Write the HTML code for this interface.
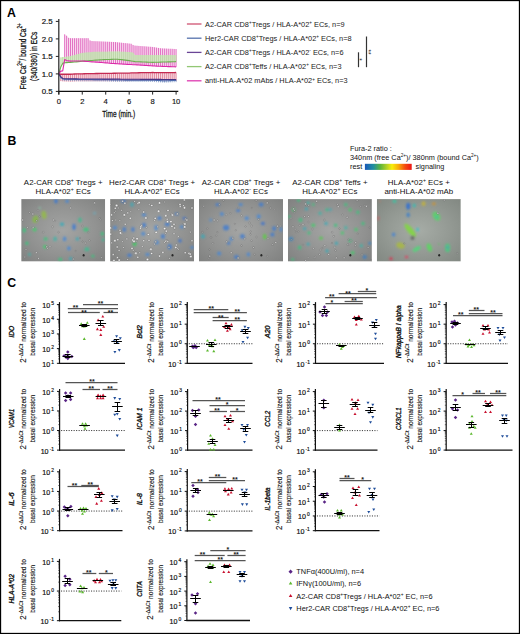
<!DOCTYPE html>
<html><head><meta charset="utf-8"><style>
html,body{margin:0;padding:0;background:#fff;}
body{width:520px;height:634px;overflow:hidden;position:relative;}
svg{position:absolute;left:0;top:0;display:block;font-family:"Liberation Sans", sans-serif;}
</style></head><body>
<svg width="520" height="634" viewBox="0 0 520 634">
<rect x="0" y="0" width="520" height="634" fill="#fff"/>
<text transform="translate(6.90,17.00)" font-size="12.3" text-anchor="start" fill="#000" font-weight="bold" >A</text>
<text transform="translate(7.50,144.90)" font-size="12.3" text-anchor="start" fill="#000" font-weight="bold" >B</text>
<text transform="translate(7.20,287.30)" font-size="12.3" text-anchor="start" fill="#000" font-weight="bold" >C</text>
<polygon points="64.66,59.55 66.62,60.58 68.58,60.84 70.53,61.09 72.48,61.07 74.44,61.04 76.39,61.02 78.35,61.00 80.30,60.97 82.26,60.95 84.22,61.14 86.17,61.34 88.12,61.53 90.08,61.70 92.03,61.83 93.99,61.96 95.94,62.09 97.90,62.22 99.85,62.35 101.81,62.52 103.77,62.70 105.72,62.88 107.68,63.05 109.63,63.23 111.59,63.40 113.54,63.52 115.50,63.63 117.45,63.75 119.41,63.87 121.36,63.98 123.31,64.10 125.27,64.22 127.22,64.33 129.18,64.45 131.13,64.57 133.09,64.68 135.05,64.80 137.00,64.92 138.95,65.03 140.91,65.15 142.87,65.27 144.82,65.38 146.78,65.50 148.73,65.62 150.69,65.73 152.64,65.85 154.59,65.97 156.55,66.08 158.50,66.20 160.46,66.28 162.42,66.36 164.37,66.43 166.32,66.51 168.28,66.59 170.24,66.67 172.19,66.74 174.15,66.82 176.10,66.90 176.10,49.05 174.15,48.96 172.19,48.87 170.24,48.78 168.28,48.69 166.32,48.60 164.37,48.51 162.42,48.42 160.46,48.28 158.50,47.95 156.55,47.62 154.59,47.28 152.64,46.95 150.69,46.80 148.73,46.66 146.78,46.51 144.82,46.37 142.87,46.22 140.91,46.08 138.95,45.93 137.00,45.78 135.05,45.64 133.09,44.97 131.13,43.76 129.18,43.55 127.22,43.34 125.27,43.13 123.31,42.93 121.36,42.72 119.41,42.51 117.45,42.30 115.50,42.09 113.54,41.98 111.59,41.90 109.63,41.82 107.68,41.73 105.72,41.65 103.77,41.57 101.81,41.48 99.85,41.40 97.90,41.32 95.94,41.23 93.99,41.15 92.03,41.07 90.08,40.53 88.12,38.20 86.17,38.20 84.22,38.20 82.26,38.20 80.30,38.20 78.35,38.20 76.39,38.20 74.44,38.20 72.48,38.20 70.53,38.20 68.58,37.86 66.62,35.72 64.66,34.35" fill="#fae4f3" fill-opacity="1.0"/>
<line x1="64.66" y1="59.55" x2="64.66" y2="34.35" stroke="#e068c0" stroke-width="0.95" />
<line x1="66.62" y1="60.58" x2="66.62" y2="35.72" stroke="#e068c0" stroke-width="0.95" />
<line x1="68.58" y1="60.84" x2="68.58" y2="37.86" stroke="#e068c0" stroke-width="0.95" />
<line x1="70.53" y1="61.09" x2="70.53" y2="38.20" stroke="#e068c0" stroke-width="0.95" />
<line x1="72.48" y1="61.07" x2="72.48" y2="38.20" stroke="#e068c0" stroke-width="0.95" />
<line x1="74.44" y1="61.04" x2="74.44" y2="38.20" stroke="#e068c0" stroke-width="0.95" />
<line x1="76.39" y1="61.02" x2="76.39" y2="38.20" stroke="#e068c0" stroke-width="0.95" />
<line x1="78.35" y1="61.00" x2="78.35" y2="38.20" stroke="#e068c0" stroke-width="0.95" />
<line x1="80.30" y1="60.97" x2="80.30" y2="38.20" stroke="#e068c0" stroke-width="0.95" />
<line x1="82.26" y1="60.95" x2="82.26" y2="38.20" stroke="#e068c0" stroke-width="0.95" />
<line x1="84.22" y1="61.14" x2="84.22" y2="38.20" stroke="#e068c0" stroke-width="0.95" />
<line x1="86.17" y1="61.34" x2="86.17" y2="38.20" stroke="#e068c0" stroke-width="0.95" />
<line x1="88.12" y1="61.53" x2="88.12" y2="38.20" stroke="#e068c0" stroke-width="0.95" />
<line x1="90.08" y1="61.70" x2="90.08" y2="40.53" stroke="#e068c0" stroke-width="0.95" />
<line x1="92.03" y1="61.83" x2="92.03" y2="41.07" stroke="#e068c0" stroke-width="0.95" />
<line x1="93.99" y1="61.96" x2="93.99" y2="41.15" stroke="#e068c0" stroke-width="0.95" />
<line x1="95.94" y1="62.09" x2="95.94" y2="41.23" stroke="#e068c0" stroke-width="0.95" />
<line x1="97.90" y1="62.22" x2="97.90" y2="41.32" stroke="#e068c0" stroke-width="0.95" />
<line x1="99.85" y1="62.35" x2="99.85" y2="41.40" stroke="#e068c0" stroke-width="0.95" />
<line x1="101.81" y1="62.52" x2="101.81" y2="41.48" stroke="#e068c0" stroke-width="0.95" />
<line x1="103.77" y1="62.70" x2="103.77" y2="41.57" stroke="#e068c0" stroke-width="0.95" />
<line x1="105.72" y1="62.88" x2="105.72" y2="41.65" stroke="#e068c0" stroke-width="0.95" />
<line x1="107.68" y1="63.05" x2="107.68" y2="41.73" stroke="#e068c0" stroke-width="0.95" />
<line x1="109.63" y1="63.23" x2="109.63" y2="41.82" stroke="#e068c0" stroke-width="0.95" />
<line x1="111.59" y1="63.40" x2="111.59" y2="41.90" stroke="#e068c0" stroke-width="0.95" />
<line x1="113.54" y1="63.52" x2="113.54" y2="41.98" stroke="#e068c0" stroke-width="0.95" />
<line x1="115.50" y1="63.63" x2="115.50" y2="42.09" stroke="#e068c0" stroke-width="0.95" />
<line x1="117.45" y1="63.75" x2="117.45" y2="42.30" stroke="#e068c0" stroke-width="0.95" />
<line x1="119.41" y1="63.87" x2="119.41" y2="42.51" stroke="#e068c0" stroke-width="0.95" />
<line x1="121.36" y1="63.98" x2="121.36" y2="42.72" stroke="#e068c0" stroke-width="0.95" />
<line x1="123.31" y1="64.10" x2="123.31" y2="42.93" stroke="#e068c0" stroke-width="0.95" />
<line x1="125.27" y1="64.22" x2="125.27" y2="43.13" stroke="#e068c0" stroke-width="0.95" />
<line x1="127.22" y1="64.33" x2="127.22" y2="43.34" stroke="#e068c0" stroke-width="0.95" />
<line x1="129.18" y1="64.45" x2="129.18" y2="43.55" stroke="#e068c0" stroke-width="0.95" />
<line x1="131.13" y1="64.57" x2="131.13" y2="43.76" stroke="#e068c0" stroke-width="0.95" />
<line x1="133.09" y1="64.68" x2="133.09" y2="44.97" stroke="#e068c0" stroke-width="0.95" />
<line x1="135.05" y1="64.80" x2="135.05" y2="45.64" stroke="#e068c0" stroke-width="0.95" />
<line x1="137.00" y1="64.92" x2="137.00" y2="45.78" stroke="#e068c0" stroke-width="0.95" />
<line x1="138.95" y1="65.03" x2="138.95" y2="45.93" stroke="#e068c0" stroke-width="0.95" />
<line x1="140.91" y1="65.15" x2="140.91" y2="46.08" stroke="#e068c0" stroke-width="0.95" />
<line x1="142.87" y1="65.27" x2="142.87" y2="46.22" stroke="#e068c0" stroke-width="0.95" />
<line x1="144.82" y1="65.38" x2="144.82" y2="46.37" stroke="#e068c0" stroke-width="0.95" />
<line x1="146.78" y1="65.50" x2="146.78" y2="46.51" stroke="#e068c0" stroke-width="0.95" />
<line x1="148.73" y1="65.62" x2="148.73" y2="46.66" stroke="#e068c0" stroke-width="0.95" />
<line x1="150.69" y1="65.73" x2="150.69" y2="46.80" stroke="#e068c0" stroke-width="0.95" />
<line x1="152.64" y1="65.85" x2="152.64" y2="46.95" stroke="#e068c0" stroke-width="0.95" />
<line x1="154.59" y1="65.97" x2="154.59" y2="47.28" stroke="#e068c0" stroke-width="0.95" />
<line x1="156.55" y1="66.08" x2="156.55" y2="47.62" stroke="#e068c0" stroke-width="0.95" />
<line x1="158.50" y1="66.20" x2="158.50" y2="47.95" stroke="#e068c0" stroke-width="0.95" />
<line x1="160.46" y1="66.28" x2="160.46" y2="48.28" stroke="#e068c0" stroke-width="0.95" />
<line x1="162.42" y1="66.36" x2="162.42" y2="48.42" stroke="#e068c0" stroke-width="0.95" />
<line x1="164.37" y1="66.43" x2="164.37" y2="48.51" stroke="#e068c0" stroke-width="0.95" />
<line x1="166.32" y1="66.51" x2="166.32" y2="48.60" stroke="#e068c0" stroke-width="0.95" />
<line x1="168.28" y1="66.59" x2="168.28" y2="48.69" stroke="#e068c0" stroke-width="0.95" />
<line x1="170.24" y1="66.67" x2="170.24" y2="48.78" stroke="#e068c0" stroke-width="0.95" />
<line x1="172.19" y1="66.74" x2="172.19" y2="48.87" stroke="#e068c0" stroke-width="0.95" />
<line x1="174.15" y1="66.82" x2="174.15" y2="48.96" stroke="#e068c0" stroke-width="0.95" />
<line x1="176.10" y1="66.90" x2="176.10" y2="49.05" stroke="#e068c0" stroke-width="0.95" />
<polygon points="60.75,67.04 62.71,63.39 64.66,62.70 66.62,62.58 68.58,62.47 70.53,62.35 72.48,62.17 74.44,62.00 76.39,61.83 78.35,61.65 80.30,61.48 82.26,61.30 84.22,61.13 86.17,60.95 88.12,60.78 90.08,60.60 92.03,60.43 93.99,60.25 95.94,60.13 97.90,60.02 99.85,59.90 101.81,59.78 103.77,59.67 105.72,59.55 107.68,59.49 109.63,59.43 111.59,59.38 113.54,59.32 115.50,59.26 117.45,59.20 119.41,59.43 121.36,59.67 123.31,59.90 125.27,60.13 127.22,60.37 129.18,60.60 131.13,60.95 133.09,61.30 135.05,61.65 137.00,61.73 138.95,61.81 140.91,61.88 142.87,61.96 144.82,62.04 146.78,62.12 148.73,62.19 150.69,62.27 152.64,62.35 154.59,62.29 156.55,62.23 158.50,62.18 160.46,62.12 162.42,62.06 164.37,62.00 166.32,61.94 168.28,61.88 170.24,61.83 172.19,61.77 174.15,61.71 176.10,61.65 176.10,55.00 174.15,55.00 172.19,55.00 170.24,55.00 168.28,55.00 166.32,55.00 164.37,55.00 162.42,55.00 160.46,55.00 158.50,55.00 156.55,55.00 154.59,55.00 152.64,55.00 150.69,55.00 148.73,55.00 146.78,55.00 144.82,55.00 142.87,55.00 140.91,55.00 138.95,55.00 137.00,55.00 135.05,55.00 133.09,52.67 131.13,52.13 129.18,52.04 127.22,51.95 125.27,51.86 123.31,51.77 121.36,51.68 119.41,51.59 117.45,51.50 115.50,51.53 113.54,51.56 111.59,51.59 109.63,51.62 107.68,51.65 105.72,51.68 103.77,51.70 101.81,51.73 99.85,51.76 97.90,51.79 95.94,51.82 93.99,51.85 92.03,52.03 90.08,52.20 88.12,52.38 86.17,52.55 84.22,52.73 82.26,52.90 80.30,53.43 78.35,53.95 76.39,54.48 74.44,55.00 72.48,55.52 70.53,56.05 68.58,56.40 66.62,56.75 64.66,57.10 62.71,57.10 60.75,57.43" fill="#cfe8bf" fill-opacity="0.8"/>
<line x1="60.75" y1="67.04" x2="60.75" y2="57.43" stroke="#b8dca2" stroke-width="0.8" />
<line x1="62.71" y1="63.39" x2="62.71" y2="57.10" stroke="#b8dca2" stroke-width="0.8" />
<line x1="64.66" y1="62.70" x2="64.66" y2="57.10" stroke="#b8dca2" stroke-width="0.8" />
<line x1="66.62" y1="62.58" x2="66.62" y2="56.75" stroke="#b8dca2" stroke-width="0.8" />
<line x1="68.58" y1="62.47" x2="68.58" y2="56.40" stroke="#b8dca2" stroke-width="0.8" />
<line x1="70.53" y1="62.35" x2="70.53" y2="56.05" stroke="#b8dca2" stroke-width="0.8" />
<line x1="72.48" y1="62.17" x2="72.48" y2="55.52" stroke="#b8dca2" stroke-width="0.8" />
<line x1="74.44" y1="62.00" x2="74.44" y2="55.00" stroke="#b8dca2" stroke-width="0.8" />
<line x1="76.39" y1="61.83" x2="76.39" y2="54.48" stroke="#b8dca2" stroke-width="0.8" />
<line x1="78.35" y1="61.65" x2="78.35" y2="53.95" stroke="#b8dca2" stroke-width="0.8" />
<line x1="80.30" y1="61.48" x2="80.30" y2="53.43" stroke="#b8dca2" stroke-width="0.8" />
<line x1="82.26" y1="61.30" x2="82.26" y2="52.90" stroke="#b8dca2" stroke-width="0.8" />
<line x1="84.22" y1="61.13" x2="84.22" y2="52.73" stroke="#b8dca2" stroke-width="0.8" />
<line x1="86.17" y1="60.95" x2="86.17" y2="52.55" stroke="#b8dca2" stroke-width="0.8" />
<line x1="88.12" y1="60.78" x2="88.12" y2="52.38" stroke="#b8dca2" stroke-width="0.8" />
<line x1="90.08" y1="60.60" x2="90.08" y2="52.20" stroke="#b8dca2" stroke-width="0.8" />
<line x1="92.03" y1="60.43" x2="92.03" y2="52.03" stroke="#b8dca2" stroke-width="0.8" />
<line x1="93.99" y1="60.25" x2="93.99" y2="51.85" stroke="#b8dca2" stroke-width="0.8" />
<line x1="95.94" y1="60.13" x2="95.94" y2="51.82" stroke="#b8dca2" stroke-width="0.8" />
<line x1="97.90" y1="60.02" x2="97.90" y2="51.79" stroke="#b8dca2" stroke-width="0.8" />
<line x1="99.85" y1="59.90" x2="99.85" y2="51.76" stroke="#b8dca2" stroke-width="0.8" />
<line x1="101.81" y1="59.78" x2="101.81" y2="51.73" stroke="#b8dca2" stroke-width="0.8" />
<line x1="103.77" y1="59.67" x2="103.77" y2="51.70" stroke="#b8dca2" stroke-width="0.8" />
<line x1="105.72" y1="59.55" x2="105.72" y2="51.68" stroke="#b8dca2" stroke-width="0.8" />
<line x1="107.68" y1="59.49" x2="107.68" y2="51.65" stroke="#b8dca2" stroke-width="0.8" />
<line x1="109.63" y1="59.43" x2="109.63" y2="51.62" stroke="#b8dca2" stroke-width="0.8" />
<line x1="111.59" y1="59.38" x2="111.59" y2="51.59" stroke="#b8dca2" stroke-width="0.8" />
<line x1="113.54" y1="59.32" x2="113.54" y2="51.56" stroke="#b8dca2" stroke-width="0.8" />
<line x1="115.50" y1="59.26" x2="115.50" y2="51.53" stroke="#b8dca2" stroke-width="0.8" />
<line x1="117.45" y1="59.20" x2="117.45" y2="51.50" stroke="#b8dca2" stroke-width="0.8" />
<line x1="119.41" y1="59.43" x2="119.41" y2="51.59" stroke="#b8dca2" stroke-width="0.8" />
<line x1="121.36" y1="59.67" x2="121.36" y2="51.68" stroke="#b8dca2" stroke-width="0.8" />
<line x1="123.31" y1="59.90" x2="123.31" y2="51.77" stroke="#b8dca2" stroke-width="0.8" />
<line x1="125.27" y1="60.13" x2="125.27" y2="51.86" stroke="#b8dca2" stroke-width="0.8" />
<line x1="127.22" y1="60.37" x2="127.22" y2="51.95" stroke="#b8dca2" stroke-width="0.8" />
<line x1="129.18" y1="60.60" x2="129.18" y2="52.04" stroke="#b8dca2" stroke-width="0.8" />
<line x1="131.13" y1="60.95" x2="131.13" y2="52.13" stroke="#b8dca2" stroke-width="0.8" />
<line x1="133.09" y1="61.30" x2="133.09" y2="52.67" stroke="#b8dca2" stroke-width="0.8" />
<line x1="135.05" y1="61.65" x2="135.05" y2="55.00" stroke="#b8dca2" stroke-width="0.8" />
<line x1="137.00" y1="61.73" x2="137.00" y2="55.00" stroke="#b8dca2" stroke-width="0.8" />
<line x1="138.95" y1="61.81" x2="138.95" y2="55.00" stroke="#b8dca2" stroke-width="0.8" />
<line x1="140.91" y1="61.88" x2="140.91" y2="55.00" stroke="#b8dca2" stroke-width="0.8" />
<line x1="142.87" y1="61.96" x2="142.87" y2="55.00" stroke="#b8dca2" stroke-width="0.8" />
<line x1="144.82" y1="62.04" x2="144.82" y2="55.00" stroke="#b8dca2" stroke-width="0.8" />
<line x1="146.78" y1="62.12" x2="146.78" y2="55.00" stroke="#b8dca2" stroke-width="0.8" />
<line x1="148.73" y1="62.19" x2="148.73" y2="55.00" stroke="#b8dca2" stroke-width="0.8" />
<line x1="150.69" y1="62.27" x2="150.69" y2="55.00" stroke="#b8dca2" stroke-width="0.8" />
<line x1="152.64" y1="62.35" x2="152.64" y2="55.00" stroke="#b8dca2" stroke-width="0.8" />
<line x1="154.59" y1="62.29" x2="154.59" y2="55.00" stroke="#b8dca2" stroke-width="0.8" />
<line x1="156.55" y1="62.23" x2="156.55" y2="55.00" stroke="#b8dca2" stroke-width="0.8" />
<line x1="158.50" y1="62.18" x2="158.50" y2="55.00" stroke="#b8dca2" stroke-width="0.8" />
<line x1="160.46" y1="62.12" x2="160.46" y2="55.00" stroke="#b8dca2" stroke-width="0.8" />
<line x1="162.42" y1="62.06" x2="162.42" y2="55.00" stroke="#b8dca2" stroke-width="0.8" />
<line x1="164.37" y1="62.00" x2="164.37" y2="55.00" stroke="#b8dca2" stroke-width="0.8" />
<line x1="166.32" y1="61.94" x2="166.32" y2="55.00" stroke="#b8dca2" stroke-width="0.8" />
<line x1="168.28" y1="61.88" x2="168.28" y2="55.00" stroke="#b8dca2" stroke-width="0.8" />
<line x1="170.24" y1="61.83" x2="170.24" y2="55.00" stroke="#b8dca2" stroke-width="0.8" />
<line x1="172.19" y1="61.77" x2="172.19" y2="55.00" stroke="#b8dca2" stroke-width="0.8" />
<line x1="174.15" y1="61.71" x2="174.15" y2="55.00" stroke="#b8dca2" stroke-width="0.8" />
<line x1="176.10" y1="61.65" x2="176.10" y2="55.00" stroke="#b8dca2" stroke-width="0.8" />
<polygon points="60.75,74.24 62.71,74.25 64.66,74.25 66.62,74.25 68.58,74.25 70.53,74.25 72.48,74.13 74.44,74.02 76.39,73.90 78.35,73.86 80.30,73.82 82.26,73.78 84.22,73.74 86.17,73.71 88.12,73.67 90.08,73.63 92.03,73.59 93.99,73.55 95.94,73.52 97.90,73.49 99.85,73.46 101.81,73.43 103.77,73.40 105.72,73.38 107.68,73.35 109.63,73.32 111.59,73.29 113.54,73.26 115.50,73.23 117.45,73.20 119.41,73.17 121.36,73.14 123.31,73.11 125.27,73.08 127.22,73.05 129.18,73.03 131.13,72.97 133.09,72.91 135.05,72.85 137.00,72.79 138.95,72.73 140.91,72.68 142.87,72.65 144.82,72.62 146.78,72.59 148.73,72.56 150.69,72.53 152.64,72.50 154.59,72.53 156.55,72.56 158.50,72.59 160.46,72.62 162.42,72.65 164.37,72.68 166.32,72.65 168.28,72.62 170.24,72.59 172.19,72.56 174.15,72.53 176.10,72.50 176.10,80.90 174.15,80.92 172.19,80.94 170.24,80.95 168.28,80.97 166.32,80.99 164.37,81.01 162.42,80.96 160.46,80.92 158.50,80.88 156.55,80.84 154.59,80.80 152.64,80.76 150.69,80.78 148.73,80.80 146.78,80.81 144.82,80.83 142.87,80.85 140.91,80.87 138.95,80.91 137.00,80.96 135.05,81.01 133.09,81.05 131.13,81.10 129.18,81.15 127.22,81.16 125.27,81.18 123.31,81.20 121.36,81.22 119.41,81.23 117.45,81.25 115.50,81.25 113.54,81.25 111.59,81.25 109.63,81.25 107.68,81.25 105.72,81.25 103.77,81.25 101.81,81.25 99.85,81.25 97.90,81.25 95.94,81.25 93.99,81.25 92.03,81.26 90.08,81.27 88.12,81.28 86.17,81.29 84.22,81.30 82.26,81.31 80.30,81.32 78.35,81.33 76.39,81.34 74.44,81.43 72.48,81.51 70.53,81.60 68.58,81.53 66.62,81.46 64.66,81.39 62.71,81.32 60.75,81.11" fill="#f8e0e6" fill-opacity="1.0"/>
<line x1="60.75" y1="74.24" x2="60.75" y2="81.11" stroke="#e07a92" stroke-width="0.85" />
<line x1="62.71" y1="74.25" x2="62.71" y2="81.32" stroke="#e07a92" stroke-width="0.85" />
<line x1="64.66" y1="74.25" x2="64.66" y2="81.39" stroke="#e07a92" stroke-width="0.85" />
<line x1="66.62" y1="74.25" x2="66.62" y2="81.46" stroke="#e07a92" stroke-width="0.85" />
<line x1="68.58" y1="74.25" x2="68.58" y2="81.53" stroke="#e07a92" stroke-width="0.85" />
<line x1="70.53" y1="74.25" x2="70.53" y2="81.60" stroke="#e07a92" stroke-width="0.85" />
<line x1="72.48" y1="74.13" x2="72.48" y2="81.51" stroke="#e07a92" stroke-width="0.85" />
<line x1="74.44" y1="74.02" x2="74.44" y2="81.43" stroke="#e07a92" stroke-width="0.85" />
<line x1="76.39" y1="73.90" x2="76.39" y2="81.34" stroke="#e07a92" stroke-width="0.85" />
<line x1="78.35" y1="73.86" x2="78.35" y2="81.33" stroke="#e07a92" stroke-width="0.85" />
<line x1="80.30" y1="73.82" x2="80.30" y2="81.32" stroke="#e07a92" stroke-width="0.85" />
<line x1="82.26" y1="73.78" x2="82.26" y2="81.31" stroke="#e07a92" stroke-width="0.85" />
<line x1="84.22" y1="73.74" x2="84.22" y2="81.30" stroke="#e07a92" stroke-width="0.85" />
<line x1="86.17" y1="73.71" x2="86.17" y2="81.29" stroke="#e07a92" stroke-width="0.85" />
<line x1="88.12" y1="73.67" x2="88.12" y2="81.28" stroke="#e07a92" stroke-width="0.85" />
<line x1="90.08" y1="73.63" x2="90.08" y2="81.27" stroke="#e07a92" stroke-width="0.85" />
<line x1="92.03" y1="73.59" x2="92.03" y2="81.26" stroke="#e07a92" stroke-width="0.85" />
<line x1="93.99" y1="73.55" x2="93.99" y2="81.25" stroke="#e07a92" stroke-width="0.85" />
<line x1="95.94" y1="73.52" x2="95.94" y2="81.25" stroke="#e07a92" stroke-width="0.85" />
<line x1="97.90" y1="73.49" x2="97.90" y2="81.25" stroke="#e07a92" stroke-width="0.85" />
<line x1="99.85" y1="73.46" x2="99.85" y2="81.25" stroke="#e07a92" stroke-width="0.85" />
<line x1="101.81" y1="73.43" x2="101.81" y2="81.25" stroke="#e07a92" stroke-width="0.85" />
<line x1="103.77" y1="73.40" x2="103.77" y2="81.25" stroke="#e07a92" stroke-width="0.85" />
<line x1="105.72" y1="73.38" x2="105.72" y2="81.25" stroke="#e07a92" stroke-width="0.85" />
<line x1="107.68" y1="73.35" x2="107.68" y2="81.25" stroke="#e07a92" stroke-width="0.85" />
<line x1="109.63" y1="73.32" x2="109.63" y2="81.25" stroke="#e07a92" stroke-width="0.85" />
<line x1="111.59" y1="73.29" x2="111.59" y2="81.25" stroke="#e07a92" stroke-width="0.85" />
<line x1="113.54" y1="73.26" x2="113.54" y2="81.25" stroke="#e07a92" stroke-width="0.85" />
<line x1="115.50" y1="73.23" x2="115.50" y2="81.25" stroke="#e07a92" stroke-width="0.85" />
<line x1="117.45" y1="73.20" x2="117.45" y2="81.25" stroke="#e07a92" stroke-width="0.85" />
<line x1="119.41" y1="73.17" x2="119.41" y2="81.23" stroke="#e07a92" stroke-width="0.85" />
<line x1="121.36" y1="73.14" x2="121.36" y2="81.22" stroke="#e07a92" stroke-width="0.85" />
<line x1="123.31" y1="73.11" x2="123.31" y2="81.20" stroke="#e07a92" stroke-width="0.85" />
<line x1="125.27" y1="73.08" x2="125.27" y2="81.18" stroke="#e07a92" stroke-width="0.85" />
<line x1="127.22" y1="73.05" x2="127.22" y2="81.16" stroke="#e07a92" stroke-width="0.85" />
<line x1="129.18" y1="73.03" x2="129.18" y2="81.15" stroke="#e07a92" stroke-width="0.85" />
<line x1="131.13" y1="72.97" x2="131.13" y2="81.10" stroke="#e07a92" stroke-width="0.85" />
<line x1="133.09" y1="72.91" x2="133.09" y2="81.05" stroke="#e07a92" stroke-width="0.85" />
<line x1="135.05" y1="72.85" x2="135.05" y2="81.01" stroke="#e07a92" stroke-width="0.85" />
<line x1="137.00" y1="72.79" x2="137.00" y2="80.96" stroke="#e07a92" stroke-width="0.85" />
<line x1="138.95" y1="72.73" x2="138.95" y2="80.91" stroke="#e07a92" stroke-width="0.85" />
<line x1="140.91" y1="72.68" x2="140.91" y2="80.87" stroke="#e07a92" stroke-width="0.85" />
<line x1="142.87" y1="72.65" x2="142.87" y2="80.85" stroke="#e07a92" stroke-width="0.85" />
<line x1="144.82" y1="72.62" x2="144.82" y2="80.83" stroke="#e07a92" stroke-width="0.85" />
<line x1="146.78" y1="72.59" x2="146.78" y2="80.81" stroke="#e07a92" stroke-width="0.85" />
<line x1="148.73" y1="72.56" x2="148.73" y2="80.80" stroke="#e07a92" stroke-width="0.85" />
<line x1="150.69" y1="72.53" x2="150.69" y2="80.78" stroke="#e07a92" stroke-width="0.85" />
<line x1="152.64" y1="72.50" x2="152.64" y2="80.76" stroke="#e07a92" stroke-width="0.85" />
<line x1="154.59" y1="72.53" x2="154.59" y2="80.80" stroke="#e07a92" stroke-width="0.85" />
<line x1="156.55" y1="72.56" x2="156.55" y2="80.84" stroke="#e07a92" stroke-width="0.85" />
<line x1="158.50" y1="72.59" x2="158.50" y2="80.88" stroke="#e07a92" stroke-width="0.85" />
<line x1="160.46" y1="72.62" x2="160.46" y2="80.92" stroke="#e07a92" stroke-width="0.85" />
<line x1="162.42" y1="72.65" x2="162.42" y2="80.96" stroke="#e07a92" stroke-width="0.85" />
<line x1="164.37" y1="72.68" x2="164.37" y2="81.01" stroke="#e07a92" stroke-width="0.85" />
<line x1="166.32" y1="72.65" x2="166.32" y2="80.99" stroke="#e07a92" stroke-width="0.85" />
<line x1="168.28" y1="72.62" x2="168.28" y2="80.97" stroke="#e07a92" stroke-width="0.85" />
<line x1="170.24" y1="72.59" x2="170.24" y2="80.95" stroke="#e07a92" stroke-width="0.85" />
<line x1="172.19" y1="72.56" x2="172.19" y2="80.94" stroke="#e07a92" stroke-width="0.85" />
<line x1="174.15" y1="72.53" x2="174.15" y2="80.92" stroke="#e07a92" stroke-width="0.85" />
<line x1="176.10" y1="72.50" x2="176.10" y2="80.90" stroke="#e07a92" stroke-width="0.85" />
<line x1="60.75" y1="77.33" x2="60.75" y2="79.05" stroke="#8aa2cc" stroke-width="0.9" />
<line x1="62.71" y1="78.81" x2="62.71" y2="80.56" stroke="#8aa2cc" stroke-width="0.9" />
<line x1="64.66" y1="79.15" x2="64.66" y2="80.90" stroke="#8aa2cc" stroke-width="0.9" />
<line x1="66.62" y1="79.19" x2="66.62" y2="80.94" stroke="#8aa2cc" stroke-width="0.9" />
<line x1="68.58" y1="79.23" x2="68.58" y2="80.98" stroke="#8aa2cc" stroke-width="0.9" />
<line x1="70.53" y1="79.27" x2="70.53" y2="81.02" stroke="#8aa2cc" stroke-width="0.9" />
<line x1="72.48" y1="79.31" x2="72.48" y2="81.06" stroke="#8aa2cc" stroke-width="0.9" />
<line x1="74.44" y1="79.34" x2="74.44" y2="81.09" stroke="#8aa2cc" stroke-width="0.9" />
<line x1="76.39" y1="79.38" x2="76.39" y2="81.13" stroke="#8aa2cc" stroke-width="0.9" />
<line x1="78.35" y1="79.42" x2="78.35" y2="81.17" stroke="#8aa2cc" stroke-width="0.9" />
<line x1="80.30" y1="79.46" x2="80.30" y2="81.21" stroke="#8aa2cc" stroke-width="0.9" />
<line x1="82.26" y1="79.50" x2="82.26" y2="81.25" stroke="#8aa2cc" stroke-width="0.9" />
<line x1="84.22" y1="79.51" x2="84.22" y2="81.26" stroke="#8aa2cc" stroke-width="0.9" />
<line x1="86.17" y1="79.53" x2="86.17" y2="81.28" stroke="#8aa2cc" stroke-width="0.9" />
<line x1="88.12" y1="79.54" x2="88.12" y2="81.29" stroke="#8aa2cc" stroke-width="0.9" />
<line x1="90.08" y1="79.56" x2="90.08" y2="81.31" stroke="#8aa2cc" stroke-width="0.9" />
<line x1="92.03" y1="79.57" x2="92.03" y2="81.32" stroke="#8aa2cc" stroke-width="0.9" />
<line x1="93.99" y1="79.59" x2="93.99" y2="81.34" stroke="#8aa2cc" stroke-width="0.9" />
<line x1="95.94" y1="79.60" x2="95.94" y2="81.35" stroke="#8aa2cc" stroke-width="0.9" />
<line x1="97.90" y1="79.62" x2="97.90" y2="81.37" stroke="#8aa2cc" stroke-width="0.9" />
<line x1="99.85" y1="79.63" x2="99.85" y2="81.38" stroke="#8aa2cc" stroke-width="0.9" />
<line x1="101.81" y1="79.65" x2="101.81" y2="81.40" stroke="#8aa2cc" stroke-width="0.9" />
<line x1="103.77" y1="79.66" x2="103.77" y2="81.41" stroke="#8aa2cc" stroke-width="0.9" />
<line x1="105.72" y1="79.68" x2="105.72" y2="81.43" stroke="#8aa2cc" stroke-width="0.9" />
<line x1="107.68" y1="79.73" x2="107.68" y2="81.48" stroke="#8aa2cc" stroke-width="0.9" />
<line x1="109.63" y1="79.79" x2="109.63" y2="81.54" stroke="#8aa2cc" stroke-width="0.9" />
<line x1="111.59" y1="79.85" x2="111.59" y2="81.60" stroke="#8aa2cc" stroke-width="0.9" />
<line x1="113.54" y1="79.91" x2="113.54" y2="81.66" stroke="#8aa2cc" stroke-width="0.9" />
<line x1="115.50" y1="79.97" x2="115.50" y2="81.72" stroke="#8aa2cc" stroke-width="0.9" />
<line x1="117.45" y1="80.03" x2="117.45" y2="81.78" stroke="#8aa2cc" stroke-width="0.9" />
<line x1="119.41" y1="80.04" x2="119.41" y2="81.79" stroke="#8aa2cc" stroke-width="0.9" />
<line x1="121.36" y1="80.05" x2="121.36" y2="81.80" stroke="#8aa2cc" stroke-width="0.9" />
<line x1="123.31" y1="80.07" x2="123.31" y2="81.82" stroke="#8aa2cc" stroke-width="0.9" />
<line x1="125.27" y1="80.08" x2="125.27" y2="81.83" stroke="#8aa2cc" stroke-width="0.9" />
<line x1="127.22" y1="80.10" x2="127.22" y2="81.85" stroke="#8aa2cc" stroke-width="0.9" />
<line x1="129.18" y1="80.11" x2="129.18" y2="81.86" stroke="#8aa2cc" stroke-width="0.9" />
<line x1="131.13" y1="80.13" x2="131.13" y2="81.88" stroke="#8aa2cc" stroke-width="0.9" />
<line x1="133.09" y1="80.14" x2="133.09" y2="81.89" stroke="#8aa2cc" stroke-width="0.9" />
<line x1="135.05" y1="80.16" x2="135.05" y2="81.91" stroke="#8aa2cc" stroke-width="0.9" />
<line x1="137.00" y1="80.17" x2="137.00" y2="81.92" stroke="#8aa2cc" stroke-width="0.9" />
<line x1="138.95" y1="80.19" x2="138.95" y2="81.94" stroke="#8aa2cc" stroke-width="0.9" />
<line x1="140.91" y1="80.20" x2="140.91" y2="81.95" stroke="#8aa2cc" stroke-width="0.9" />
<line x1="142.87" y1="80.20" x2="142.87" y2="81.95" stroke="#8aa2cc" stroke-width="0.9" />
<line x1="144.82" y1="80.20" x2="144.82" y2="81.95" stroke="#8aa2cc" stroke-width="0.9" />
<line x1="146.78" y1="80.20" x2="146.78" y2="81.95" stroke="#8aa2cc" stroke-width="0.9" />
<line x1="148.73" y1="80.20" x2="148.73" y2="81.95" stroke="#8aa2cc" stroke-width="0.9" />
<line x1="150.69" y1="80.20" x2="150.69" y2="81.95" stroke="#8aa2cc" stroke-width="0.9" />
<line x1="152.64" y1="80.20" x2="152.64" y2="81.95" stroke="#8aa2cc" stroke-width="0.9" />
<line x1="154.59" y1="80.32" x2="154.59" y2="82.07" stroke="#8aa2cc" stroke-width="0.9" />
<line x1="156.55" y1="80.43" x2="156.55" y2="82.18" stroke="#8aa2cc" stroke-width="0.9" />
<line x1="158.50" y1="80.55" x2="158.50" y2="82.30" stroke="#8aa2cc" stroke-width="0.9" />
<line x1="160.46" y1="80.67" x2="160.46" y2="82.42" stroke="#8aa2cc" stroke-width="0.9" />
<line x1="162.42" y1="80.78" x2="162.42" y2="82.53" stroke="#8aa2cc" stroke-width="0.9" />
<line x1="164.37" y1="80.90" x2="164.37" y2="82.65" stroke="#8aa2cc" stroke-width="0.9" />
<line x1="166.32" y1="80.81" x2="166.32" y2="82.56" stroke="#8aa2cc" stroke-width="0.9" />
<line x1="168.28" y1="80.73" x2="168.28" y2="82.48" stroke="#8aa2cc" stroke-width="0.9" />
<line x1="170.24" y1="80.64" x2="170.24" y2="82.39" stroke="#8aa2cc" stroke-width="0.9" />
<line x1="172.19" y1="80.55" x2="172.19" y2="82.30" stroke="#8aa2cc" stroke-width="0.9" />
<line x1="174.15" y1="80.46" x2="174.15" y2="82.21" stroke="#8aa2cc" stroke-width="0.9" />
<line x1="176.10" y1="80.38" x2="176.10" y2="82.13" stroke="#8aa2cc" stroke-width="0.9" />
<line x1="60.75" y1="76.65" x2="60.75" y2="77.67" stroke="#8a78b0" stroke-width="0.9" />
<line x1="62.71" y1="78.46" x2="62.71" y2="79.51" stroke="#8a78b0" stroke-width="0.9" />
<line x1="64.66" y1="78.80" x2="64.66" y2="79.85" stroke="#8a78b0" stroke-width="0.9" />
<line x1="66.62" y1="78.82" x2="66.62" y2="79.87" stroke="#8a78b0" stroke-width="0.9" />
<line x1="68.58" y1="78.84" x2="68.58" y2="79.89" stroke="#8a78b0" stroke-width="0.9" />
<line x1="70.53" y1="78.86" x2="70.53" y2="79.91" stroke="#8a78b0" stroke-width="0.9" />
<line x1="72.48" y1="78.88" x2="72.48" y2="79.93" stroke="#8a78b0" stroke-width="0.9" />
<line x1="74.44" y1="78.90" x2="74.44" y2="79.95" stroke="#8a78b0" stroke-width="0.9" />
<line x1="76.39" y1="78.92" x2="76.39" y2="79.97" stroke="#8a78b0" stroke-width="0.9" />
<line x1="78.35" y1="78.94" x2="78.35" y2="79.99" stroke="#8a78b0" stroke-width="0.9" />
<line x1="80.30" y1="78.96" x2="80.30" y2="80.01" stroke="#8a78b0" stroke-width="0.9" />
<line x1="82.26" y1="78.98" x2="82.26" y2="80.03" stroke="#8a78b0" stroke-width="0.9" />
<line x1="84.22" y1="78.98" x2="84.22" y2="80.03" stroke="#8a78b0" stroke-width="0.9" />
<line x1="86.17" y1="78.99" x2="86.17" y2="80.04" stroke="#8a78b0" stroke-width="0.9" />
<line x1="88.12" y1="79.00" x2="88.12" y2="80.05" stroke="#8a78b0" stroke-width="0.9" />
<line x1="90.08" y1="79.01" x2="90.08" y2="80.06" stroke="#8a78b0" stroke-width="0.9" />
<line x1="92.03" y1="79.02" x2="92.03" y2="80.07" stroke="#8a78b0" stroke-width="0.9" />
<line x1="93.99" y1="79.03" x2="93.99" y2="80.08" stroke="#8a78b0" stroke-width="0.9" />
<line x1="95.94" y1="79.04" x2="95.94" y2="80.09" stroke="#8a78b0" stroke-width="0.9" />
<line x1="97.90" y1="79.05" x2="97.90" y2="80.10" stroke="#8a78b0" stroke-width="0.9" />
<line x1="99.85" y1="79.06" x2="99.85" y2="80.11" stroke="#8a78b0" stroke-width="0.9" />
<line x1="101.81" y1="79.07" x2="101.81" y2="80.12" stroke="#8a78b0" stroke-width="0.9" />
<line x1="103.77" y1="79.08" x2="103.77" y2="80.13" stroke="#8a78b0" stroke-width="0.9" />
<line x1="105.72" y1="79.09" x2="105.72" y2="80.14" stroke="#8a78b0" stroke-width="0.9" />
<line x1="107.68" y1="79.10" x2="107.68" y2="80.15" stroke="#8a78b0" stroke-width="0.9" />
<line x1="109.63" y1="79.11" x2="109.63" y2="80.16" stroke="#8a78b0" stroke-width="0.9" />
<line x1="111.59" y1="79.12" x2="111.59" y2="80.17" stroke="#8a78b0" stroke-width="0.9" />
<line x1="113.54" y1="79.13" x2="113.54" y2="80.18" stroke="#8a78b0" stroke-width="0.9" />
<line x1="115.50" y1="79.14" x2="115.50" y2="80.19" stroke="#8a78b0" stroke-width="0.9" />
<line x1="117.45" y1="79.15" x2="117.45" y2="80.20" stroke="#8a78b0" stroke-width="0.9" />
<line x1="119.41" y1="79.16" x2="119.41" y2="80.21" stroke="#8a78b0" stroke-width="0.9" />
<line x1="121.36" y1="79.18" x2="121.36" y2="80.23" stroke="#8a78b0" stroke-width="0.9" />
<line x1="123.31" y1="79.19" x2="123.31" y2="80.24" stroke="#8a78b0" stroke-width="0.9" />
<line x1="125.27" y1="79.21" x2="125.27" y2="80.26" stroke="#8a78b0" stroke-width="0.9" />
<line x1="127.22" y1="79.22" x2="127.22" y2="80.27" stroke="#8a78b0" stroke-width="0.9" />
<line x1="129.18" y1="79.24" x2="129.18" y2="80.29" stroke="#8a78b0" stroke-width="0.9" />
<line x1="131.13" y1="79.25" x2="131.13" y2="80.30" stroke="#8a78b0" stroke-width="0.9" />
<line x1="133.09" y1="79.27" x2="133.09" y2="80.32" stroke="#8a78b0" stroke-width="0.9" />
<line x1="135.05" y1="79.28" x2="135.05" y2="80.33" stroke="#8a78b0" stroke-width="0.9" />
<line x1="137.00" y1="79.30" x2="137.00" y2="80.35" stroke="#8a78b0" stroke-width="0.9" />
<line x1="138.95" y1="79.31" x2="138.95" y2="80.36" stroke="#8a78b0" stroke-width="0.9" />
<line x1="140.91" y1="79.33" x2="140.91" y2="80.38" stroke="#8a78b0" stroke-width="0.9" />
<line x1="142.87" y1="79.33" x2="142.87" y2="80.38" stroke="#8a78b0" stroke-width="0.9" />
<line x1="144.82" y1="79.34" x2="144.82" y2="80.39" stroke="#8a78b0" stroke-width="0.9" />
<line x1="146.78" y1="79.35" x2="146.78" y2="80.40" stroke="#8a78b0" stroke-width="0.9" />
<line x1="148.73" y1="79.36" x2="148.73" y2="80.41" stroke="#8a78b0" stroke-width="0.9" />
<line x1="150.69" y1="79.37" x2="150.69" y2="80.42" stroke="#8a78b0" stroke-width="0.9" />
<line x1="152.64" y1="79.38" x2="152.64" y2="80.43" stroke="#8a78b0" stroke-width="0.9" />
<line x1="154.59" y1="79.39" x2="154.59" y2="80.44" stroke="#8a78b0" stroke-width="0.9" />
<line x1="156.55" y1="79.40" x2="156.55" y2="80.45" stroke="#8a78b0" stroke-width="0.9" />
<line x1="158.50" y1="79.41" x2="158.50" y2="80.46" stroke="#8a78b0" stroke-width="0.9" />
<line x1="160.46" y1="79.42" x2="160.46" y2="80.47" stroke="#8a78b0" stroke-width="0.9" />
<line x1="162.42" y1="79.43" x2="162.42" y2="80.48" stroke="#8a78b0" stroke-width="0.9" />
<line x1="164.37" y1="79.44" x2="164.37" y2="80.49" stroke="#8a78b0" stroke-width="0.9" />
<line x1="166.32" y1="79.45" x2="166.32" y2="80.50" stroke="#8a78b0" stroke-width="0.9" />
<line x1="168.28" y1="79.46" x2="168.28" y2="80.51" stroke="#8a78b0" stroke-width="0.9" />
<line x1="170.24" y1="79.47" x2="170.24" y2="80.52" stroke="#8a78b0" stroke-width="0.9" />
<line x1="172.19" y1="79.48" x2="172.19" y2="80.53" stroke="#8a78b0" stroke-width="0.9" />
<line x1="174.15" y1="79.49" x2="174.15" y2="80.54" stroke="#8a78b0" stroke-width="0.9" />
<line x1="176.10" y1="79.50" x2="176.10" y2="80.55" stroke="#8a78b0" stroke-width="0.9" />
<polyline points="58.80,73.90 60.75,74.24 62.71,74.25 64.66,74.25 66.62,74.25 68.58,74.25 70.53,74.25 72.48,74.13 74.44,74.02 76.39,73.90 78.35,73.86 80.30,73.82 82.26,73.78 84.22,73.74 86.17,73.71 88.12,73.67 90.08,73.63 92.03,73.59 93.99,73.55 95.94,73.52 97.90,73.49 99.85,73.46 101.81,73.43 103.77,73.40 105.72,73.38 107.68,73.35 109.63,73.32 111.59,73.29 113.54,73.26 115.50,73.23 117.45,73.20 119.41,73.17 121.36,73.14 123.31,73.11 125.27,73.08 127.22,73.05 129.18,73.03 131.13,72.97 133.09,72.91 135.05,72.85 137.00,72.79 138.95,72.73 140.91,72.68 142.87,72.65 144.82,72.62 146.78,72.59 148.73,72.56 150.69,72.53 152.64,72.50 154.59,72.53 156.55,72.56 158.50,72.59 160.46,72.62 162.42,72.65 164.37,72.68 166.32,72.65 168.28,72.62 170.24,72.59 172.19,72.56 174.15,72.53 176.10,72.50" fill="none" stroke="#c42a52" stroke-width="1.3" stroke-linejoin="round"/>
<polyline points="58.80,73.90 60.75,77.33 62.71,78.81 64.66,79.15 66.62,79.19 68.58,79.23 70.53,79.27 72.48,79.31 74.44,79.34 76.39,79.38 78.35,79.42 80.30,79.46 82.26,79.50 84.22,79.51 86.17,79.53 88.12,79.54 90.08,79.56 92.03,79.57 93.99,79.59 95.94,79.60 97.90,79.62 99.85,79.63 101.81,79.65 103.77,79.66 105.72,79.68 107.68,79.73 109.63,79.79 111.59,79.85 113.54,79.91 115.50,79.97 117.45,80.03 119.41,80.04 121.36,80.05 123.31,80.07 125.27,80.08 127.22,80.10 129.18,80.11 131.13,80.13 133.09,80.14 135.05,80.16 137.00,80.17 138.95,80.19 140.91,80.20 142.87,80.20 144.82,80.20 146.78,80.20 148.73,80.20 150.69,80.20 152.64,80.20 154.59,80.32 156.55,80.43 158.50,80.55 160.46,80.67 162.42,80.78 164.37,80.90 166.32,80.81 168.28,80.73 170.24,80.64 172.19,80.55 174.15,80.46 176.10,80.38" fill="none" stroke="#4e6cae" stroke-width="1.1" stroke-linejoin="round"/>
<polyline points="58.80,73.90 60.75,76.65 62.71,78.46 64.66,78.80 66.62,78.82 68.58,78.84 70.53,78.86 72.48,78.88 74.44,78.90 76.39,78.92 78.35,78.94 80.30,78.96 82.26,78.98 84.22,78.98 86.17,78.99 88.12,79.00 90.08,79.01 92.03,79.02 93.99,79.03 95.94,79.04 97.90,79.05 99.85,79.06 101.81,79.07 103.77,79.08 105.72,79.09 107.68,79.10 109.63,79.11 111.59,79.12 113.54,79.13 115.50,79.14 117.45,79.15 119.41,79.16 121.36,79.18 123.31,79.19 125.27,79.21 127.22,79.22 129.18,79.24 131.13,79.25 133.09,79.27 135.05,79.28 137.00,79.30 138.95,79.31 140.91,79.33 142.87,79.33 144.82,79.34 146.78,79.35 148.73,79.36 150.69,79.37 152.64,79.38 154.59,79.39 156.55,79.40 158.50,79.41 160.46,79.42 162.42,79.43 164.37,79.44 166.32,79.45 168.28,79.46 170.24,79.47 172.19,79.48 174.15,79.49 176.10,79.50" fill="none" stroke="#4a3282" stroke-width="1.1" stroke-linejoin="round"/>
<polyline points="58.80,73.90 60.75,67.04 62.71,63.39 64.66,62.70 66.62,62.58 68.58,62.47 70.53,62.35 72.48,62.17 74.44,62.00 76.39,61.83 78.35,61.65 80.30,61.48 82.26,61.30 84.22,61.13 86.17,60.95 88.12,60.78 90.08,60.60 92.03,60.43 93.99,60.25 95.94,60.13 97.90,60.02 99.85,59.90 101.81,59.78 103.77,59.67 105.72,59.55 107.68,59.49 109.63,59.43 111.59,59.38 113.54,59.32 115.50,59.26 117.45,59.20 119.41,59.43 121.36,59.67 123.31,59.90 125.27,60.13 127.22,60.37 129.18,60.60 131.13,60.95 133.09,61.30 135.05,61.65 137.00,61.73 138.95,61.81 140.91,61.88 142.87,61.96 144.82,62.04 146.78,62.12 148.73,62.19 150.69,62.27 152.64,62.35 154.59,62.29 156.55,62.23 158.50,62.18 160.46,62.12 162.42,62.06 164.37,62.00 166.32,61.94 168.28,61.88 170.24,61.83 172.19,61.77 174.15,61.71 176.10,61.65" fill="none" stroke="#6cb050" stroke-width="1.1" stroke-linejoin="round"/>
<polyline points="58.80,73.90 60.75,71.15 62.71,70.87 64.66,59.55 66.62,60.58 68.58,60.84 70.53,61.09 72.48,61.07 74.44,61.04 76.39,61.02 78.35,61.00 80.30,60.97 82.26,60.95 84.22,61.14 86.17,61.34 88.12,61.53 90.08,61.70 92.03,61.83 93.99,61.96 95.94,62.09 97.90,62.22 99.85,62.35 101.81,62.52 103.77,62.70 105.72,62.88 107.68,63.05 109.63,63.23 111.59,63.40 113.54,63.52 115.50,63.63 117.45,63.75 119.41,63.87 121.36,63.98 123.31,64.10 125.27,64.22 127.22,64.33 129.18,64.45 131.13,64.57 133.09,64.68 135.05,64.80 137.00,64.92 138.95,65.03 140.91,65.15 142.87,65.27 144.82,65.38 146.78,65.50 148.73,65.62 150.69,65.73 152.64,65.85 154.59,65.97 156.55,66.08 158.50,66.20 160.46,66.28 162.42,66.36 164.37,66.43 166.32,66.51 168.28,66.59 170.24,66.67 172.19,66.74 174.15,66.82 176.10,66.90" fill="none" stroke="#dc2aa8" stroke-width="1.1" stroke-linejoin="round"/>
<line x1="58.80" y1="19.10" x2="58.80" y2="94.60" stroke="#333" stroke-width="1.3" />
<line x1="58.15" y1="91.40" x2="178.30" y2="91.40" stroke="#111" stroke-width="1.3" />
<line x1="55.80" y1="21.40" x2="58.80" y2="21.40" stroke="#222" stroke-width="1.0" />
<text transform="translate(52.70,24.20)" font-size="7.9" text-anchor="end" fill="#111" stroke="#111" stroke-width="0.18">2.5</text>
<line x1="55.80" y1="38.90" x2="58.80" y2="38.90" stroke="#222" stroke-width="1.0" />
<text transform="translate(52.70,41.70)" font-size="7.9" text-anchor="end" fill="#111" stroke="#111" stroke-width="0.18">2.0</text>
<line x1="55.80" y1="56.40" x2="58.80" y2="56.40" stroke="#222" stroke-width="1.0" />
<text transform="translate(52.70,59.20)" font-size="7.9" text-anchor="end" fill="#111" stroke="#111" stroke-width="0.18">1.5</text>
<line x1="55.80" y1="73.90" x2="58.80" y2="73.90" stroke="#222" stroke-width="1.0" />
<text transform="translate(52.70,76.70)" font-size="7.9" text-anchor="end" fill="#111" stroke="#111" stroke-width="0.18">1.0</text>
<line x1="55.80" y1="91.40" x2="58.80" y2="91.40" stroke="#222" stroke-width="1.0" />
<text transform="translate(52.70,94.20)" font-size="7.9" text-anchor="end" fill="#111" stroke="#111" stroke-width="0.18">0.5</text>
<line x1="58.80" y1="91.40" x2="58.80" y2="94.60" stroke="#222" stroke-width="1.0" />
<text transform="translate(58.80,104.30)" font-size="7.6" text-anchor="middle" fill="#111" stroke="#111" stroke-width="0.15">0</text>
<line x1="82.26" y1="91.40" x2="82.26" y2="94.60" stroke="#222" stroke-width="1.0" />
<text transform="translate(82.26,104.30)" font-size="7.6" text-anchor="middle" fill="#111" stroke="#111" stroke-width="0.15">2</text>
<line x1="105.72" y1="91.40" x2="105.72" y2="94.60" stroke="#222" stroke-width="1.0" />
<text transform="translate(105.72,104.30)" font-size="7.6" text-anchor="middle" fill="#111" stroke="#111" stroke-width="0.15">4</text>
<line x1="129.18" y1="91.40" x2="129.18" y2="94.60" stroke="#222" stroke-width="1.0" />
<text transform="translate(129.18,104.30)" font-size="7.6" text-anchor="middle" fill="#111" stroke="#111" stroke-width="0.15">6</text>
<line x1="152.64" y1="91.40" x2="152.64" y2="94.60" stroke="#222" stroke-width="1.0" />
<text transform="translate(152.64,104.30)" font-size="7.6" text-anchor="middle" fill="#111" stroke="#111" stroke-width="0.15">8</text>
<line x1="176.10" y1="91.40" x2="176.10" y2="94.60" stroke="#222" stroke-width="1.0" />
<text transform="translate(176.10,104.30)" font-size="7.6" text-anchor="middle" fill="#111" stroke="#111" stroke-width="0.15">10</text>
<text transform="translate(118.70,117.00) scale(0.76,1)" font-size="8.6" text-anchor="middle" fill="#111" stroke="#111" stroke-width="0.25">Time (min.)</text>
<text transform="translate(25.80,56.30) rotate(-90) scale(0.71,1)" font-size="9.2" text-anchor="middle" fill="#111" stroke="#111" stroke-width="0.28"><tspan>Free Ca</tspan><tspan font-size="6.4" dy="-3.7">2+</tspan><tspan dy="3.7">/ bound Ca</tspan><tspan font-size="6.4" dy="-3.7">2+</tspan></text>
<text transform="translate(37.30,56.40) rotate(-90) scale(0.715,1)" font-size="9.2" text-anchor="middle" fill="#111" stroke="#111" stroke-width="0.28">(340/380) in ECs</text>
<line x1="186.90" y1="24.00" x2="201.50" y2="24.00" stroke="#d05272" stroke-width="1.3" />
<text transform="translate(205.00,26.60)" font-size="7.4" text-anchor="start" fill="#222" ><tspan>A2-CAR CD8</tspan><tspan font-size="4.6" dy="-2.9">+</tspan><tspan dy="2.9">Tregs / HLA-A*02</tspan><tspan font-size="4.6" dy="-2.9">+</tspan><tspan dy="2.9"> ECs, n=9</tspan></text>
<line x1="186.90" y1="38.20" x2="201.50" y2="38.20" stroke="#5572ad" stroke-width="1.3" />
<text transform="translate(205.00,40.80)" font-size="7.4" text-anchor="start" fill="#222" ><tspan>Her2-CAR CD8</tspan><tspan font-size="4.6" dy="-2.9">+</tspan><tspan dy="2.9">Tregs / HLA-A*02</tspan><tspan font-size="4.6" dy="-2.9">+</tspan><tspan dy="2.9"> ECs, n=8</tspan></text>
<line x1="186.90" y1="52.40" x2="201.50" y2="52.40" stroke="#6a4596" stroke-width="1.3" />
<text transform="translate(205.00,55.00)" font-size="7.4" text-anchor="start" fill="#222" ><tspan>A2-CAR CD8</tspan><tspan font-size="4.6" dy="-2.9">+</tspan><tspan dy="2.9">Tregs / HLA-A*02</tspan><tspan font-size="4.6" dy="-2.9">-</tspan><tspan dy="2.9"> ECs, n=6</tspan></text>
<line x1="186.90" y1="66.60" x2="201.50" y2="66.60" stroke="#92c774" stroke-width="1.3" />
<text transform="translate(205.00,69.20)" font-size="7.4" text-anchor="start" fill="#222" ><tspan>A2-CAR CD8</tspan><tspan font-size="4.6" dy="-2.9">+</tspan><tspan dy="2.9">Teffs / HLA-A*02</tspan><tspan font-size="4.6" dy="-2.9">+</tspan><tspan dy="2.9"> ECs, n=3</tspan></text>
<line x1="186.90" y1="80.80" x2="201.50" y2="80.80" stroke="#de3cb0" stroke-width="1.3" />
<text transform="translate(205.00,83.40)" font-size="7.4" text-anchor="start" fill="#222" ><tspan>anti-HLA-A*02 mAbs / HLA-A*02</tspan><tspan font-size="4.6" dy="-2.9">+</tspan><tspan dy="2.9"> ECs, n=3</tspan></text>
<line x1="358.50" y1="52.30" x2="358.50" y2="67.20" stroke="#333" stroke-width="1.2" />
<line x1="366.50" y1="36.50" x2="366.50" y2="67.20" stroke="#333" stroke-width="1.2" />
<text transform="translate(359.00,59.50) rotate(90)" font-size="6.4" text-anchor="middle" fill="#222" dominant-baseline="middle">*</text>
<text transform="translate(367.50,51.90) rotate(90)" font-size="6.4" text-anchor="middle" fill="#222" dominant-baseline="middle">**</text>
<text transform="translate(63.20,185.20)" font-size="7.9" text-anchor="middle" fill="#111" ><tspan>A2-CAR CD8</tspan><tspan font-size="5.14" dy="-3.32">+</tspan><tspan dy="3.3"> Tregs +</tspan></text>
<text transform="translate(63.20,193.90)" font-size="7.9" text-anchor="middle" fill="#111" ><tspan>HLA-A*02</tspan><tspan font-size="5.14" dy="-3.32">+</tspan><tspan dy="3.3"> ECs</tspan></text>
<text transform="translate(152.10,185.20)" font-size="7.9" text-anchor="middle" fill="#111" ><tspan>Her2-CAR CD8</tspan><tspan font-size="5.14" dy="-3.32">+</tspan><tspan dy="3.3"> Tregs +</tspan></text>
<text transform="translate(152.10,193.90)" font-size="7.9" text-anchor="middle" fill="#111" ><tspan>HLA-A*02</tspan><tspan font-size="5.14" dy="-3.32">+</tspan><tspan dy="3.3"> ECs</tspan></text>
<text transform="translate(241.00,185.20)" font-size="7.9" text-anchor="middle" fill="#111" ><tspan>A2-CAR CD8</tspan><tspan font-size="5.14" dy="-3.32">+</tspan><tspan dy="3.3"> Tregs +</tspan></text>
<text transform="translate(241.00,193.90)" font-size="7.9" text-anchor="middle" fill="#111" ><tspan>HLA-A*02</tspan><tspan font-size="5.14" dy="-3.32">-</tspan><tspan dy="3.3"> ECs</tspan></text>
<text transform="translate(329.90,185.20)" font-size="7.9" text-anchor="middle" fill="#111" ><tspan>A2-CAR CD8</tspan><tspan font-size="5.14" dy="-3.32">+</tspan><tspan dy="3.3"> Teffs +</tspan></text>
<text transform="translate(329.90,193.90)" font-size="7.9" text-anchor="middle" fill="#111" ><tspan>HLA-A*02</tspan><tspan font-size="5.14" dy="-3.32">+</tspan><tspan dy="3.3"> ECs</tspan></text>
<text transform="translate(418.80,185.20)" font-size="7.9" text-anchor="middle" fill="#111" ><tspan>HLA-A*02</tspan><tspan font-size="5.14" dy="-3.32">+</tspan><tspan dy="3.3"> ECs +</tspan></text>
<text transform="translate(418.80,193.90)" font-size="7.9" text-anchor="middle" fill="#111" >anti-HLA-A*02 mAb</text>
<text transform="translate(350.00,150.80)" font-size="7.3" text-anchor="start" fill="#111" >Fura-2 ratio :</text>
<text transform="translate(350.00,159.50)" font-size="7.3" text-anchor="start" fill="#111" ><tspan>340nm (free Ca</tspan><tspan font-size="4.7" dy="-2.9">2+</tspan><tspan dy="2.9">)/ 380nm (bound Ca</tspan><tspan font-size="4.7" dy="-2.9">2+</tspan><tspan dy="2.9">)</tspan></text>
<text transform="translate(350.00,168.90)" font-size="7.3" text-anchor="start" fill="#111" >rest</text>
<text transform="translate(415.60,168.90)" font-size="7.3" text-anchor="start" fill="#111" >signaling</text>
<defs>
<linearGradient id="fura" x1="0" x2="1" y1="0" y2="0">
<stop offset="0" stop-color="#1a58b8"/><stop offset="0.18" stop-color="#1f8ea0"/><stop offset="0.33" stop-color="#5cb43a"/>
<stop offset="0.5" stop-color="#c8d820"/><stop offset="0.58" stop-color="#f8ee08"/><stop offset="0.72" stop-color="#f8a808"/>
<stop offset="0.86" stop-color="#f44a10"/><stop offset="1" stop-color="#ec1616"/></linearGradient>
<radialGradient id="imbg" cx="0.5" cy="0.5" r="0.7">
<stop offset="0" stop-color="#a4a5a4"/><stop offset="0.55" stop-color="#929392"/><stop offset="1" stop-color="#808180"/></radialGradient>
<radialGradient id="imbg5" cx="0.5" cy="0.5" r="0.7">
<stop offset="0" stop-color="#a6aca6"/><stop offset="0.55" stop-color="#939993"/><stop offset="1" stop-color="#828882"/></radialGradient>
<filter id="bl" x="-50%" y="-50%" width="200%" height="200%"><feGaussianBlur stdDeviation="1.3"/></filter>
<filter id="bl3" x="-50%" y="-50%" width="200%" height="200%"><feGaussianBlur stdDeviation="0.9"/></filter>
<filter id="bl2" x="-50%" y="-50%" width="200%" height="200%"><feGaussianBlur stdDeviation="0.5"/></filter>
<clipPath id="ic0"><rect x="21.2" y="199.1" width="84" height="62.5"/></clipPath>
<clipPath id="ic1"><rect x="110.1" y="199.1" width="84" height="62.5"/></clipPath>
<clipPath id="ic2"><rect x="199" y="199.1" width="84" height="62.5"/></clipPath>
<clipPath id="ic3"><rect x="287.9" y="199.1" width="84" height="62.5"/></clipPath>
<clipPath id="ic4"><rect x="376.8" y="199.1" width="84" height="62.5"/></clipPath>
</defs>
<rect x="364.90" y="163.80" width="46.80" height="6.10" fill="url(#fura)" />
<g clip-path="url(#ic0)">
<rect x="21.20" y="199.10" width="84.00" height="62.50" fill="url(#imbg)" />
<ellipse cx="35.4" cy="219.2" rx="2.74" ry="3.78" fill="#86b848" fill-opacity="0.85" transform="rotate(20 35.4 219.2)" filter="url(#bl)"/>
<ellipse cx="44.0" cy="214.9" rx="2.40" ry="4.12" fill="#94bc48" fill-opacity="0.85" transform="rotate(-10 44.0 214.9)" filter="url(#bl)"/>
<ellipse cx="24.3" cy="230.3" rx="1.71" ry="2.40" fill="#3cc47c" fill-opacity="0.85" transform="rotate(0 24.3 230.3)" filter="url(#bl)"/>
<ellipse cx="34.6" cy="229.5" rx="2.06" ry="2.06" fill="#44cc6c" fill-opacity="0.85" transform="rotate(0 34.6 229.5)" filter="url(#bl)"/>
<ellipse cx="56.0" cy="201.2" rx="1.71" ry="2.40" fill="#3c7ad2" fill-opacity="0.85" transform="rotate(0 56.0 201.2)" filter="url(#bl)"/>
<ellipse cx="67.1" cy="201.2" rx="1.71" ry="1.72" fill="#4688d8" fill-opacity="0.85" transform="rotate(0 67.1 201.2)" filter="url(#bl)"/>
<ellipse cx="62.0" cy="224.3" rx="2.06" ry="2.06" fill="#3aaab8" fill-opacity="0.85" transform="rotate(0 62.0 224.3)" filter="url(#bl)"/>
<ellipse cx="74.0" cy="226.9" rx="1.71" ry="3.09" fill="#3c7ad2" fill-opacity="0.85" transform="rotate(0 74.0 226.9)" filter="url(#bl)"/>
<ellipse cx="80.0" cy="220.0" rx="1.71" ry="2.40" fill="#3cbc90" fill-opacity="0.85" transform="rotate(0 80.0 220.0)" filter="url(#bl)"/>
<ellipse cx="86.0" cy="229.5" rx="2.74" ry="2.06" fill="#3cc47c" fill-opacity="0.85" transform="rotate(0 86.0 229.5)" filter="url(#bl)"/>
<ellipse cx="55.1" cy="238.9" rx="1.71" ry="2.40" fill="#40b4a8" fill-opacity="0.85" transform="rotate(0 55.1 238.9)" filter="url(#bl)"/>
<ellipse cx="45.7" cy="238.9" rx="2.06" ry="1.72" fill="#3cc47c" fill-opacity="0.85" transform="rotate(0 45.7 238.9)" filter="url(#bl)"/>
<ellipse cx="64.6" cy="238.9" rx="1.71" ry="2.40" fill="#4688d8" fill-opacity="0.85" transform="rotate(0 64.6 238.9)" filter="url(#bl)"/>
<ellipse cx="26.9" cy="243.2" rx="1.71" ry="1.72" fill="#3cc47c" fill-opacity="0.85" transform="rotate(0 26.9 243.2)" filter="url(#bl)"/>
<ellipse cx="44.9" cy="246.7" rx="1.71" ry="2.06" fill="#44cc6c" fill-opacity="0.85" transform="rotate(0 44.9 246.7)" filter="url(#bl)"/>
<ellipse cx="68.9" cy="248.4" rx="1.71" ry="2.06" fill="#4688d8" fill-opacity="0.85" transform="rotate(0 68.9 248.4)" filter="url(#bl)"/>
<ellipse cx="86.9" cy="249.2" rx="2.40" ry="2.06" fill="#3cbc90" fill-opacity="0.85" transform="rotate(0 86.9 249.2)" filter="url(#bl)"/>
<ellipse cx="77.4" cy="238.9" rx="1.71" ry="1.72" fill="#3aaab8" fill-opacity="0.85" transform="rotate(0 77.4 238.9)" filter="url(#bl)"/>
<ellipse cx="102.3" cy="233.8" rx="1.71" ry="2.06" fill="#3cc47c" fill-opacity="0.85" transform="rotate(0 102.3 233.8)" filter="url(#bl)"/>
<ellipse cx="103.1" cy="239.8" rx="1.37" ry="1.72" fill="#3cbc90" fill-opacity="0.85" transform="rotate(0 103.1 239.8)" filter="url(#bl)"/>
<ellipse cx="60.3" cy="259.5" rx="2.06" ry="1.72" fill="#3cc47c" fill-opacity="0.85" transform="rotate(0 60.3 259.5)" filter="url(#bl)"/>
<ellipse cx="70.6" cy="258.7" rx="1.71" ry="1.72" fill="#3aaab8" fill-opacity="0.85" transform="rotate(0 70.6 258.7)" filter="url(#bl)"/>
<ellipse cx="39.7" cy="208.0" rx="1.37" ry="1.37" fill="#88b8a0" fill-opacity="0.85" transform="rotate(0 39.7 208.0)" filter="url(#bl)"/>
<ellipse cx="94.6" cy="213.2" rx="1.37" ry="1.37" fill="#70a8b8" fill-opacity="0.85" transform="rotate(0 94.6 213.2)" filter="url(#bl)"/>
<ellipse cx="29.4" cy="254.4" rx="1.37" ry="1.37" fill="#40b4a8" fill-opacity="0.85" transform="rotate(0 29.4 254.4)" filter="url(#bl)"/>
<ellipse cx="92.9" cy="256.1" rx="1.71" ry="1.37" fill="#3cc47c" fill-opacity="0.85" transform="rotate(0 92.9 256.1)" filter="url(#bl)"/>
<circle cx="29.4" cy="212.3" r="0.77" fill="#dedede" stroke="#555" stroke-width="0.4"/>
<circle cx="32.9" cy="214.0" r="0.91" fill="#dedede" stroke="#555" stroke-width="0.4"/>
<circle cx="53.4" cy="220.0" r="0.88" fill="#dedede" stroke="#555" stroke-width="0.4"/>
<circle cx="55.1" cy="220.9" r="0.61" fill="#dedede" stroke="#555" stroke-width="0.4"/>
<circle cx="52.6" cy="226.9" r="0.81" fill="#dedede" stroke="#555" stroke-width="0.4"/>
<circle cx="80.0" cy="238.1" r="0.60" fill="#dedede" stroke="#555" stroke-width="0.4"/>
<circle cx="82.6" cy="241.5" r="0.55" fill="#dedede" stroke="#555" stroke-width="0.4"/>
<circle cx="89.4" cy="240.7" r="0.71" fill="#dedede" stroke="#555" stroke-width="0.4"/>
<circle cx="50.0" cy="246.7" r="0.86" fill="#dedede" stroke="#555" stroke-width="0.4"/>
<circle cx="47.4" cy="248.4" r="0.78" fill="#dedede" stroke="#555" stroke-width="0.4"/>
<circle cx="39.7" cy="216.6" r="0.63" fill="#dedede" stroke="#555" stroke-width="0.4"/>
<circle cx="70.6" cy="208.0" r="0.89" fill="#dedede" stroke="#555" stroke-width="0.4"/>
<circle cx="94.6" cy="202.9" r="0.92" fill="#dedede" stroke="#555" stroke-width="0.4"/>
<circle cx="99.7" cy="218.3" r="0.64" fill="#dedede" stroke="#555" stroke-width="0.4"/>
<circle cx="58.6" cy="232.1" r="0.73" fill="#dedede" stroke="#555" stroke-width="0.4"/>
<circle cx="26.0" cy="249.2" r="0.81" fill="#dedede" stroke="#555" stroke-width="0.4"/>
<circle cx="36.3" cy="252.7" r="0.91" fill="#dedede" stroke="#555" stroke-width="0.4"/>
<circle cx="75.7" cy="251.0" r="0.60" fill="#dedede" stroke="#555" stroke-width="0.4"/>
<circle cx="101.4" cy="257.8" r="0.77" fill="#dedede" stroke="#555" stroke-width="0.4"/>
<circle cx="22.6" cy="220.0" r="0.94" fill="#dedede" stroke="#555" stroke-width="0.4"/>
<circle cx="43.1" cy="232.1" r="0.79" fill="#dedede" stroke="#555" stroke-width="0.4"/>
<circle cx="33.1" cy="227.4" r="0.84" fill="#dedede" stroke="#555" stroke-width="0.4"/>
<circle cx="85.6" cy="243.0" r="0.86" fill="#dedede" stroke="#555" stroke-width="0.4"/>
<circle cx="82.3" cy="226.0" r="0.75" fill="#dedede" stroke="#555" stroke-width="0.4"/>
<circle cx="88.1" cy="232.2" r="0.67" fill="#dedede" stroke="#555" stroke-width="0.4"/>
<circle cx="27.6" cy="227.4" r="0.79" fill="#dedede" stroke="#555" stroke-width="0.4"/>
<circle cx="24.9" cy="257.1" r="0.76" fill="#dedede" stroke="#555" stroke-width="0.4"/>
<circle cx="100.4" cy="219.9" r="0.69" fill="#dedede" stroke="#555" stroke-width="0.4"/>
<circle cx="46.8" cy="246.8" r="0.89" fill="#dedede" stroke="#555" stroke-width="0.4"/>
<circle cx="38.0" cy="210.2" r="0.70" fill="#dedede" stroke="#555" stroke-width="0.4"/>
<circle cx="36.7" cy="220.7" r="0.74" fill="#dedede" stroke="#555" stroke-width="0.4"/>
<circle cx="73.5" cy="259.0" r="0.85" fill="#dedede" stroke="#555" stroke-width="0.4"/>
<circle cx="38.6" cy="258.5" r="0.88" fill="#dedede" stroke="#555" stroke-width="0.4"/>
<ellipse cx="83.6" cy="255.2" rx="1.0" ry="1.3" fill="#262626" filter="url(#bl2)"/>
</g>
<g clip-path="url(#ic1)">
<rect x="110.10" y="199.10" width="84.00" height="62.50" fill="url(#imbg)" />
<ellipse cx="123.5" cy="201.2" rx="2.40" ry="1.72" fill="#3c7ad2" fill-opacity="0.78" transform="rotate(0 123.5 201.2)" filter="url(#bl)"/>
<ellipse cx="132.0" cy="204.6" rx="1.71" ry="2.40" fill="#3aaab8" fill-opacity="0.78" transform="rotate(0 132.0 204.6)" filter="url(#bl)"/>
<ellipse cx="144.0" cy="214.9" rx="2.40" ry="1.72" fill="#4688d8" fill-opacity="0.78" transform="rotate(0 144.0 214.9)" filter="url(#bl)"/>
<ellipse cx="159.5" cy="218.3" rx="2.06" ry="2.06" fill="#3c7ad2" fill-opacity="0.78" transform="rotate(0 159.5 218.3)" filter="url(#bl)"/>
<ellipse cx="144.0" cy="225.2" rx="2.06" ry="2.40" fill="#3c7ad2" fill-opacity="0.78" transform="rotate(0 144.0 225.2)" filter="url(#bl)"/>
<ellipse cx="156.0" cy="227.8" rx="1.71" ry="2.75" fill="#4688d8" fill-opacity="0.78" transform="rotate(0 156.0 227.8)" filter="url(#bl)"/>
<ellipse cx="167.2" cy="224.3" rx="2.40" ry="2.06" fill="#3c7ad2" fill-opacity="0.78" transform="rotate(0 167.2 224.3)" filter="url(#bl)"/>
<ellipse cx="181.8" cy="226.9" rx="2.06" ry="1.72" fill="#4688d8" fill-opacity="0.78" transform="rotate(0 181.8 226.9)" filter="url(#bl)"/>
<ellipse cx="184.3" cy="218.3" rx="2.06" ry="1.37" fill="#3a6fd0" fill-opacity="0.78" transform="rotate(0 184.3 218.3)" filter="url(#bl)"/>
<ellipse cx="176.6" cy="214.0" rx="2.06" ry="1.37" fill="#3c7ad2" fill-opacity="0.78" transform="rotate(0 176.6 214.0)" filter="url(#bl)"/>
<ellipse cx="114.9" cy="227.8" rx="2.06" ry="2.06" fill="#4688d8" fill-opacity="0.78" transform="rotate(0 114.9 227.8)" filter="url(#bl)"/>
<ellipse cx="124.3" cy="229.5" rx="1.71" ry="2.40" fill="#3c7ad2" fill-opacity="0.78" transform="rotate(0 124.3 229.5)" filter="url(#bl)"/>
<ellipse cx="132.9" cy="229.5" rx="1.71" ry="2.40" fill="#3c7ad2" fill-opacity="0.78" transform="rotate(0 132.9 229.5)" filter="url(#bl)"/>
<ellipse cx="143.2" cy="233.8" rx="2.06" ry="2.06" fill="#4688d8" fill-opacity="0.78" transform="rotate(0 143.2 233.8)" filter="url(#bl)"/>
<ellipse cx="162.9" cy="236.4" rx="2.06" ry="2.40" fill="#3c7ad2" fill-opacity="0.78" transform="rotate(0 162.9 236.4)" filter="url(#bl)"/>
<ellipse cx="156.9" cy="242.4" rx="2.06" ry="2.06" fill="#4688d8" fill-opacity="0.78" transform="rotate(0 156.9 242.4)" filter="url(#bl)"/>
<ellipse cx="169.8" cy="246.7" rx="2.06" ry="2.75" fill="#3c7ad2" fill-opacity="0.78" transform="rotate(0 169.8 246.7)" filter="url(#bl)"/>
<ellipse cx="180.0" cy="240.7" rx="1.71" ry="2.06" fill="#3a6fd0" fill-opacity="0.78" transform="rotate(0 180.0 240.7)" filter="url(#bl)"/>
<ellipse cx="192.0" cy="247.5" rx="1.71" ry="1.72" fill="#4688d8" fill-opacity="0.78" transform="rotate(0 192.0 247.5)" filter="url(#bl)"/>
<ellipse cx="129.5" cy="255.2" rx="2.40" ry="1.72" fill="#3c7ad2" fill-opacity="0.78" transform="rotate(0 129.5 255.2)" filter="url(#bl)"/>
<ellipse cx="147.5" cy="254.4" rx="2.06" ry="1.72" fill="#4688d8" fill-opacity="0.78" transform="rotate(0 147.5 254.4)" filter="url(#bl)"/>
<ellipse cx="134.6" cy="244.1" rx="2.06" ry="2.06" fill="#34d058" fill-opacity="0.78" transform="rotate(0 134.6 244.1)" filter="url(#bl)"/>
<circle cx="116.6" cy="205.5" r="1.24" fill="#f0f0f0" stroke="#5a5a5a" stroke-width="0.4"/>
<circle cx="124.3" cy="214.9" r="1.21" fill="#f0f0f0" stroke="#5a5a5a" stroke-width="0.4"/>
<circle cx="115.8" cy="220.0" r="0.73" fill="#f0f0f0" stroke="#5a5a5a" stroke-width="0.4"/>
<circle cx="125.2" cy="224.3" r="0.93" fill="#f0f0f0" stroke="#5a5a5a" stroke-width="0.4"/>
<circle cx="120.0" cy="230.3" r="0.95" fill="#f0f0f0" stroke="#5a5a5a" stroke-width="0.4"/>
<circle cx="121.8" cy="233.8" r="0.85" fill="#f0f0f0" stroke="#5a5a5a" stroke-width="0.4"/>
<circle cx="133.8" cy="238.1" r="1.04" fill="#f0f0f0" stroke="#5a5a5a" stroke-width="0.4"/>
<circle cx="149.2" cy="204.6" r="0.78" fill="#f0f0f0" stroke="#5a5a5a" stroke-width="0.4"/>
<circle cx="151.8" cy="205.5" r="1.11" fill="#f0f0f0" stroke="#5a5a5a" stroke-width="0.4"/>
<circle cx="159.5" cy="202.9" r="1.17" fill="#f0f0f0" stroke="#5a5a5a" stroke-width="0.4"/>
<circle cx="164.6" cy="202.0" r="0.73" fill="#f0f0f0" stroke="#5a5a5a" stroke-width="0.4"/>
<circle cx="180.0" cy="204.6" r="1.08" fill="#f0f0f0" stroke="#5a5a5a" stroke-width="0.4"/>
<circle cx="183.5" cy="205.5" r="0.85" fill="#f0f0f0" stroke="#5a5a5a" stroke-width="0.4"/>
<circle cx="192.0" cy="208.0" r="1.05" fill="#f0f0f0" stroke="#5a5a5a" stroke-width="0.4"/>
<circle cx="168.0" cy="210.6" r="1.08" fill="#f0f0f0" stroke="#5a5a5a" stroke-width="0.4"/>
<circle cx="172.3" cy="214.9" r="1.24" fill="#f0f0f0" stroke="#5a5a5a" stroke-width="0.4"/>
<circle cx="155.2" cy="218.3" r="1.14" fill="#f0f0f0" stroke="#5a5a5a" stroke-width="0.4"/>
<circle cx="167.2" cy="219.2" r="0.89" fill="#f0f0f0" stroke="#5a5a5a" stroke-width="0.4"/>
<circle cx="174.0" cy="224.3" r="1.10" fill="#f0f0f0" stroke="#5a5a5a" stroke-width="0.4"/>
<circle cx="157.8" cy="226.9" r="0.78" fill="#f0f0f0" stroke="#5a5a5a" stroke-width="0.4"/>
<circle cx="166.3" cy="231.2" r="1.09" fill="#f0f0f0" stroke="#5a5a5a" stroke-width="0.4"/>
<circle cx="174.0" cy="233.8" r="0.93" fill="#f0f0f0" stroke="#5a5a5a" stroke-width="0.4"/>
<circle cx="178.3" cy="236.4" r="0.85" fill="#f0f0f0" stroke="#5a5a5a" stroke-width="0.4"/>
<circle cx="154.3" cy="244.1" r="0.83" fill="#f0f0f0" stroke="#5a5a5a" stroke-width="0.4"/>
<circle cx="164.6" cy="242.4" r="0.82" fill="#f0f0f0" stroke="#5a5a5a" stroke-width="0.4"/>
<circle cx="175.8" cy="247.5" r="1.14" fill="#f0f0f0" stroke="#5a5a5a" stroke-width="0.4"/>
<circle cx="178.3" cy="249.2" r="0.75" fill="#f0f0f0" stroke="#5a5a5a" stroke-width="0.4"/>
<circle cx="142.3" cy="246.7" r="0.83" fill="#f0f0f0" stroke="#5a5a5a" stroke-width="0.4"/>
<circle cx="139.8" cy="252.7" r="0.81" fill="#f0f0f0" stroke="#5a5a5a" stroke-width="0.4"/>
<circle cx="123.5" cy="247.5" r="0.79" fill="#f0f0f0" stroke="#5a5a5a" stroke-width="0.4"/>
<circle cx="132.0" cy="248.4" r="1.10" fill="#f0f0f0" stroke="#5a5a5a" stroke-width="0.4"/>
<circle cx="185.2" cy="252.7" r="1.02" fill="#f0f0f0" stroke="#5a5a5a" stroke-width="0.4"/>
<circle cx="159.5" cy="256.1" r="1.07" fill="#f0f0f0" stroke="#5a5a5a" stroke-width="0.4"/>
<circle cx="114.9" cy="240.7" r="1.20" fill="#f0f0f0" stroke="#5a5a5a" stroke-width="0.4"/>
<circle cx="192.0" cy="240.7" r="0.95" fill="#f0f0f0" stroke="#5a5a5a" stroke-width="0.4"/>
<circle cx="118.3" cy="208.0" r="0.72" fill="#f0f0f0" stroke="#5a5a5a" stroke-width="0.4"/>
<circle cx="138.9" cy="209.7" r="0.80" fill="#f0f0f0" stroke="#5a5a5a" stroke-width="0.4"/>
<circle cx="186.9" cy="220.0" r="0.98" fill="#f0f0f0" stroke="#5a5a5a" stroke-width="0.4"/>
<circle cx="130.3" cy="218.3" r="1.09" fill="#f0f0f0" stroke="#5a5a5a" stroke-width="0.4"/>
<circle cx="150.9" cy="249.2" r="1.21" fill="#f0f0f0" stroke="#5a5a5a" stroke-width="0.4"/>
<circle cx="113.2" cy="254.4" r="0.98" fill="#f0f0f0" stroke="#5a5a5a" stroke-width="0.4"/>
<circle cx="190.3" cy="232.1" r="0.82" fill="#f0f0f0" stroke="#5a5a5a" stroke-width="0.4"/>
<circle cx="111.5" cy="214.9" r="1.03" fill="#f0f0f0" stroke="#5a5a5a" stroke-width="0.4"/>
<circle cx="147.5" cy="259.5" r="1.21" fill="#f0f0f0" stroke="#5a5a5a" stroke-width="0.4"/>
<circle cx="126.9" cy="238.9" r="0.88" fill="#f0f0f0" stroke="#5a5a5a" stroke-width="0.4"/>
<circle cx="158.6" cy="211.2" r="1.21" fill="#f0f0f0" stroke="#5a5a5a" stroke-width="0.4"/>
<circle cx="190.8" cy="256.5" r="1.20" fill="#f0f0f0" stroke="#5a5a5a" stroke-width="0.4"/>
<circle cx="149.0" cy="240.3" r="1.02" fill="#f0f0f0" stroke="#5a5a5a" stroke-width="0.4"/>
<circle cx="127.8" cy="212.9" r="0.96" fill="#f0f0f0" stroke="#5a5a5a" stroke-width="0.4"/>
<circle cx="134.0" cy="242.1" r="0.77" fill="#f0f0f0" stroke="#5a5a5a" stroke-width="0.4"/>
<circle cx="127.6" cy="259.5" r="0.76" fill="#f0f0f0" stroke="#5a5a5a" stroke-width="0.4"/>
<circle cx="115.7" cy="211.1" r="0.72" fill="#f0f0f0" stroke="#5a5a5a" stroke-width="0.4"/>
<circle cx="117.2" cy="247.0" r="1.04" fill="#f0f0f0" stroke="#5a5a5a" stroke-width="0.4"/>
<circle cx="140.5" cy="228.4" r="1.09" fill="#f0f0f0" stroke="#5a5a5a" stroke-width="0.4"/>
<circle cx="137.1" cy="238.7" r="1.25" fill="#f0f0f0" stroke="#5a5a5a" stroke-width="0.4"/>
<circle cx="143.7" cy="212.0" r="1.03" fill="#f0f0f0" stroke="#5a5a5a" stroke-width="0.4"/>
<circle cx="145.9" cy="218.0" r="1.25" fill="#f0f0f0" stroke="#5a5a5a" stroke-width="0.4"/>
<circle cx="119.1" cy="250.3" r="0.92" fill="#f0f0f0" stroke="#5a5a5a" stroke-width="0.4"/>
<circle cx="166.9" cy="240.4" r="0.77" fill="#f0f0f0" stroke="#5a5a5a" stroke-width="0.4"/>
<circle cx="183.9" cy="223.6" r="0.73" fill="#f0f0f0" stroke="#5a5a5a" stroke-width="0.4"/>
<circle cx="141.6" cy="225.4" r="0.86" fill="#f0f0f0" stroke="#5a5a5a" stroke-width="0.4"/>
<circle cx="143.7" cy="240.7" r="0.99" fill="#f0f0f0" stroke="#5a5a5a" stroke-width="0.4"/>
<circle cx="110.3" cy="227.9" r="1.24" fill="#f0f0f0" stroke="#5a5a5a" stroke-width="0.4"/>
<circle cx="154.7" cy="220.6" r="0.86" fill="#f0f0f0" stroke="#5a5a5a" stroke-width="0.4"/>
<circle cx="111.6" cy="242.9" r="0.83" fill="#f0f0f0" stroke="#5a5a5a" stroke-width="0.4"/>
<circle cx="110.6" cy="234.2" r="1.10" fill="#f0f0f0" stroke="#5a5a5a" stroke-width="0.4"/>
<circle cx="122.6" cy="201.2" r="0.91" fill="#f0f0f0" stroke="#5a5a5a" stroke-width="0.4"/>
<circle cx="124.9" cy="203.2" r="1.01" fill="#f0f0f0" stroke="#5a5a5a" stroke-width="0.4"/>
<circle cx="122.4" cy="241.7" r="0.78" fill="#f0f0f0" stroke="#5a5a5a" stroke-width="0.4"/>
<circle cx="170.9" cy="221.6" r="1.17" fill="#f0f0f0" stroke="#5a5a5a" stroke-width="0.4"/>
<circle cx="164.6" cy="228.6" r="1.21" fill="#f0f0f0" stroke="#5a5a5a" stroke-width="0.4"/>
<circle cx="151.6" cy="253.5" r="1.12" fill="#f0f0f0" stroke="#5a5a5a" stroke-width="0.4"/>
<circle cx="135.9" cy="253.2" r="1.21" fill="#f0f0f0" stroke="#5a5a5a" stroke-width="0.4"/>
<circle cx="167.8" cy="241.6" r="0.88" fill="#f0f0f0" stroke="#5a5a5a" stroke-width="0.4"/>
<circle cx="110.3" cy="204.3" r="0.72" fill="#f0f0f0" stroke="#5a5a5a" stroke-width="0.4"/>
<circle cx="112.4" cy="220.6" r="0.87" fill="#f0f0f0" stroke="#5a5a5a" stroke-width="0.4"/>
<circle cx="189.2" cy="253.5" r="1.19" fill="#f0f0f0" stroke="#5a5a5a" stroke-width="0.4"/>
<circle cx="180.2" cy="206.5" r="0.96" fill="#f0f0f0" stroke="#5a5a5a" stroke-width="0.4"/>
<circle cx="169.0" cy="247.2" r="0.81" fill="#f0f0f0" stroke="#5a5a5a" stroke-width="0.4"/>
<circle cx="177.7" cy="248.3" r="0.78" fill="#f0f0f0" stroke="#5a5a5a" stroke-width="0.4"/>
<circle cx="121.5" cy="210.2" r="0.79" fill="#f0f0f0" stroke="#5a5a5a" stroke-width="0.4"/>
<circle cx="176.3" cy="245.0" r="0.94" fill="#f0f0f0" stroke="#5a5a5a" stroke-width="0.4"/>
<circle cx="184.7" cy="226.9" r="1.21" fill="#f0f0f0" stroke="#5a5a5a" stroke-width="0.4"/>
<circle cx="184.5" cy="207.8" r="1.19" fill="#f0f0f0" stroke="#5a5a5a" stroke-width="0.4"/>
<circle cx="190.2" cy="254.1" r="1.12" fill="#f0f0f0" stroke="#5a5a5a" stroke-width="0.4"/>
<circle cx="138.1" cy="203.3" r="1.12" fill="#f0f0f0" stroke="#5a5a5a" stroke-width="0.4"/>
<circle cx="155.8" cy="241.9" r="0.80" fill="#f0f0f0" stroke="#5a5a5a" stroke-width="0.4"/>
<circle cx="139.2" cy="202.7" r="1.13" fill="#f0f0f0" stroke="#5a5a5a" stroke-width="0.4"/>
<circle cx="133.2" cy="250.3" r="0.82" fill="#f0f0f0" stroke="#5a5a5a" stroke-width="0.4"/>
<circle cx="117.4" cy="257.4" r="0.99" fill="#f0f0f0" stroke="#5a5a5a" stroke-width="0.4"/>
<circle cx="130.8" cy="211.8" r="0.72" fill="#f0f0f0" stroke="#5a5a5a" stroke-width="0.4"/>
<circle cx="119.2" cy="260.1" r="1.19" fill="#f0f0f0" stroke="#5a5a5a" stroke-width="0.4"/>
<circle cx="185.4" cy="218.9" r="0.77" fill="#f0f0f0" stroke="#5a5a5a" stroke-width="0.4"/>
<circle cx="117.8" cy="239.7" r="1.03" fill="#f0f0f0" stroke="#5a5a5a" stroke-width="0.4"/>
<circle cx="184.3" cy="199.9" r="1.06" fill="#f0f0f0" stroke="#5a5a5a" stroke-width="0.4"/>
<circle cx="162.9" cy="252.4" r="1.05" fill="#f0f0f0" stroke="#5a5a5a" stroke-width="0.4"/>
<circle cx="148.3" cy="234.5" r="1.08" fill="#f0f0f0" stroke="#5a5a5a" stroke-width="0.4"/>
<circle cx="177.3" cy="213.9" r="0.90" fill="#f0f0f0" stroke="#5a5a5a" stroke-width="0.4"/>
<circle cx="132.7" cy="240.1" r="1.14" fill="#f0f0f0" stroke="#5a5a5a" stroke-width="0.4"/>
<circle cx="156.2" cy="232.4" r="1.22" fill="#f0f0f0" stroke="#5a5a5a" stroke-width="0.4"/>
<circle cx="137.8" cy="257.3" r="1.04" fill="#f0f0f0" stroke="#5a5a5a" stroke-width="0.4"/>
<circle cx="134.0" cy="241.3" r="1.24" fill="#f0f0f0" stroke="#5a5a5a" stroke-width="0.4"/>
<circle cx="184.9" cy="224.0" r="1.17" fill="#f0f0f0" stroke="#5a5a5a" stroke-width="0.4"/>
<circle cx="114.3" cy="212.8" r="0.73" fill="#f0f0f0" stroke="#5a5a5a" stroke-width="0.4"/>
<circle cx="115.3" cy="208.3" r="1.07" fill="#f0f0f0" stroke="#5a5a5a" stroke-width="0.4"/>
<circle cx="119.9" cy="220.4" r="0.75" fill="#f0f0f0" stroke="#5a5a5a" stroke-width="0.4"/>
<circle cx="140.8" cy="226.9" r="1.06" fill="#f0f0f0" stroke="#5a5a5a" stroke-width="0.4"/>
<circle cx="165.6" cy="241.2" r="0.90" fill="#f0f0f0" stroke="#5a5a5a" stroke-width="0.4"/>
<circle cx="167.5" cy="221.7" r="1.17" fill="#f0f0f0" stroke="#5a5a5a" stroke-width="0.4"/>
<circle cx="165.4" cy="233.3" r="0.72" fill="#f0f0f0" stroke="#5a5a5a" stroke-width="0.4"/>
<circle cx="120.5" cy="233.0" r="1.22" fill="#f0f0f0" stroke="#5a5a5a" stroke-width="0.4"/>
<circle cx="136.5" cy="241.1" r="0.72" fill="#f0f0f0" stroke="#5a5a5a" stroke-width="0.4"/>
<circle cx="171.5" cy="214.1" r="0.73" fill="#f0f0f0" stroke="#5a5a5a" stroke-width="0.4"/>
<circle cx="146.3" cy="227.4" r="0.70" fill="#f0f0f0" stroke="#5a5a5a" stroke-width="0.4"/>
<circle cx="134.7" cy="201.6" r="0.77" fill="#f0f0f0" stroke="#5a5a5a" stroke-width="0.4"/>
<circle cx="113.9" cy="260.8" r="1.24" fill="#f0f0f0" stroke="#5a5a5a" stroke-width="0.4"/>
<circle cx="171.9" cy="226.4" r="1.16" fill="#f0f0f0" stroke="#5a5a5a" stroke-width="0.4"/>
<circle cx="165.8" cy="215.8" r="1.20" fill="#f0f0f0" stroke="#5a5a5a" stroke-width="0.4"/>
<circle cx="169.4" cy="258.2" r="0.80" fill="#f0f0f0" stroke="#5a5a5a" stroke-width="0.4"/>
<circle cx="174.7" cy="228.0" r="1.08" fill="#f0f0f0" stroke="#5a5a5a" stroke-width="0.4"/>
<ellipse cx="172.5" cy="255.2" rx="1.0" ry="1.3" fill="#262626" filter="url(#bl2)"/>
</g>
<g clip-path="url(#ic2)">
<rect x="199.00" y="199.10" width="84.00" height="62.50" fill="url(#imbg)" />
<ellipse cx="217.5" cy="204.6" rx="2.06" ry="1.72" fill="#3c7ad2" fill-opacity="0.78" transform="rotate(0 217.5 204.6)" filter="url(#bl)"/>
<ellipse cx="221.8" cy="214.0" rx="2.06" ry="2.06" fill="#4688d8" fill-opacity="0.78" transform="rotate(0 221.8 214.0)" filter="url(#bl)"/>
<ellipse cx="226.1" cy="227.8" rx="3.09" ry="2.75" fill="#3c7ad2" fill-opacity="0.78" transform="rotate(0 226.1 227.8)" filter="url(#bl)"/>
<ellipse cx="240.7" cy="204.6" rx="2.06" ry="1.72" fill="#4688d8" fill-opacity="0.78" transform="rotate(0 240.7 204.6)" filter="url(#bl)"/>
<ellipse cx="238.1" cy="210.6" rx="2.06" ry="1.72" fill="#3c7ad2" fill-opacity="0.78" transform="rotate(0 238.1 210.6)" filter="url(#bl)"/>
<ellipse cx="246.7" cy="218.3" rx="2.06" ry="2.06" fill="#4688d8" fill-opacity="0.78" transform="rotate(0 246.7 218.3)" filter="url(#bl)"/>
<ellipse cx="261.2" cy="204.6" rx="2.40" ry="2.06" fill="#3c7ad2" fill-opacity="0.78" transform="rotate(0 261.2 204.6)" filter="url(#bl)"/>
<ellipse cx="258.7" cy="216.6" rx="2.06" ry="2.40" fill="#4688d8" fill-opacity="0.78" transform="rotate(0 258.7 216.6)" filter="url(#bl)"/>
<ellipse cx="262.9" cy="223.5" rx="2.06" ry="1.72" fill="#3a6fd0" fill-opacity="0.78" transform="rotate(0 262.9 223.5)" filter="url(#bl)"/>
<ellipse cx="274.1" cy="228.6" rx="2.06" ry="2.40" fill="#3c7ad2" fill-opacity="0.78" transform="rotate(0 274.1 228.6)" filter="url(#bl)"/>
<ellipse cx="280.9" cy="229.5" rx="1.37" ry="2.40" fill="#4688d8" fill-opacity="0.78" transform="rotate(0 280.9 229.5)" filter="url(#bl)"/>
<ellipse cx="272.4" cy="234.6" rx="2.06" ry="2.06" fill="#3c7ad2" fill-opacity="0.78" transform="rotate(0 272.4 234.6)" filter="url(#bl)"/>
<ellipse cx="242.4" cy="236.4" rx="2.40" ry="2.40" fill="#3c7ad2" fill-opacity="0.78" transform="rotate(0 242.4 236.4)" filter="url(#bl)"/>
<ellipse cx="231.2" cy="238.9" rx="1.71" ry="2.06" fill="#4688d8" fill-opacity="0.78" transform="rotate(0 231.2 238.9)" filter="url(#bl)"/>
<ellipse cx="228.7" cy="243.2" rx="1.71" ry="1.72" fill="#3c7ad2" fill-opacity="0.78" transform="rotate(0 228.7 243.2)" filter="url(#bl)"/>
<ellipse cx="219.2" cy="253.5" rx="2.06" ry="2.06" fill="#4688d8" fill-opacity="0.78" transform="rotate(0 219.2 253.5)" filter="url(#bl)"/>
<ellipse cx="236.4" cy="257.0" rx="2.40" ry="2.06" fill="#3c7ad2" fill-opacity="0.78" transform="rotate(0 236.4 257.0)" filter="url(#bl)"/>
<ellipse cx="248.4" cy="254.4" rx="1.71" ry="2.06" fill="#4688d8" fill-opacity="0.78" transform="rotate(0 248.4 254.4)" filter="url(#bl)"/>
<ellipse cx="202.9" cy="236.4" rx="2.06" ry="2.06" fill="#3aaab8" fill-opacity="0.78" transform="rotate(0 202.9 236.4)" filter="url(#bl)"/>
<ellipse cx="264.7" cy="236.4" rx="1.71" ry="2.75" fill="#56d43c" fill-opacity="0.78" transform="rotate(0 264.7 236.4)" filter="url(#bl)"/>
<ellipse cx="210.7" cy="220.0" rx="1.71" ry="1.72" fill="#5a8ec8" fill-opacity="0.78" transform="rotate(0 210.7 220.0)" filter="url(#bl)"/>
<circle cx="223.5" cy="200.3" r="0.73" fill="#dedede" stroke="#555" stroke-width="0.4"/>
<circle cx="256.1" cy="200.3" r="0.80" fill="#dedede" stroke="#555" stroke-width="0.4"/>
<circle cx="267.2" cy="202.9" r="0.90" fill="#dedede" stroke="#555" stroke-width="0.4"/>
<circle cx="270.7" cy="208.0" r="0.82" fill="#dedede" stroke="#555" stroke-width="0.4"/>
<circle cx="238.1" cy="208.0" r="0.71" fill="#dedede" stroke="#555" stroke-width="0.4"/>
<circle cx="241.5" cy="215.8" r="0.85" fill="#dedede" stroke="#555" stroke-width="0.4"/>
<circle cx="226.1" cy="214.9" r="0.79" fill="#dedede" stroke="#555" stroke-width="0.4"/>
<circle cx="214.1" cy="220.0" r="0.92" fill="#dedede" stroke="#555" stroke-width="0.4"/>
<circle cx="217.5" cy="220.9" r="0.80" fill="#dedede" stroke="#555" stroke-width="0.4"/>
<circle cx="258.7" cy="219.2" r="0.76" fill="#dedede" stroke="#555" stroke-width="0.4"/>
<circle cx="277.5" cy="226.1" r="0.94" fill="#dedede" stroke="#555" stroke-width="0.4"/>
<circle cx="280.1" cy="226.1" r="0.76" fill="#dedede" stroke="#555" stroke-width="0.4"/>
<circle cx="267.2" cy="256.1" r="0.71" fill="#dedede" stroke="#555" stroke-width="0.4"/>
<circle cx="231.2" cy="252.7" r="0.93" fill="#dedede" stroke="#555" stroke-width="0.4"/>
<circle cx="209.8" cy="256.1" r="0.93" fill="#dedede" stroke="#555" stroke-width="0.4"/>
<circle cx="208.9" cy="258.7" r="0.62" fill="#dedede" stroke="#555" stroke-width="0.4"/>
<circle cx="251.8" cy="208.0" r="0.58" fill="#dedede" stroke="#555" stroke-width="0.4"/>
<circle cx="232.9" cy="238.1" r="0.89" fill="#dedede" stroke="#555" stroke-width="0.4"/>
<circle cx="244.9" cy="238.9" r="0.90" fill="#dedede" stroke="#555" stroke-width="0.4"/>
<circle cx="203.8" cy="206.3" r="0.70" fill="#dedede" stroke="#555" stroke-width="0.4"/>
<circle cx="207.2" cy="228.6" r="0.65" fill="#dedede" stroke="#555" stroke-width="0.4"/>
<circle cx="253.5" cy="247.5" r="0.82" fill="#dedede" stroke="#555" stroke-width="0.4"/>
<circle cx="275.8" cy="242.4" r="0.93" fill="#dedede" stroke="#555" stroke-width="0.4"/>
<circle cx="211.1" cy="237.4" r="0.64" fill="#dedede" stroke="#555" stroke-width="0.4"/>
<circle cx="212.9" cy="243.4" r="0.73" fill="#dedede" stroke="#555" stroke-width="0.4"/>
<circle cx="249.7" cy="223.0" r="0.82" fill="#dedede" stroke="#555" stroke-width="0.4"/>
<circle cx="250.5" cy="234.3" r="0.64" fill="#dedede" stroke="#555" stroke-width="0.4"/>
<circle cx="202.3" cy="232.1" r="0.72" fill="#dedede" stroke="#555" stroke-width="0.4"/>
<circle cx="250.7" cy="231.4" r="0.61" fill="#dedede" stroke="#555" stroke-width="0.4"/>
<circle cx="272.5" cy="244.8" r="0.74" fill="#dedede" stroke="#555" stroke-width="0.4"/>
<circle cx="230.3" cy="213.2" r="0.64" fill="#dedede" stroke="#555" stroke-width="0.4"/>
<circle cx="209.4" cy="249.5" r="0.58" fill="#dedede" stroke="#555" stroke-width="0.4"/>
<circle cx="256.6" cy="237.0" r="0.71" fill="#dedede" stroke="#555" stroke-width="0.4"/>
<circle cx="235.8" cy="230.2" r="0.61" fill="#dedede" stroke="#555" stroke-width="0.4"/>
<circle cx="217.3" cy="232.1" r="0.60" fill="#dedede" stroke="#555" stroke-width="0.4"/>
<circle cx="210.9" cy="237.7" r="0.61" fill="#dedede" stroke="#555" stroke-width="0.4"/>
<circle cx="251.6" cy="240.8" r="0.72" fill="#dedede" stroke="#555" stroke-width="0.4"/>
<circle cx="219.4" cy="204.8" r="0.68" fill="#dedede" stroke="#555" stroke-width="0.4"/>
<circle cx="226.6" cy="241.8" r="0.84" fill="#dedede" stroke="#555" stroke-width="0.4"/>
<circle cx="241.5" cy="245.6" r="0.72" fill="#dedede" stroke="#555" stroke-width="0.4"/>
<circle cx="234.9" cy="223.9" r="0.65" fill="#dedede" stroke="#555" stroke-width="0.4"/>
<circle cx="274.9" cy="209.5" r="0.63" fill="#dedede" stroke="#555" stroke-width="0.4"/>
<circle cx="216.1" cy="235.7" r="0.67" fill="#dedede" stroke="#555" stroke-width="0.4"/>
<circle cx="251.7" cy="226.0" r="0.85" fill="#dedede" stroke="#555" stroke-width="0.4"/>
<circle cx="245.5" cy="226.5" r="0.63" fill="#dedede" stroke="#555" stroke-width="0.4"/>
<circle cx="254.8" cy="254.3" r="0.74" fill="#dedede" stroke="#555" stroke-width="0.4"/>
<circle cx="268.0" cy="238.8" r="0.87" fill="#dedede" stroke="#555" stroke-width="0.4"/>
<circle cx="238.1" cy="258.0" r="0.88" fill="#dedede" stroke="#555" stroke-width="0.4"/>
<ellipse cx="261.4" cy="255.2" rx="1.0" ry="1.3" fill="#262626" filter="url(#bl2)"/>
</g>
<g clip-path="url(#ic3)">
<rect x="287.90" y="199.10" width="84.00" height="62.50" fill="url(#imbg)" />
<ellipse cx="298.7" cy="200.3" rx="1.71" ry="1.37" fill="#3cc47c" fill-opacity="0.8" transform="rotate(0 298.7 200.3)" filter="url(#bl)"/>
<ellipse cx="308.1" cy="202.9" rx="1.71" ry="1.72" fill="#40b4a8" fill-opacity="0.8" transform="rotate(0 308.1 202.9)" filter="url(#bl)"/>
<ellipse cx="293.6" cy="209.7" rx="1.71" ry="1.72" fill="#44cc6c" fill-opacity="0.8" transform="rotate(0 293.6 209.7)" filter="url(#bl)"/>
<ellipse cx="306.4" cy="208.9" rx="1.71" ry="1.72" fill="#3aaab8" fill-opacity="0.8" transform="rotate(0 306.4 208.9)" filter="url(#bl)"/>
<ellipse cx="313.3" cy="204.6" rx="1.37" ry="1.37" fill="#3cc47c" fill-opacity="0.8" transform="rotate(0 313.3 204.6)" filter="url(#bl)"/>
<ellipse cx="320.1" cy="213.2" rx="1.71" ry="1.72" fill="#40b4a8" fill-opacity="0.8" transform="rotate(0 320.1 213.2)" filter="url(#bl)"/>
<ellipse cx="327.0" cy="209.7" rx="1.71" ry="1.72" fill="#3cbc90" fill-opacity="0.8" transform="rotate(0 327.0 209.7)" filter="url(#bl)"/>
<ellipse cx="330.4" cy="209.7" rx="1.37" ry="1.37" fill="#3aaab8" fill-opacity="0.8" transform="rotate(0 330.4 209.7)" filter="url(#bl)"/>
<ellipse cx="345.8" cy="204.6" rx="1.71" ry="1.72" fill="#3cc47c" fill-opacity="0.8" transform="rotate(0 345.8 204.6)" filter="url(#bl)"/>
<ellipse cx="350.1" cy="209.7" rx="1.71" ry="1.72" fill="#44cc6c" fill-opacity="0.8" transform="rotate(0 350.1 209.7)" filter="url(#bl)"/>
<ellipse cx="357.8" cy="212.3" rx="1.71" ry="1.72" fill="#3cc47c" fill-opacity="0.8" transform="rotate(0 357.8 212.3)" filter="url(#bl)"/>
<ellipse cx="300.4" cy="220.0" rx="2.06" ry="2.06" fill="#3cc47c" fill-opacity="0.8" transform="rotate(0 300.4 220.0)" filter="url(#bl)"/>
<ellipse cx="313.3" cy="225.2" rx="2.06" ry="1.72" fill="#44cc6c" fill-opacity="0.8" transform="rotate(0 313.3 225.2)" filter="url(#bl)"/>
<ellipse cx="326.1" cy="223.5" rx="1.71" ry="1.72" fill="#3aaab8" fill-opacity="0.8" transform="rotate(0 326.1 223.5)" filter="url(#bl)"/>
<ellipse cx="335.6" cy="225.2" rx="1.71" ry="1.72" fill="#3cc47c" fill-opacity="0.8" transform="rotate(0 335.6 225.2)" filter="url(#bl)"/>
<ellipse cx="345.8" cy="227.8" rx="1.71" ry="1.72" fill="#40b4a8" fill-opacity="0.8" transform="rotate(0 345.8 227.8)" filter="url(#bl)"/>
<ellipse cx="356.1" cy="229.5" rx="1.71" ry="1.72" fill="#44cc6c" fill-opacity="0.8" transform="rotate(0 356.1 229.5)" filter="url(#bl)"/>
<ellipse cx="363.0" cy="223.5" rx="1.71" ry="1.72" fill="#3cc47c" fill-opacity="0.8" transform="rotate(0 363.0 223.5)" filter="url(#bl)"/>
<ellipse cx="291.0" cy="238.9" rx="2.40" ry="2.06" fill="#3a88c8" fill-opacity="0.8" transform="rotate(0 291.0 238.9)" filter="url(#bl)"/>
<ellipse cx="304.7" cy="228.6" rx="1.71" ry="1.72" fill="#3aaab8" fill-opacity="0.8" transform="rotate(0 304.7 228.6)" filter="url(#bl)"/>
<ellipse cx="309.0" cy="232.9" rx="1.71" ry="1.72" fill="#3cc47c" fill-opacity="0.8" transform="rotate(0 309.0 232.9)" filter="url(#bl)"/>
<ellipse cx="321.0" cy="238.1" rx="2.06" ry="1.72" fill="#52cc4c" fill-opacity="0.8" transform="rotate(0 321.0 238.1)" filter="url(#bl)"/>
<ellipse cx="336.4" cy="243.2" rx="1.71" ry="1.72" fill="#3aaab8" fill-opacity="0.8" transform="rotate(0 336.4 243.2)" filter="url(#bl)"/>
<ellipse cx="342.4" cy="232.9" rx="1.71" ry="1.72" fill="#44cc6c" fill-opacity="0.8" transform="rotate(0 342.4 232.9)" filter="url(#bl)"/>
<ellipse cx="350.1" cy="240.7" rx="1.71" ry="1.72" fill="#3cc47c" fill-opacity="0.8" transform="rotate(0 350.1 240.7)" filter="url(#bl)"/>
<ellipse cx="361.3" cy="245.8" rx="1.71" ry="1.72" fill="#40b4a8" fill-opacity="0.8" transform="rotate(0 361.3 245.8)" filter="url(#bl)"/>
<ellipse cx="369.8" cy="243.2" rx="1.37" ry="1.72" fill="#3a88c8" fill-opacity="0.8" transform="rotate(0 369.8 243.2)" filter="url(#bl)"/>
<ellipse cx="299.6" cy="247.5" rx="1.71" ry="2.06" fill="#3cc47c" fill-opacity="0.8" transform="rotate(0 299.6 247.5)" filter="url(#bl)"/>
<ellipse cx="308.1" cy="244.1" rx="1.71" ry="1.72" fill="#3aaab8" fill-opacity="0.8" transform="rotate(0 308.1 244.1)" filter="url(#bl)"/>
<ellipse cx="292.7" cy="259.5" rx="1.71" ry="1.37" fill="#3cc47c" fill-opacity="0.8" transform="rotate(0 292.7 259.5)" filter="url(#bl)"/>
<ellipse cx="364.7" cy="257.0" rx="2.06" ry="2.06" fill="#3a80c8" fill-opacity="0.8" transform="rotate(0 364.7 257.0)" filter="url(#bl)"/>
<ellipse cx="352.7" cy="252.7" rx="2.06" ry="1.72" fill="#44cc6c" fill-opacity="0.8" transform="rotate(0 352.7 252.7)" filter="url(#bl)"/>
<ellipse cx="327.0" cy="251.0" rx="1.71" ry="1.72" fill="#3aaab8" fill-opacity="0.8" transform="rotate(0 327.0 251.0)" filter="url(#bl)"/>
<ellipse cx="289.3" cy="216.6" rx="1.37" ry="1.72" fill="#3cc47c" fill-opacity="0.8" transform="rotate(0 289.3 216.6)" filter="url(#bl)"/>
<circle cx="293.6" cy="208.9" r="0.90" fill="#dedede" stroke="#555" stroke-width="0.4"/>
<circle cx="294.4" cy="210.6" r="0.77" fill="#dedede" stroke="#555" stroke-width="0.4"/>
<circle cx="324.4" cy="220.0" r="0.78" fill="#dedede" stroke="#555" stroke-width="0.4"/>
<circle cx="332.1" cy="232.1" r="0.80" fill="#dedede" stroke="#555" stroke-width="0.4"/>
<circle cx="348.4" cy="239.8" r="0.64" fill="#dedede" stroke="#555" stroke-width="0.4"/>
<circle cx="351.0" cy="240.7" r="0.70" fill="#dedede" stroke="#555" stroke-width="0.4"/>
<circle cx="355.3" cy="245.8" r="0.78" fill="#dedede" stroke="#555" stroke-width="0.4"/>
<circle cx="313.3" cy="248.4" r="0.81" fill="#dedede" stroke="#555" stroke-width="0.4"/>
<circle cx="314.1" cy="257.8" r="0.70" fill="#dedede" stroke="#555" stroke-width="0.4"/>
<circle cx="315.8" cy="257.0" r="0.74" fill="#dedede" stroke="#555" stroke-width="0.4"/>
<circle cx="303.0" cy="244.9" r="0.68" fill="#dedede" stroke="#555" stroke-width="0.4"/>
<circle cx="342.4" cy="214.9" r="0.77" fill="#dedede" stroke="#555" stroke-width="0.4"/>
<circle cx="304.7" cy="216.6" r="0.82" fill="#dedede" stroke="#555" stroke-width="0.4"/>
<circle cx="291.0" cy="218.3" r="0.68" fill="#dedede" stroke="#555" stroke-width="0.4"/>
<circle cx="368.1" cy="247.5" r="0.82" fill="#dedede" stroke="#555" stroke-width="0.4"/>
<circle cx="316.7" cy="201.2" r="0.89" fill="#dedede" stroke="#555" stroke-width="0.4"/>
<circle cx="337.3" cy="204.6" r="0.76" fill="#dedede" stroke="#555" stroke-width="0.4"/>
<circle cx="366.4" cy="206.3" r="0.94" fill="#dedede" stroke="#555" stroke-width="0.4"/>
<circle cx="296.1" cy="232.1" r="0.67" fill="#dedede" stroke="#555" stroke-width="0.4"/>
<circle cx="328.7" cy="254.4" r="0.92" fill="#dedede" stroke="#555" stroke-width="0.4"/>
<circle cx="357.8" cy="233.8" r="0.62" fill="#dedede" stroke="#555" stroke-width="0.4"/>
<circle cx="308.1" cy="257.8" r="0.70" fill="#dedede" stroke="#555" stroke-width="0.4"/>
<circle cx="344.1" cy="257.8" r="0.88" fill="#dedede" stroke="#555" stroke-width="0.4"/>
<circle cx="369.8" cy="227.5" r="0.56" fill="#dedede" stroke="#555" stroke-width="0.4"/>
<circle cx="347.9" cy="244.8" r="0.80" fill="#dedede" stroke="#555" stroke-width="0.4"/>
<circle cx="305.6" cy="204.0" r="0.90" fill="#dedede" stroke="#555" stroke-width="0.4"/>
<circle cx="338.2" cy="206.7" r="0.93" fill="#dedede" stroke="#555" stroke-width="0.4"/>
<circle cx="319.7" cy="254.4" r="0.82" fill="#dedede" stroke="#555" stroke-width="0.4"/>
<circle cx="360.8" cy="206.5" r="0.69" fill="#dedede" stroke="#555" stroke-width="0.4"/>
<circle cx="294.5" cy="212.9" r="0.68" fill="#dedede" stroke="#555" stroke-width="0.4"/>
<circle cx="357.1" cy="200.6" r="0.80" fill="#dedede" stroke="#555" stroke-width="0.4"/>
<circle cx="306.5" cy="205.8" r="0.58" fill="#dedede" stroke="#555" stroke-width="0.4"/>
<circle cx="298.3" cy="231.6" r="0.56" fill="#dedede" stroke="#555" stroke-width="0.4"/>
<circle cx="303.0" cy="224.5" r="0.90" fill="#dedede" stroke="#555" stroke-width="0.4"/>
<circle cx="349.1" cy="244.0" r="0.80" fill="#dedede" stroke="#555" stroke-width="0.4"/>
<circle cx="322.4" cy="248.0" r="0.62" fill="#dedede" stroke="#555" stroke-width="0.4"/>
<circle cx="335.6" cy="250.5" r="0.72" fill="#dedede" stroke="#555" stroke-width="0.4"/>
<circle cx="308.5" cy="222.0" r="0.67" fill="#dedede" stroke="#555" stroke-width="0.4"/>
<circle cx="336.3" cy="257.9" r="0.90" fill="#dedede" stroke="#555" stroke-width="0.4"/>
<circle cx="339.5" cy="228.6" r="0.66" fill="#dedede" stroke="#555" stroke-width="0.4"/>
<circle cx="308.6" cy="216.6" r="0.84" fill="#dedede" stroke="#555" stroke-width="0.4"/>
<circle cx="305.7" cy="260.4" r="0.85" fill="#dedede" stroke="#555" stroke-width="0.4"/>
<circle cx="362.0" cy="254.7" r="0.68" fill="#dedede" stroke="#555" stroke-width="0.4"/>
<circle cx="332.0" cy="243.1" r="0.65" fill="#dedede" stroke="#555" stroke-width="0.4"/>
<circle cx="312.5" cy="229.0" r="0.76" fill="#dedede" stroke="#555" stroke-width="0.4"/>
<circle cx="299.8" cy="225.2" r="0.71" fill="#dedede" stroke="#555" stroke-width="0.4"/>
<circle cx="308.8" cy="205.3" r="0.79" fill="#dedede" stroke="#555" stroke-width="0.4"/>
<circle cx="364.8" cy="205.1" r="0.68" fill="#dedede" stroke="#555" stroke-width="0.4"/>
<circle cx="355.8" cy="242.6" r="0.87" fill="#dedede" stroke="#555" stroke-width="0.4"/>
<circle cx="295.1" cy="229.3" r="0.72" fill="#dedede" stroke="#555" stroke-width="0.4"/>
<circle cx="371.2" cy="260.4" r="0.60" fill="#dedede" stroke="#555" stroke-width="0.4"/>
<circle cx="334.9" cy="247.1" r="0.86" fill="#dedede" stroke="#555" stroke-width="0.4"/>
<circle cx="347.1" cy="217.2" r="0.91" fill="#dedede" stroke="#555" stroke-width="0.4"/>
<circle cx="333.8" cy="236.2" r="0.82" fill="#dedede" stroke="#555" stroke-width="0.4"/>
<circle cx="320.7" cy="250.0" r="0.77" fill="#dedede" stroke="#555" stroke-width="0.4"/>
<circle cx="324.9" cy="245.7" r="0.90" fill="#dedede" stroke="#555" stroke-width="0.4"/>
<circle cx="293.0" cy="226.8" r="0.92" fill="#dedede" stroke="#555" stroke-width="0.4"/>
<circle cx="291.3" cy="239.3" r="0.55" fill="#dedede" stroke="#555" stroke-width="0.4"/>
<ellipse cx="350.3" cy="255.2" rx="1.0" ry="1.3" fill="#262626" filter="url(#bl2)"/>
</g>
<g clip-path="url(#ic4)">
<rect x="376.80" y="199.10" width="84.00" height="62.50" fill="url(#imbg5)" />
<ellipse cx="394.5" cy="201.2" rx="2.06" ry="1.72" fill="#40c0a0" fill-opacity="0.88" transform="rotate(0 394.5 201.2)" filter="url(#bl3)"/>
<ellipse cx="408.2" cy="206.3" rx="2.06" ry="3.43" fill="#3070d0" fill-opacity="0.88" transform="rotate(0 408.2 206.3)" filter="url(#bl3)"/>
<ellipse cx="408.2" cy="214.9" rx="1.71" ry="2.40" fill="#4080c8" fill-opacity="0.88" transform="rotate(0 408.2 214.9)" filter="url(#bl3)"/>
<ellipse cx="414.2" cy="205.5" rx="1.71" ry="2.06" fill="#40b8b0" fill-opacity="0.88" transform="rotate(0 414.2 205.5)" filter="url(#bl3)"/>
<ellipse cx="423.6" cy="203.7" rx="2.06" ry="2.40" fill="#c0b040" fill-opacity="0.88" transform="rotate(0 423.6 203.7)" filter="url(#bl3)"/>
<ellipse cx="433.9" cy="203.7" rx="2.06" ry="1.72" fill="#c09444" fill-opacity="0.88" transform="rotate(0 433.9 203.7)" filter="url(#bl3)"/>
<ellipse cx="436.5" cy="216.3" rx="3.26" ry="4.98" fill="#5cd468" fill-opacity="0.88" transform="rotate(-35 436.5 216.3)" filter="url(#bl3)"/>
<ellipse cx="436.8" cy="217.0" rx="1.03" ry="1.37" fill="#40b0c0" fill-opacity="0.88" transform="rotate(0 436.8 217.0)" filter="url(#bl3)"/>
<ellipse cx="410.2" cy="230.3" rx="2.74" ry="8.24" fill="#80d840" fill-opacity="0.88" transform="rotate(-40 410.2 230.3)" filter="url(#bl3)"/>
<ellipse cx="417.6" cy="229.5" rx="1.37" ry="2.06" fill="#40c0c0" fill-opacity="0.88" transform="rotate(0 417.6 229.5)" filter="url(#bl3)"/>
<ellipse cx="393.6" cy="234.6" rx="1.71" ry="2.06" fill="#4a84d0" fill-opacity="0.88" transform="rotate(0 393.6 234.6)" filter="url(#bl3)"/>
<ellipse cx="400.5" cy="245.5" rx="4.29" ry="2.92" fill="#a8b844" fill-opacity="0.88" transform="rotate(20 400.5 245.5)" filter="url(#bl3)"/>
<ellipse cx="416.7" cy="248.9" rx="4.46" ry="1.89" fill="#50d878" fill-opacity="0.88" transform="rotate(-30 416.7 248.9)" filter="url(#bl3)"/>
<ellipse cx="429.3" cy="247.5" rx="2.23" ry="4.29" fill="#58d860" fill-opacity="0.88" transform="rotate(-20 429.3 247.5)" filter="url(#bl3)"/>
<ellipse cx="447.6" cy="247.9" rx="2.57" ry="4.29" fill="#50c880" fill-opacity="0.88" transform="rotate(0 447.6 247.9)" filter="url(#bl3)"/>
<ellipse cx="447.6" cy="247.5" rx="0.86" ry="1.37" fill="#4a8ad0" fill-opacity="0.88" transform="rotate(0 447.6 247.5)" filter="url(#bl3)"/>
<ellipse cx="439.0" cy="244.1" rx="0.86" ry="0.86" fill="#60c060" fill-opacity="0.88" transform="rotate(0 439.0 244.1)" filter="url(#bl3)"/>
<ellipse cx="391.0" cy="258.7" rx="1.71" ry="1.37" fill="#e03050" fill-opacity="0.88" transform="rotate(0 391.0 258.7)" filter="url(#bl3)"/>
<ellipse cx="406.5" cy="257.0" rx="1.71" ry="1.37" fill="#e04060" fill-opacity="0.88" transform="rotate(0 406.5 257.0)" filter="url(#bl3)"/>
<ellipse cx="378.2" cy="218.3" rx="1.37" ry="2.40" fill="#b87070" fill-opacity="0.88" transform="rotate(0 378.2 218.3)" filter="url(#bl3)"/>
<ellipse cx="379.9" cy="201.2" rx="1.03" ry="1.03" fill="#b08070" fill-opacity="0.88" transform="rotate(0 379.9 201.2)" filter="url(#bl3)"/>
<circle cx="457.1" cy="253.3" r="0.62" fill="#dedede" stroke="#555" stroke-width="0.4"/>
<circle cx="437.9" cy="213.2" r="0.91" fill="#dedede" stroke="#555" stroke-width="0.4"/>
<circle cx="404.2" cy="243.5" r="0.60" fill="#dedede" stroke="#555" stroke-width="0.4"/>
<circle cx="444.2" cy="200.1" r="0.81" fill="#dedede" stroke="#555" stroke-width="0.4"/>
<ellipse cx="439.2" cy="255.2" rx="1.0" ry="1.3" fill="#262626" filter="url(#bl2)"/>
<ellipse cx="412.5" cy="238.1" rx="2.0" ry="2.0" fill="#555" fill-opacity="0.75" filter="url(#bl)"/>
</g>
<line x1="58.10" y1="314.86" x2="59.50" y2="314.86" stroke="#222" stroke-width="0.6" />
<line x1="58.10" y1="312.28" x2="59.50" y2="312.28" stroke="#222" stroke-width="0.6" />
<line x1="58.10" y1="310.44" x2="59.50" y2="310.44" stroke="#222" stroke-width="0.6" />
<line x1="58.10" y1="309.02" x2="59.50" y2="309.02" stroke="#222" stroke-width="0.6" />
<line x1="58.10" y1="307.86" x2="59.50" y2="307.86" stroke="#222" stroke-width="0.6" />
<line x1="58.10" y1="306.87" x2="59.50" y2="306.87" stroke="#222" stroke-width="0.6" />
<line x1="58.10" y1="306.02" x2="59.50" y2="306.02" stroke="#222" stroke-width="0.6" />
<line x1="58.10" y1="305.27" x2="59.50" y2="305.27" stroke="#222" stroke-width="0.6" />
<line x1="58.10" y1="329.54" x2="59.50" y2="329.54" stroke="#222" stroke-width="0.6" />
<line x1="58.10" y1="326.96" x2="59.50" y2="326.96" stroke="#222" stroke-width="0.6" />
<line x1="58.10" y1="325.12" x2="59.50" y2="325.12" stroke="#222" stroke-width="0.6" />
<line x1="58.10" y1="323.70" x2="59.50" y2="323.70" stroke="#222" stroke-width="0.6" />
<line x1="58.10" y1="322.54" x2="59.50" y2="322.54" stroke="#222" stroke-width="0.6" />
<line x1="58.10" y1="321.55" x2="59.50" y2="321.55" stroke="#222" stroke-width="0.6" />
<line x1="58.10" y1="320.70" x2="59.50" y2="320.70" stroke="#222" stroke-width="0.6" />
<line x1="58.10" y1="319.95" x2="59.50" y2="319.95" stroke="#222" stroke-width="0.6" />
<line x1="58.10" y1="344.22" x2="59.50" y2="344.22" stroke="#222" stroke-width="0.6" />
<line x1="58.10" y1="341.64" x2="59.50" y2="341.64" stroke="#222" stroke-width="0.6" />
<line x1="58.10" y1="339.80" x2="59.50" y2="339.80" stroke="#222" stroke-width="0.6" />
<line x1="58.10" y1="338.38" x2="59.50" y2="338.38" stroke="#222" stroke-width="0.6" />
<line x1="58.10" y1="337.22" x2="59.50" y2="337.22" stroke="#222" stroke-width="0.6" />
<line x1="58.10" y1="336.23" x2="59.50" y2="336.23" stroke="#222" stroke-width="0.6" />
<line x1="58.10" y1="335.38" x2="59.50" y2="335.38" stroke="#222" stroke-width="0.6" />
<line x1="58.10" y1="334.63" x2="59.50" y2="334.63" stroke="#222" stroke-width="0.6" />
<line x1="58.10" y1="358.90" x2="59.50" y2="358.90" stroke="#222" stroke-width="0.6" />
<line x1="58.10" y1="356.32" x2="59.50" y2="356.32" stroke="#222" stroke-width="0.6" />
<line x1="58.10" y1="354.48" x2="59.50" y2="354.48" stroke="#222" stroke-width="0.6" />
<line x1="58.10" y1="353.06" x2="59.50" y2="353.06" stroke="#222" stroke-width="0.6" />
<line x1="58.10" y1="351.90" x2="59.50" y2="351.90" stroke="#222" stroke-width="0.6" />
<line x1="58.10" y1="350.91" x2="59.50" y2="350.91" stroke="#222" stroke-width="0.6" />
<line x1="58.10" y1="350.06" x2="59.50" y2="350.06" stroke="#222" stroke-width="0.6" />
<line x1="58.10" y1="349.31" x2="59.50" y2="349.31" stroke="#222" stroke-width="0.6" />
<line x1="56.90" y1="304.60" x2="59.50" y2="304.60" stroke="#111" stroke-width="1.0" />
<text transform="translate(53.90,308.10)" font-size="7.1" text-anchor="end" fill="#111" stroke="#111" stroke-width="0.18"><tspan>10</tspan><tspan font-size="4.9" dx="1.1" dy="-3.0">5</tspan></text>
<line x1="56.90" y1="319.28" x2="59.50" y2="319.28" stroke="#111" stroke-width="1.0" />
<text transform="translate(53.90,322.78)" font-size="7.1" text-anchor="end" fill="#111" stroke="#111" stroke-width="0.18"><tspan>10</tspan><tspan font-size="4.9" dx="1.1" dy="-3.0">4</tspan></text>
<line x1="56.90" y1="333.96" x2="59.50" y2="333.96" stroke="#111" stroke-width="1.0" />
<text transform="translate(53.90,337.46)" font-size="7.1" text-anchor="end" fill="#111" stroke="#111" stroke-width="0.18"><tspan>10</tspan><tspan font-size="4.9" dx="1.1" dy="-3.0">3</tspan></text>
<line x1="56.90" y1="348.64" x2="59.50" y2="348.64" stroke="#111" stroke-width="1.0" />
<text transform="translate(53.90,352.14)" font-size="7.1" text-anchor="end" fill="#111" stroke="#111" stroke-width="0.18"><tspan>10</tspan><tspan font-size="4.9" dx="1.1" dy="-3.0">2</tspan></text>
<line x1="56.90" y1="363.32" x2="59.50" y2="363.32" stroke="#111" stroke-width="1.0" />
<text transform="translate(53.90,366.82)" font-size="7.1" text-anchor="end" fill="#111" stroke="#111" stroke-width="0.18"><tspan>10</tspan><tspan font-size="4.9" dx="1.1" dy="-3.0">1</tspan></text>
<line x1="59.50" y1="302.10" x2="59.50" y2="363.92" stroke="#111" stroke-width="1.2" />
<line x1="58.90" y1="363.32" x2="125.00" y2="363.32" stroke="#111" stroke-width="1.3" />
<text transform="translate(14.30,331.76) rotate(-90)" font-size="6.6" text-anchor="middle" fill="#111" font-style="italic" stroke="#111" stroke-width="0.35">IDO</text>
<text transform="translate(25.90,332.36) rotate(-90) scale(0.95,1)" font-size="7.0" text-anchor="middle" fill="#111" stroke="#111" stroke-width="0.12"><tspan font-size="8.4">2</tspan><tspan font-size="5.6" dx="0.4" dy="-3.2">-ΔΔCt</tspan><tspan dy="3.2"> normalized to</tspan></text>
<text transform="translate(35.20,331.76) rotate(-90) scale(0.9,1)" font-size="7.1" text-anchor="middle" fill="#111" stroke="#111" stroke-width="0.12">basal expression</text>
<line x1="83.00" y1="304.50" x2="118.00" y2="304.50" stroke="#555555" stroke-width="1.25" />
<text transform="translate(100.50,306.40)" font-size="7.0" text-anchor="middle" fill="#1a1a1a" font-weight="bold" >**</text>
<line x1="67.80" y1="308.50" x2="118.00" y2="308.50" stroke="#555555" stroke-width="1.25" />
<text transform="translate(75.50,309.70)" font-size="7.0" text-anchor="middle" fill="#1a1a1a" font-weight="bold" >**</text>
<line x1="68.00" y1="312.50" x2="99.80" y2="312.50" stroke="#555555" stroke-width="1.25" />
<text transform="translate(84.00,314.60)" font-size="7.0" text-anchor="middle" fill="#1a1a1a" font-weight="bold" >**</text>
<line x1="103.50" y1="312.50" x2="118.00" y2="312.50" stroke="#555555" stroke-width="1.25" />
<text transform="translate(110.50,314.60)" font-size="7.0" text-anchor="middle" fill="#1a1a1a" font-weight="bold" >**</text>
<polygon points="67.80,350.25 69.55,352.00 67.80,353.75 66.05,352.00" fill="#5a2586" />
<polygon points="64.20,354.05 65.95,355.80 64.20,357.55 62.45,355.80" fill="#5a2586" />
<polygon points="67.80,354.25 69.55,356.00 67.80,357.75 66.05,356.00" fill="#5a2586" />
<polygon points="71.80,354.65 73.55,356.40 71.80,358.15 70.05,356.40" fill="#5a2586" />
<polygon points="67.80,356.75 69.55,358.50 67.80,360.25 66.05,358.50" fill="#5a2586" />
<polygon points="65.80,355.35 67.55,357.10 65.80,358.85 64.05,357.10" fill="#5a2586" />
<polygon points="81.20,322.34 82.70,324.94 79.70,324.94" fill="#5cb82e" />
<polygon points="87.30,321.24 88.80,323.84 85.80,323.84" fill="#5cb82e" />
<polygon points="82.60,324.64 84.10,327.24 81.10,327.24" fill="#5cb82e" />
<polygon points="84.30,324.84 85.80,327.44 82.80,327.44" fill="#5cb82e" />
<polygon points="86.20,324.34 87.70,326.94 84.70,326.94" fill="#5cb82e" />
<polygon points="84.30,337.34 85.80,339.94 82.80,339.94" fill="#5cb82e" />
<polygon points="102.80,314.94 104.30,317.54 101.30,317.54" fill="#c8102e" />
<polygon points="98.10,318.54 99.60,321.14 96.60,321.14" fill="#c8102e" />
<polygon points="103.70,325.24 105.20,327.84 102.20,327.84" fill="#c8102e" />
<polygon points="97.40,327.54 98.90,330.14 95.90,330.14" fill="#c8102e" />
<polygon points="100.80,328.34 102.30,330.94 99.30,330.94" fill="#c8102e" />
<polygon points="100.80,333.34 102.30,335.94 99.30,335.94" fill="#c8102e" />
<polygon points="116.60,337.76 118.10,335.16 115.10,335.16" fill="#1f4d9a" />
<polygon points="120.30,339.86 121.80,337.26 118.80,337.26" fill="#1f4d9a" />
<polygon points="114.20,342.76 115.70,340.16 112.70,340.16" fill="#1f4d9a" />
<polygon points="117.60,343.86 119.10,341.26 116.10,341.26" fill="#1f4d9a" />
<polygon points="114.90,353.56 116.40,350.96 113.40,350.96" fill="#1f4d9a" />
<polygon points="119.30,351.66 120.80,349.06 117.80,349.06" fill="#1f4d9a" />
<line x1="62.50" y1="356.50" x2="73.10" y2="356.50" stroke="#000" stroke-width="1.0" />
<line x1="67.50" y1="354.50" x2="67.50" y2="357.50" stroke="#000" stroke-width="1.0" />
<line x1="65.00" y1="354.50" x2="70.60" y2="354.50" stroke="#000" stroke-width="1.0" />
<line x1="65.00" y1="357.50" x2="70.60" y2="357.50" stroke="#000" stroke-width="1.0" />
<line x1="79.00" y1="325.50" x2="89.60" y2="325.50" stroke="#000" stroke-width="1.0" />
<line x1="84.50" y1="324.50" x2="84.50" y2="326.50" stroke="#000" stroke-width="1.0" />
<line x1="81.50" y1="324.50" x2="87.10" y2="324.50" stroke="#000" stroke-width="1.0" />
<line x1="81.50" y1="326.50" x2="87.10" y2="326.50" stroke="#000" stroke-width="1.0" />
<line x1="95.50" y1="323.50" x2="106.10" y2="323.50" stroke="#000" stroke-width="1.0" />
<line x1="100.50" y1="320.50" x2="100.50" y2="325.50" stroke="#000" stroke-width="1.0" />
<line x1="98.00" y1="320.50" x2="103.60" y2="320.50" stroke="#000" stroke-width="1.0" />
<line x1="98.00" y1="325.50" x2="103.60" y2="325.50" stroke="#000" stroke-width="1.0" />
<line x1="111.30" y1="341.50" x2="121.90" y2="341.50" stroke="#000" stroke-width="1.0" />
<line x1="116.50" y1="339.50" x2="116.50" y2="343.50" stroke="#000" stroke-width="1.0" />
<line x1="113.80" y1="339.50" x2="119.40" y2="339.50" stroke="#000" stroke-width="1.0" />
<line x1="113.80" y1="343.50" x2="119.40" y2="343.50" stroke="#000" stroke-width="1.0" />
<line x1="185.90" y1="318.28" x2="187.30" y2="318.28" stroke="#222" stroke-width="0.6" />
<line x1="185.90" y1="314.83" x2="187.30" y2="314.83" stroke="#222" stroke-width="0.6" />
<line x1="185.90" y1="312.39" x2="187.30" y2="312.39" stroke="#222" stroke-width="0.6" />
<line x1="185.90" y1="310.49" x2="187.30" y2="310.49" stroke="#222" stroke-width="0.6" />
<line x1="185.90" y1="308.94" x2="187.30" y2="308.94" stroke="#222" stroke-width="0.6" />
<line x1="185.90" y1="307.63" x2="187.30" y2="307.63" stroke="#222" stroke-width="0.6" />
<line x1="185.90" y1="306.50" x2="187.30" y2="306.50" stroke="#222" stroke-width="0.6" />
<line x1="185.90" y1="305.50" x2="187.30" y2="305.50" stroke="#222" stroke-width="0.6" />
<line x1="185.90" y1="337.85" x2="187.30" y2="337.85" stroke="#222" stroke-width="0.6" />
<line x1="185.90" y1="334.40" x2="187.30" y2="334.40" stroke="#222" stroke-width="0.6" />
<line x1="185.90" y1="331.96" x2="187.30" y2="331.96" stroke="#222" stroke-width="0.6" />
<line x1="185.90" y1="330.06" x2="187.30" y2="330.06" stroke="#222" stroke-width="0.6" />
<line x1="185.90" y1="328.51" x2="187.30" y2="328.51" stroke="#222" stroke-width="0.6" />
<line x1="185.90" y1="327.20" x2="187.30" y2="327.20" stroke="#222" stroke-width="0.6" />
<line x1="185.90" y1="326.07" x2="187.30" y2="326.07" stroke="#222" stroke-width="0.6" />
<line x1="185.90" y1="325.07" x2="187.30" y2="325.07" stroke="#222" stroke-width="0.6" />
<line x1="185.90" y1="357.42" x2="187.30" y2="357.42" stroke="#222" stroke-width="0.6" />
<line x1="185.90" y1="353.97" x2="187.30" y2="353.97" stroke="#222" stroke-width="0.6" />
<line x1="185.90" y1="351.53" x2="187.30" y2="351.53" stroke="#222" stroke-width="0.6" />
<line x1="185.90" y1="349.63" x2="187.30" y2="349.63" stroke="#222" stroke-width="0.6" />
<line x1="185.90" y1="348.08" x2="187.30" y2="348.08" stroke="#222" stroke-width="0.6" />
<line x1="185.90" y1="346.77" x2="187.30" y2="346.77" stroke="#222" stroke-width="0.6" />
<line x1="185.90" y1="345.64" x2="187.30" y2="345.64" stroke="#222" stroke-width="0.6" />
<line x1="185.90" y1="344.64" x2="187.30" y2="344.64" stroke="#222" stroke-width="0.6" />
<line x1="184.70" y1="304.60" x2="187.30" y2="304.60" stroke="#111" stroke-width="1.0" />
<text transform="translate(181.70,308.10)" font-size="7.1" text-anchor="end" fill="#111" stroke="#111" stroke-width="0.18"><tspan>10</tspan><tspan font-size="4.9" dx="1.1" dy="-3.0">2</tspan></text>
<line x1="184.70" y1="324.17" x2="187.30" y2="324.17" stroke="#111" stroke-width="1.0" />
<text transform="translate(181.70,327.67)" font-size="7.1" text-anchor="end" fill="#111" stroke="#111" stroke-width="0.18"><tspan>10</tspan><tspan font-size="4.9" dx="1.1" dy="-3.0">1</tspan></text>
<line x1="184.70" y1="343.74" x2="187.30" y2="343.74" stroke="#111" stroke-width="1.0" />
<text transform="translate(181.70,347.24)" font-size="7.1" text-anchor="end" fill="#111" stroke="#111" stroke-width="0.18"><tspan>10</tspan><tspan font-size="4.9" dx="1.1" dy="-3.0">0</tspan></text>
<line x1="184.70" y1="363.31" x2="187.30" y2="363.31" stroke="#111" stroke-width="1.0" />
<text transform="translate(181.70,366.81)" font-size="7.1" text-anchor="end" fill="#111" stroke="#111" stroke-width="0.18"><tspan>10</tspan><tspan font-size="4.9" dx="1.1" dy="-3.0">-1</tspan></text>
<line x1="187.30" y1="302.10" x2="187.30" y2="363.91" stroke="#111" stroke-width="1.2" />
<line x1="186.70" y1="363.31" x2="252.50" y2="363.31" stroke="#111" stroke-width="1.3" />
<line x1="188.80" y1="343.74" x2="252.50" y2="343.74" stroke="#222" stroke-width="0.9" stroke-dasharray="1.1,1.4"/>
<text transform="translate(142.10,331.76) rotate(-90) scale(1.04,1)" font-size="6.6" text-anchor="middle" fill="#111" font-style="italic" stroke="#111" stroke-width="0.35">Bcl2</text>
<text transform="translate(153.70,332.36) rotate(-90) scale(0.95,1)" font-size="7.0" text-anchor="middle" fill="#111" stroke="#111" stroke-width="0.12"><tspan font-size="8.4">2</tspan><tspan font-size="5.6" dx="0.4" dy="-3.2">-ΔΔCt</tspan><tspan dy="3.2"> normalized to</tspan></text>
<text transform="translate(163.00,331.76) rotate(-90) scale(0.9,1)" font-size="7.1" text-anchor="middle" fill="#111" stroke="#111" stroke-width="0.12">basal expression</text>
<line x1="193.70" y1="309.50" x2="228.30" y2="309.50" stroke="#555555" stroke-width="1.25" />
<text transform="translate(211.20,310.80)" font-size="7.0" text-anchor="middle" fill="#1a1a1a" font-weight="bold" >**</text>
<line x1="193.70" y1="312.50" x2="246.90" y2="312.50" stroke="#555555" stroke-width="1.25" />
<text transform="translate(237.20,313.90)" font-size="7.0" text-anchor="middle" fill="#1a1a1a" font-weight="bold" >**</text>
<line x1="212.60" y1="317.50" x2="228.70" y2="317.50" stroke="#555555" stroke-width="1.25" />
<text transform="translate(220.70,319.60)" font-size="7.0" text-anchor="middle" fill="#1a1a1a" font-weight="bold" >**</text>
<line x1="212.60" y1="320.50" x2="246.90" y2="320.50" stroke="#555555" stroke-width="1.25" />
<text transform="translate(237.20,321.90)" font-size="7.0" text-anchor="middle" fill="#1a1a1a" font-weight="bold" >**</text>
<polygon points="192.45,344.50 194.20,346.25 192.45,348.00 190.70,346.25" fill="#5a2586" />
<polygon points="194.95,344.00 196.70,345.75 194.95,347.50 193.20,345.75" fill="#5a2586" />
<polygon points="196.20,345.75 197.95,347.50 196.20,349.25 194.45,347.50" fill="#5a2586" />
<polygon points="193.20,345.75 194.95,347.50 193.20,349.25 191.45,347.50" fill="#5a2586" />
<polygon points="194.20,345.00 195.95,346.75 194.20,348.50 192.45,346.75" fill="#5a2586" />
<polygon points="207.50,338.94 209.00,341.54 206.00,341.54" fill="#5cb82e" />
<polygon points="215.00,338.44 216.50,341.04 213.50,341.04" fill="#5cb82e" />
<polygon points="209.50,343.44 211.00,346.04 208.00,346.04" fill="#5cb82e" />
<polygon points="212.50,344.74 214.00,347.34 211.00,347.34" fill="#5cb82e" />
<polygon points="207.50,348.94 209.00,351.54 206.00,351.54" fill="#5cb82e" />
<polygon points="213.80,349.74 215.30,352.34 212.30,352.34" fill="#5cb82e" />
<polygon points="226.00,321.74 227.50,324.34 224.50,324.34" fill="#c8102e" />
<polygon points="231.40,323.04 232.90,325.64 229.90,325.64" fill="#c8102e" />
<polygon points="227.40,329.14 228.90,331.74 225.90,331.74" fill="#c8102e" />
<polygon points="230.10,327.74 231.60,330.34 228.60,330.34" fill="#c8102e" />
<polygon points="224.50,325.44 226.00,328.04 223.00,328.04" fill="#c8102e" />
<polygon points="229.00,325.94 230.50,328.54 227.50,328.54" fill="#c8102e" />
<polygon points="244.90,328.46 246.40,325.86 243.40,325.86" fill="#1f4d9a" />
<polygon points="248.30,329.56 249.80,326.96 246.80,326.96" fill="#1f4d9a" />
<polygon points="242.20,331.86 243.70,329.26 240.70,329.26" fill="#1f4d9a" />
<polygon points="247.60,339.36 249.10,336.76 246.10,336.76" fill="#1f4d9a" />
<polygon points="243.00,343.56 244.50,340.96 241.50,340.96" fill="#1f4d9a" />
<line x1="189.20" y1="346.50" x2="199.80" y2="346.50" stroke="#000" stroke-width="1.0" />
<line x1="206.00" y1="344.50" x2="216.60" y2="344.50" stroke="#000" stroke-width="1.0" />
<line x1="211.50" y1="342.50" x2="211.50" y2="346.50" stroke="#000" stroke-width="1.0" />
<line x1="208.50" y1="342.50" x2="214.10" y2="342.50" stroke="#000" stroke-width="1.0" />
<line x1="208.50" y1="346.50" x2="214.10" y2="346.50" stroke="#000" stroke-width="1.0" />
<line x1="222.20" y1="326.50" x2="232.80" y2="326.50" stroke="#000" stroke-width="1.0" />
<line x1="227.50" y1="325.50" x2="227.50" y2="328.50" stroke="#000" stroke-width="1.0" />
<line x1="224.70" y1="325.50" x2="230.30" y2="325.50" stroke="#000" stroke-width="1.0" />
<line x1="224.70" y1="328.50" x2="230.30" y2="328.50" stroke="#000" stroke-width="1.0" />
<line x1="240.20" y1="331.50" x2="250.80" y2="331.50" stroke="#000" stroke-width="1.0" />
<line x1="245.50" y1="329.50" x2="245.50" y2="333.50" stroke="#000" stroke-width="1.0" />
<line x1="242.70" y1="329.50" x2="248.30" y2="329.50" stroke="#000" stroke-width="1.0" />
<line x1="242.70" y1="333.50" x2="248.30" y2="333.50" stroke="#000" stroke-width="1.0" />
<line x1="314.10" y1="318.28" x2="315.50" y2="318.28" stroke="#222" stroke-width="0.6" />
<line x1="314.10" y1="314.83" x2="315.50" y2="314.83" stroke="#222" stroke-width="0.6" />
<line x1="314.10" y1="312.39" x2="315.50" y2="312.39" stroke="#222" stroke-width="0.6" />
<line x1="314.10" y1="310.49" x2="315.50" y2="310.49" stroke="#222" stroke-width="0.6" />
<line x1="314.10" y1="308.94" x2="315.50" y2="308.94" stroke="#222" stroke-width="0.6" />
<line x1="314.10" y1="307.63" x2="315.50" y2="307.63" stroke="#222" stroke-width="0.6" />
<line x1="314.10" y1="306.50" x2="315.50" y2="306.50" stroke="#222" stroke-width="0.6" />
<line x1="314.10" y1="305.50" x2="315.50" y2="305.50" stroke="#222" stroke-width="0.6" />
<line x1="314.10" y1="337.85" x2="315.50" y2="337.85" stroke="#222" stroke-width="0.6" />
<line x1="314.10" y1="334.40" x2="315.50" y2="334.40" stroke="#222" stroke-width="0.6" />
<line x1="314.10" y1="331.96" x2="315.50" y2="331.96" stroke="#222" stroke-width="0.6" />
<line x1="314.10" y1="330.06" x2="315.50" y2="330.06" stroke="#222" stroke-width="0.6" />
<line x1="314.10" y1="328.51" x2="315.50" y2="328.51" stroke="#222" stroke-width="0.6" />
<line x1="314.10" y1="327.20" x2="315.50" y2="327.20" stroke="#222" stroke-width="0.6" />
<line x1="314.10" y1="326.07" x2="315.50" y2="326.07" stroke="#222" stroke-width="0.6" />
<line x1="314.10" y1="325.07" x2="315.50" y2="325.07" stroke="#222" stroke-width="0.6" />
<line x1="314.10" y1="357.42" x2="315.50" y2="357.42" stroke="#222" stroke-width="0.6" />
<line x1="314.10" y1="353.97" x2="315.50" y2="353.97" stroke="#222" stroke-width="0.6" />
<line x1="314.10" y1="351.53" x2="315.50" y2="351.53" stroke="#222" stroke-width="0.6" />
<line x1="314.10" y1="349.63" x2="315.50" y2="349.63" stroke="#222" stroke-width="0.6" />
<line x1="314.10" y1="348.08" x2="315.50" y2="348.08" stroke="#222" stroke-width="0.6" />
<line x1="314.10" y1="346.77" x2="315.50" y2="346.77" stroke="#222" stroke-width="0.6" />
<line x1="314.10" y1="345.64" x2="315.50" y2="345.64" stroke="#222" stroke-width="0.6" />
<line x1="314.10" y1="344.64" x2="315.50" y2="344.64" stroke="#222" stroke-width="0.6" />
<line x1="312.90" y1="304.60" x2="315.50" y2="304.60" stroke="#111" stroke-width="1.0" />
<text transform="translate(309.90,308.10)" font-size="7.1" text-anchor="end" fill="#111" stroke="#111" stroke-width="0.18"><tspan>10</tspan><tspan font-size="4.9" dx="1.1" dy="-3.0">2</tspan></text>
<line x1="312.90" y1="324.17" x2="315.50" y2="324.17" stroke="#111" stroke-width="1.0" />
<text transform="translate(309.90,327.67)" font-size="7.1" text-anchor="end" fill="#111" stroke="#111" stroke-width="0.18"><tspan>10</tspan><tspan font-size="4.9" dx="1.1" dy="-3.0">1</tspan></text>
<line x1="312.90" y1="343.74" x2="315.50" y2="343.74" stroke="#111" stroke-width="1.0" />
<text transform="translate(309.90,347.24)" font-size="7.1" text-anchor="end" fill="#111" stroke="#111" stroke-width="0.18"><tspan>10</tspan><tspan font-size="4.9" dx="1.1" dy="-3.0">0</tspan></text>
<line x1="312.90" y1="363.31" x2="315.50" y2="363.31" stroke="#111" stroke-width="1.0" />
<text transform="translate(309.90,366.81)" font-size="7.1" text-anchor="end" fill="#111" stroke="#111" stroke-width="0.18"><tspan>10</tspan><tspan font-size="4.9" dx="1.1" dy="-3.0">-1</tspan></text>
<line x1="315.50" y1="302.10" x2="315.50" y2="363.91" stroke="#111" stroke-width="1.2" />
<line x1="314.90" y1="363.31" x2="384.00" y2="363.31" stroke="#111" stroke-width="1.3" />
<line x1="317.00" y1="343.74" x2="384.00" y2="343.74" stroke="#222" stroke-width="0.9" stroke-dasharray="1.1,1.4"/>
<text transform="translate(270.30,331.76) rotate(-90) scale(1.08,1)" font-size="6.6" text-anchor="middle" fill="#111" font-style="italic" stroke="#111" stroke-width="0.35">A20</text>
<text transform="translate(281.90,332.36) rotate(-90) scale(0.95,1)" font-size="7.0" text-anchor="middle" fill="#111" stroke="#111" stroke-width="0.12"><tspan font-size="8.4">2</tspan><tspan font-size="5.6" dx="0.4" dy="-3.2">-ΔΔCt</tspan><tspan dy="3.2"> normalized to</tspan></text>
<text transform="translate(291.20,331.76) rotate(-90) scale(0.9,1)" font-size="7.1" text-anchor="middle" fill="#111" stroke="#111" stroke-width="0.12">basal expression</text>
<line x1="357.80" y1="291.50" x2="376.20" y2="291.50" stroke="#555555" stroke-width="1.25" />
<text transform="translate(366.80,292.70)" font-size="7.0" text-anchor="middle" fill="#1a1a1a" font-weight="bold" >*</text>
<line x1="338.60" y1="293.50" x2="376.20" y2="293.50" stroke="#555555" stroke-width="1.25" />
<text transform="translate(348.00,295.50)" font-size="7.0" text-anchor="middle" fill="#1a1a1a" font-weight="bold" >**</text>
<line x1="325.10" y1="297.50" x2="376.90" y2="297.50" stroke="#555555" stroke-width="1.25" />
<text transform="translate(331.80,298.90)" font-size="7.0" text-anchor="middle" fill="#1a1a1a" font-weight="bold" >**</text>
<line x1="344.60" y1="301.50" x2="362.80" y2="301.50" stroke="#555555" stroke-width="1.25" />
<text transform="translate(354.00,302.90)" font-size="7.0" text-anchor="middle" fill="#1a1a1a" font-weight="bold" >**</text>
<line x1="325.50" y1="303.50" x2="362.80" y2="303.50" stroke="#555555" stroke-width="1.25" />
<text transform="translate(331.80,305.20)" font-size="7.0" text-anchor="middle" fill="#1a1a1a" font-weight="bold" >*</text>
<polygon points="324.50,305.25 326.25,307.00 324.50,308.75 322.75,307.00" fill="#5a2586" />
<polygon points="320.00,310.25 321.75,312.00 320.00,313.75 318.25,312.00" fill="#5a2586" />
<polygon points="327.50,310.25 329.25,312.00 327.50,313.75 325.75,312.00" fill="#5a2586" />
<polygon points="322.50,313.75 324.25,315.50 322.50,317.25 320.75,315.50" fill="#5a2586" />
<polygon points="326.30,313.75 328.05,315.50 326.30,317.25 324.55,315.50" fill="#5a2586" />
<polygon points="339.50,342.94 341.00,345.54 338.00,345.54" fill="#5cb82e" />
<polygon points="342.50,345.44 344.00,348.04 341.00,348.04" fill="#5cb82e" />
<polygon points="341.25,347.19 342.75,349.79 339.75,349.79" fill="#5cb82e" />
<polygon points="343.75,344.44 345.25,347.04 342.25,347.04" fill="#5cb82e" />
<polygon points="354.50,315.44 356.00,318.04 353.00,318.04" fill="#c8102e" />
<polygon points="358.80,314.74 360.30,317.34 357.30,317.34" fill="#c8102e" />
<polygon points="356.30,318.44 357.80,321.04 354.80,321.04" fill="#c8102e" />
<polygon points="361.30,317.94 362.80,320.54 359.80,320.54" fill="#c8102e" />
<polygon points="356.30,322.94 357.80,325.54 354.80,325.54" fill="#c8102e" />
<polygon points="376.30,321.56 377.80,318.96 374.80,318.96" fill="#1f4d9a" />
<polygon points="372.50,324.06 374.00,321.46 371.00,321.46" fill="#1f4d9a" />
<polygon points="374.50,327.86 376.00,325.26 373.00,325.26" fill="#1f4d9a" />
<polygon points="375.50,335.36 377.00,332.76 374.00,332.76" fill="#1f4d9a" />
<polygon points="375.50,340.36 377.00,337.76 374.00,337.76" fill="#1f4d9a" />
<line x1="319.20" y1="311.50" x2="329.80" y2="311.50" stroke="#000" stroke-width="1.0" />
<line x1="324.50" y1="309.50" x2="324.50" y2="313.50" stroke="#000" stroke-width="1.0" />
<line x1="321.70" y1="309.50" x2="327.30" y2="309.50" stroke="#000" stroke-width="1.0" />
<line x1="321.70" y1="313.50" x2="327.30" y2="313.50" stroke="#000" stroke-width="1.0" />
<line x1="336.00" y1="345.50" x2="346.60" y2="345.50" stroke="#000" stroke-width="1.0" />
<line x1="341.50" y1="345.50" x2="341.50" y2="346.50" stroke="#000" stroke-width="1.0" />
<line x1="338.50" y1="345.50" x2="344.10" y2="345.50" stroke="#000" stroke-width="1.0" />
<line x1="338.50" y1="346.50" x2="344.10" y2="346.50" stroke="#000" stroke-width="1.0" />
<line x1="352.20" y1="318.50" x2="362.80" y2="318.50" stroke="#000" stroke-width="1.0" />
<line x1="357.50" y1="317.50" x2="357.50" y2="319.50" stroke="#000" stroke-width="1.0" />
<line x1="354.70" y1="317.50" x2="360.30" y2="317.50" stroke="#000" stroke-width="1.0" />
<line x1="354.70" y1="319.50" x2="360.30" y2="319.50" stroke="#000" stroke-width="1.0" />
<line x1="369.20" y1="325.50" x2="379.80" y2="325.50" stroke="#000" stroke-width="1.0" />
<line x1="374.50" y1="322.50" x2="374.50" y2="327.50" stroke="#000" stroke-width="1.0" />
<line x1="371.70" y1="322.50" x2="377.30" y2="322.50" stroke="#000" stroke-width="1.0" />
<line x1="371.70" y1="327.50" x2="377.30" y2="327.50" stroke="#000" stroke-width="1.0" />
<line x1="444.80" y1="318.28" x2="446.20" y2="318.28" stroke="#222" stroke-width="0.6" />
<line x1="444.80" y1="314.83" x2="446.20" y2="314.83" stroke="#222" stroke-width="0.6" />
<line x1="444.80" y1="312.39" x2="446.20" y2="312.39" stroke="#222" stroke-width="0.6" />
<line x1="444.80" y1="310.49" x2="446.20" y2="310.49" stroke="#222" stroke-width="0.6" />
<line x1="444.80" y1="308.94" x2="446.20" y2="308.94" stroke="#222" stroke-width="0.6" />
<line x1="444.80" y1="307.63" x2="446.20" y2="307.63" stroke="#222" stroke-width="0.6" />
<line x1="444.80" y1="306.50" x2="446.20" y2="306.50" stroke="#222" stroke-width="0.6" />
<line x1="444.80" y1="305.50" x2="446.20" y2="305.50" stroke="#222" stroke-width="0.6" />
<line x1="444.80" y1="337.85" x2="446.20" y2="337.85" stroke="#222" stroke-width="0.6" />
<line x1="444.80" y1="334.40" x2="446.20" y2="334.40" stroke="#222" stroke-width="0.6" />
<line x1="444.80" y1="331.96" x2="446.20" y2="331.96" stroke="#222" stroke-width="0.6" />
<line x1="444.80" y1="330.06" x2="446.20" y2="330.06" stroke="#222" stroke-width="0.6" />
<line x1="444.80" y1="328.51" x2="446.20" y2="328.51" stroke="#222" stroke-width="0.6" />
<line x1="444.80" y1="327.20" x2="446.20" y2="327.20" stroke="#222" stroke-width="0.6" />
<line x1="444.80" y1="326.07" x2="446.20" y2="326.07" stroke="#222" stroke-width="0.6" />
<line x1="444.80" y1="325.07" x2="446.20" y2="325.07" stroke="#222" stroke-width="0.6" />
<line x1="444.80" y1="357.42" x2="446.20" y2="357.42" stroke="#222" stroke-width="0.6" />
<line x1="444.80" y1="353.97" x2="446.20" y2="353.97" stroke="#222" stroke-width="0.6" />
<line x1="444.80" y1="351.53" x2="446.20" y2="351.53" stroke="#222" stroke-width="0.6" />
<line x1="444.80" y1="349.63" x2="446.20" y2="349.63" stroke="#222" stroke-width="0.6" />
<line x1="444.80" y1="348.08" x2="446.20" y2="348.08" stroke="#222" stroke-width="0.6" />
<line x1="444.80" y1="346.77" x2="446.20" y2="346.77" stroke="#222" stroke-width="0.6" />
<line x1="444.80" y1="345.64" x2="446.20" y2="345.64" stroke="#222" stroke-width="0.6" />
<line x1="444.80" y1="344.64" x2="446.20" y2="344.64" stroke="#222" stroke-width="0.6" />
<line x1="443.60" y1="304.60" x2="446.20" y2="304.60" stroke="#111" stroke-width="1.0" />
<text transform="translate(440.60,308.10)" font-size="7.1" text-anchor="end" fill="#111" stroke="#111" stroke-width="0.18"><tspan>10</tspan><tspan font-size="4.9" dx="1.1" dy="-3.0">2</tspan></text>
<line x1="443.60" y1="324.17" x2="446.20" y2="324.17" stroke="#111" stroke-width="1.0" />
<text transform="translate(440.60,327.67)" font-size="7.1" text-anchor="end" fill="#111" stroke="#111" stroke-width="0.18"><tspan>10</tspan><tspan font-size="4.9" dx="1.1" dy="-3.0">1</tspan></text>
<line x1="443.60" y1="343.74" x2="446.20" y2="343.74" stroke="#111" stroke-width="1.0" />
<text transform="translate(440.60,347.24)" font-size="7.1" text-anchor="end" fill="#111" stroke="#111" stroke-width="0.18"><tspan>10</tspan><tspan font-size="4.9" dx="1.1" dy="-3.0">0</tspan></text>
<line x1="443.60" y1="363.31" x2="446.20" y2="363.31" stroke="#111" stroke-width="1.0" />
<text transform="translate(440.60,366.81)" font-size="7.1" text-anchor="end" fill="#111" stroke="#111" stroke-width="0.18"><tspan>10</tspan><tspan font-size="4.9" dx="1.1" dy="-3.0">-1</tspan></text>
<line x1="446.20" y1="302.10" x2="446.20" y2="363.91" stroke="#111" stroke-width="1.2" />
<line x1="445.60" y1="363.31" x2="508.00" y2="363.31" stroke="#111" stroke-width="1.3" />
<line x1="447.70" y1="343.74" x2="508.00" y2="343.74" stroke="#222" stroke-width="0.9" stroke-dasharray="1.1,1.4"/>
<text transform="translate(401.00,331.76) rotate(-90)" font-size="6.6" text-anchor="middle" fill="#111" font-style="italic" stroke="#111" stroke-width="0.35">NFkappaB I alpha</text>
<text transform="translate(412.60,332.36) rotate(-90) scale(0.95,1)" font-size="7.0" text-anchor="middle" fill="#111" stroke="#111" stroke-width="0.12"><tspan font-size="8.4">2</tspan><tspan font-size="5.6" dx="0.4" dy="-3.2">-ΔΔCt</tspan><tspan dy="3.2"> normalized to</tspan></text>
<text transform="translate(421.90,331.76) rotate(-90) scale(0.9,1)" font-size="7.1" text-anchor="middle" fill="#111" stroke="#111" stroke-width="0.12">basal expression</text>
<line x1="468.80" y1="310.50" x2="484.50" y2="310.50" stroke="#555555" stroke-width="1.25" />
<text transform="translate(476.30,311.70)" font-size="7.0" text-anchor="middle" fill="#1a1a1a" font-weight="bold" >**</text>
<line x1="468.80" y1="313.50" x2="502.50" y2="313.50" stroke="#555555" stroke-width="1.25" />
<text transform="translate(493.00,314.70)" font-size="7.0" text-anchor="middle" fill="#1a1a1a" font-weight="bold" >**</text>
<line x1="453.00" y1="315.50" x2="502.50" y2="315.50" stroke="#555555" stroke-width="1.25" />
<text transform="translate(460.80,317.20)" font-size="7.0" text-anchor="middle" fill="#1a1a1a" font-weight="bold" >**</text>
<polygon points="452.00,320.25 453.75,322.00 452.00,323.75 450.25,322.00" fill="#5a2586" />
<polygon points="454.50,319.50 456.25,321.25 454.50,323.00 452.75,321.25" fill="#5a2586" />
<polygon points="457.50,321.25 459.25,323.00 457.50,324.75 455.75,323.00" fill="#5a2586" />
<polygon points="455.50,323.25 457.25,325.00 455.50,326.75 453.75,325.00" fill="#5a2586" />
<polygon points="452.50,325.25 454.25,327.00 452.50,328.75 450.75,327.00" fill="#5a2586" />
<polygon points="469.50,338.44 471.00,341.04 468.00,341.04" fill="#5cb82e" />
<polygon points="466.50,342.74 468.00,345.34 465.00,345.34" fill="#5cb82e" />
<polygon points="469.00,343.44 470.50,346.04 467.50,346.04" fill="#5cb82e" />
<polygon points="472.00,342.74 473.50,345.34 470.50,345.34" fill="#5cb82e" />
<polygon points="474.00,343.74 475.50,346.34 472.50,346.34" fill="#5cb82e" />
<polygon points="468.00,344.94 469.50,347.54 466.50,347.54" fill="#5cb82e" />
<polygon points="471.50,345.44 473.00,348.04 470.00,348.04" fill="#5cb82e" />
<polygon points="483.00,323.94 484.50,326.54 481.50,326.54" fill="#c8102e" />
<polygon points="488.00,323.94 489.50,326.54 486.50,326.54" fill="#c8102e" />
<polygon points="484.50,327.94 486.00,330.54 483.00,330.54" fill="#c8102e" />
<polygon points="488.75,327.94 490.25,330.54 487.25,330.54" fill="#c8102e" />
<polygon points="483.00,332.19 484.50,334.79 481.50,334.79" fill="#c8102e" />
<polygon points="489.50,330.94 491.00,333.54 488.00,333.54" fill="#c8102e" />
<polygon points="498.00,329.56 499.50,326.96 496.50,326.96" fill="#1f4d9a" />
<polygon points="503.00,329.56 504.50,326.96 501.50,326.96" fill="#1f4d9a" />
<polygon points="499.50,336.06 501.00,333.46 498.00,333.46" fill="#1f4d9a" />
<polygon points="504.50,339.06 506.00,336.46 503.00,336.46" fill="#1f4d9a" />
<polygon points="500.00,342.06 501.50,339.46 498.50,339.46" fill="#1f4d9a" />
<line x1="450.20" y1="323.50" x2="460.80" y2="323.50" stroke="#000" stroke-width="1.0" />
<line x1="455.50" y1="322.50" x2="455.50" y2="324.50" stroke="#000" stroke-width="1.0" />
<line x1="452.70" y1="322.50" x2="458.30" y2="322.50" stroke="#000" stroke-width="1.0" />
<line x1="452.70" y1="324.50" x2="458.30" y2="324.50" stroke="#000" stroke-width="1.0" />
<line x1="464.70" y1="344.50" x2="475.30" y2="344.50" stroke="#000" stroke-width="1.0" />
<line x1="480.20" y1="328.50" x2="490.80" y2="328.50" stroke="#000" stroke-width="1.0" />
<line x1="485.50" y1="326.50" x2="485.50" y2="329.50" stroke="#000" stroke-width="1.0" />
<line x1="482.70" y1="326.50" x2="488.30" y2="326.50" stroke="#000" stroke-width="1.0" />
<line x1="482.70" y1="329.50" x2="488.30" y2="329.50" stroke="#000" stroke-width="1.0" />
<line x1="495.20" y1="332.50" x2="505.80" y2="332.50" stroke="#000" stroke-width="1.0" />
<line x1="500.50" y1="330.50" x2="500.50" y2="334.50" stroke="#000" stroke-width="1.0" />
<line x1="497.70" y1="330.50" x2="503.30" y2="330.50" stroke="#000" stroke-width="1.0" />
<line x1="497.70" y1="334.50" x2="503.30" y2="334.50" stroke="#000" stroke-width="1.0" />
<line x1="58.20" y1="405.08" x2="59.60" y2="405.08" stroke="#222" stroke-width="0.6" />
<line x1="58.20" y1="401.63" x2="59.60" y2="401.63" stroke="#222" stroke-width="0.6" />
<line x1="58.20" y1="399.19" x2="59.60" y2="399.19" stroke="#222" stroke-width="0.6" />
<line x1="58.20" y1="397.29" x2="59.60" y2="397.29" stroke="#222" stroke-width="0.6" />
<line x1="58.20" y1="395.74" x2="59.60" y2="395.74" stroke="#222" stroke-width="0.6" />
<line x1="58.20" y1="394.43" x2="59.60" y2="394.43" stroke="#222" stroke-width="0.6" />
<line x1="58.20" y1="393.30" x2="59.60" y2="393.30" stroke="#222" stroke-width="0.6" />
<line x1="58.20" y1="392.30" x2="59.60" y2="392.30" stroke="#222" stroke-width="0.6" />
<line x1="58.20" y1="424.65" x2="59.60" y2="424.65" stroke="#222" stroke-width="0.6" />
<line x1="58.20" y1="421.20" x2="59.60" y2="421.20" stroke="#222" stroke-width="0.6" />
<line x1="58.20" y1="418.76" x2="59.60" y2="418.76" stroke="#222" stroke-width="0.6" />
<line x1="58.20" y1="416.86" x2="59.60" y2="416.86" stroke="#222" stroke-width="0.6" />
<line x1="58.20" y1="415.31" x2="59.60" y2="415.31" stroke="#222" stroke-width="0.6" />
<line x1="58.20" y1="414.00" x2="59.60" y2="414.00" stroke="#222" stroke-width="0.6" />
<line x1="58.20" y1="412.87" x2="59.60" y2="412.87" stroke="#222" stroke-width="0.6" />
<line x1="58.20" y1="411.87" x2="59.60" y2="411.87" stroke="#222" stroke-width="0.6" />
<line x1="58.20" y1="444.22" x2="59.60" y2="444.22" stroke="#222" stroke-width="0.6" />
<line x1="58.20" y1="440.77" x2="59.60" y2="440.77" stroke="#222" stroke-width="0.6" />
<line x1="58.20" y1="438.33" x2="59.60" y2="438.33" stroke="#222" stroke-width="0.6" />
<line x1="58.20" y1="436.43" x2="59.60" y2="436.43" stroke="#222" stroke-width="0.6" />
<line x1="58.20" y1="434.88" x2="59.60" y2="434.88" stroke="#222" stroke-width="0.6" />
<line x1="58.20" y1="433.57" x2="59.60" y2="433.57" stroke="#222" stroke-width="0.6" />
<line x1="58.20" y1="432.44" x2="59.60" y2="432.44" stroke="#222" stroke-width="0.6" />
<line x1="58.20" y1="431.44" x2="59.60" y2="431.44" stroke="#222" stroke-width="0.6" />
<line x1="57.00" y1="391.40" x2="59.60" y2="391.40" stroke="#111" stroke-width="1.0" />
<text transform="translate(54.00,394.90)" font-size="7.1" text-anchor="end" fill="#111" stroke="#111" stroke-width="0.18"><tspan>10</tspan><tspan font-size="4.9" dx="1.1" dy="-3.0">2</tspan></text>
<line x1="57.00" y1="410.97" x2="59.60" y2="410.97" stroke="#111" stroke-width="1.0" />
<text transform="translate(54.00,414.47)" font-size="7.1" text-anchor="end" fill="#111" stroke="#111" stroke-width="0.18"><tspan>10</tspan><tspan font-size="4.9" dx="1.1" dy="-3.0">1</tspan></text>
<line x1="57.00" y1="430.54" x2="59.60" y2="430.54" stroke="#111" stroke-width="1.0" />
<text transform="translate(54.00,434.04)" font-size="7.1" text-anchor="end" fill="#111" stroke="#111" stroke-width="0.18"><tspan>10</tspan><tspan font-size="4.9" dx="1.1" dy="-3.0">0</tspan></text>
<line x1="57.00" y1="450.11" x2="59.60" y2="450.11" stroke="#111" stroke-width="1.0" />
<text transform="translate(54.00,453.61)" font-size="7.1" text-anchor="end" fill="#111" stroke="#111" stroke-width="0.18"><tspan>10</tspan><tspan font-size="4.9" dx="1.1" dy="-3.0">-1</tspan></text>
<line x1="59.60" y1="388.90" x2="59.60" y2="450.71" stroke="#111" stroke-width="1.2" />
<line x1="59.00" y1="450.11" x2="125.00" y2="450.11" stroke="#111" stroke-width="1.3" />
<line x1="61.10" y1="430.54" x2="125.00" y2="430.54" stroke="#222" stroke-width="0.9" stroke-dasharray="1.1,1.4"/>
<text transform="translate(14.40,418.56) rotate(-90) scale(0.84,1)" font-size="6.6" text-anchor="middle" fill="#111" font-style="italic" stroke="#111" stroke-width="0.35">VCAM1</text>
<text transform="translate(26.00,419.16) rotate(-90) scale(0.95,1)" font-size="7.0" text-anchor="middle" fill="#111" stroke="#111" stroke-width="0.12"><tspan font-size="8.4">2</tspan><tspan font-size="5.6" dx="0.4" dy="-3.2">-ΔΔCt</tspan><tspan dy="3.2"> normalized to</tspan></text>
<text transform="translate(35.30,418.56) rotate(-90) scale(0.9,1)" font-size="7.1" text-anchor="middle" fill="#111" stroke="#111" stroke-width="0.12">basal expression</text>
<line x1="65.50" y1="382.50" x2="117.50" y2="382.50" stroke="#555555" stroke-width="1.25" />
<text transform="translate(92.00,384.20)" font-size="7.0" text-anchor="middle" fill="#1a1a1a" font-weight="bold" >**</text>
<line x1="82.50" y1="389.50" x2="100.00" y2="389.50" stroke="#555555" stroke-width="1.25" />
<text transform="translate(91.30,391.20)" font-size="7.0" text-anchor="middle" fill="#1a1a1a" font-weight="bold" >**</text>
<line x1="102.50" y1="389.50" x2="117.50" y2="389.50" stroke="#555555" stroke-width="1.25" />
<text transform="translate(110.00,391.20)" font-size="7.0" text-anchor="middle" fill="#1a1a1a" font-weight="bold" >**</text>
<polygon points="65.60,391.35 67.35,393.10 65.60,394.85 63.85,393.10" fill="#5a2586" />
<polygon points="70.60,391.35 72.35,393.10 70.60,394.85 68.85,393.10" fill="#5a2586" />
<polygon points="65.60,398.85 67.35,400.60 65.60,402.35 63.85,400.60" fill="#5a2586" />
<polygon points="70.60,397.65 72.35,399.40 70.60,401.15 68.85,399.40" fill="#5a2586" />
<polygon points="68.00,394.25 69.75,396.00 68.00,397.75 66.25,396.00" fill="#5a2586" />
<polygon points="82.50,422.24 84.00,424.84 81.00,424.84" fill="#5cb82e" />
<polygon points="85.60,422.24 87.10,424.84 84.10,424.84" fill="#5cb82e" />
<polygon points="84.40,424.74 85.90,427.34 82.90,427.34" fill="#5cb82e" />
<polygon points="85.00,427.24 86.50,429.84 83.50,429.84" fill="#5cb82e" />
<polygon points="86.50,423.94 88.00,426.54 85.00,426.54" fill="#5cb82e" />
<polygon points="98.10,393.44 99.60,396.04 96.60,396.04" fill="#c8102e" />
<polygon points="103.10,393.44 104.60,396.04 101.60,396.04" fill="#c8102e" />
<polygon points="97.50,396.54 99.00,399.14 96.00,399.14" fill="#c8102e" />
<polygon points="100.60,396.54 102.10,399.14 99.10,399.14" fill="#c8102e" />
<polygon points="103.10,396.54 104.60,399.14 101.60,399.14" fill="#c8102e" />
<polygon points="100.50,394.44 102.00,397.04 99.00,397.04" fill="#c8102e" />
<polygon points="114.75,399.66 116.25,397.06 113.25,397.06" fill="#1f4d9a" />
<polygon points="119.75,400.56 121.25,397.96 118.25,397.96" fill="#1f4d9a" />
<polygon points="114.75,416.31 116.25,413.71 113.25,413.71" fill="#1f4d9a" />
<polygon points="117.25,415.56 118.75,412.96 115.75,412.96" fill="#1f4d9a" />
<polygon points="119.75,420.56 121.25,417.96 118.25,417.96" fill="#1f4d9a" />
<polygon points="117.25,437.16 118.75,434.56 115.75,434.56" fill="#1f4d9a" />
<line x1="63.00" y1="396.50" x2="73.60" y2="396.50" stroke="#000" stroke-width="1.0" />
<line x1="68.50" y1="395.50" x2="68.50" y2="397.50" stroke="#000" stroke-width="1.0" />
<line x1="65.50" y1="395.50" x2="71.10" y2="395.50" stroke="#000" stroke-width="1.0" />
<line x1="65.50" y1="397.50" x2="71.10" y2="397.50" stroke="#000" stroke-width="1.0" />
<line x1="79.30" y1="425.50" x2="89.90" y2="425.50" stroke="#000" stroke-width="1.0" />
<line x1="95.60" y1="396.50" x2="106.20" y2="396.50" stroke="#000" stroke-width="1.0" />
<line x1="112.10" y1="406.50" x2="122.70" y2="406.50" stroke="#000" stroke-width="1.0" />
<line x1="117.50" y1="402.50" x2="117.50" y2="411.50" stroke="#000" stroke-width="1.0" />
<line x1="114.60" y1="402.50" x2="120.20" y2="402.50" stroke="#000" stroke-width="1.0" />
<line x1="114.60" y1="411.50" x2="120.20" y2="411.50" stroke="#000" stroke-width="1.0" />
<line x1="186.20" y1="405.23" x2="187.60" y2="405.23" stroke="#222" stroke-width="0.6" />
<line x1="186.20" y1="401.80" x2="187.60" y2="401.80" stroke="#222" stroke-width="0.6" />
<line x1="186.20" y1="399.36" x2="187.60" y2="399.36" stroke="#222" stroke-width="0.6" />
<line x1="186.20" y1="397.47" x2="187.60" y2="397.47" stroke="#222" stroke-width="0.6" />
<line x1="186.20" y1="395.93" x2="187.60" y2="395.93" stroke="#222" stroke-width="0.6" />
<line x1="186.20" y1="394.62" x2="187.60" y2="394.62" stroke="#222" stroke-width="0.6" />
<line x1="186.20" y1="393.49" x2="187.60" y2="393.49" stroke="#222" stroke-width="0.6" />
<line x1="186.20" y1="392.49" x2="187.60" y2="392.49" stroke="#222" stroke-width="0.6" />
<line x1="186.20" y1="424.73" x2="187.60" y2="424.73" stroke="#222" stroke-width="0.6" />
<line x1="186.20" y1="421.30" x2="187.60" y2="421.30" stroke="#222" stroke-width="0.6" />
<line x1="186.20" y1="418.86" x2="187.60" y2="418.86" stroke="#222" stroke-width="0.6" />
<line x1="186.20" y1="416.97" x2="187.60" y2="416.97" stroke="#222" stroke-width="0.6" />
<line x1="186.20" y1="415.43" x2="187.60" y2="415.43" stroke="#222" stroke-width="0.6" />
<line x1="186.20" y1="414.12" x2="187.60" y2="414.12" stroke="#222" stroke-width="0.6" />
<line x1="186.20" y1="412.99" x2="187.60" y2="412.99" stroke="#222" stroke-width="0.6" />
<line x1="186.20" y1="411.99" x2="187.60" y2="411.99" stroke="#222" stroke-width="0.6" />
<line x1="186.20" y1="444.23" x2="187.60" y2="444.23" stroke="#222" stroke-width="0.6" />
<line x1="186.20" y1="440.80" x2="187.60" y2="440.80" stroke="#222" stroke-width="0.6" />
<line x1="186.20" y1="438.36" x2="187.60" y2="438.36" stroke="#222" stroke-width="0.6" />
<line x1="186.20" y1="436.47" x2="187.60" y2="436.47" stroke="#222" stroke-width="0.6" />
<line x1="186.20" y1="434.93" x2="187.60" y2="434.93" stroke="#222" stroke-width="0.6" />
<line x1="186.20" y1="433.62" x2="187.60" y2="433.62" stroke="#222" stroke-width="0.6" />
<line x1="186.20" y1="432.49" x2="187.60" y2="432.49" stroke="#222" stroke-width="0.6" />
<line x1="186.20" y1="431.49" x2="187.60" y2="431.49" stroke="#222" stroke-width="0.6" />
<line x1="185.00" y1="391.60" x2="187.60" y2="391.60" stroke="#111" stroke-width="1.0" />
<text transform="translate(182.00,395.10)" font-size="7.1" text-anchor="end" fill="#111" stroke="#111" stroke-width="0.18"><tspan>10</tspan><tspan font-size="4.9" dx="1.1" dy="-3.0">3</tspan></text>
<line x1="185.00" y1="411.10" x2="187.60" y2="411.10" stroke="#111" stroke-width="1.0" />
<text transform="translate(182.00,414.60)" font-size="7.1" text-anchor="end" fill="#111" stroke="#111" stroke-width="0.18"><tspan>10</tspan><tspan font-size="4.9" dx="1.1" dy="-3.0">2</tspan></text>
<line x1="185.00" y1="430.60" x2="187.60" y2="430.60" stroke="#111" stroke-width="1.0" />
<text transform="translate(182.00,434.10)" font-size="7.1" text-anchor="end" fill="#111" stroke="#111" stroke-width="0.18"><tspan>10</tspan><tspan font-size="4.9" dx="1.1" dy="-3.0">1</tspan></text>
<line x1="185.00" y1="450.10" x2="187.60" y2="450.10" stroke="#111" stroke-width="1.0" />
<text transform="translate(182.00,453.60)" font-size="7.1" text-anchor="end" fill="#111" stroke="#111" stroke-width="0.18"><tspan>10</tspan><tspan font-size="4.9" dx="1.1" dy="-3.0">0</tspan></text>
<line x1="187.60" y1="389.10" x2="187.60" y2="450.70" stroke="#111" stroke-width="1.2" />
<line x1="187.00" y1="450.10" x2="252.50" y2="450.10" stroke="#111" stroke-width="1.3" />
<text transform="translate(142.40,418.65) rotate(-90)" font-size="6.6" text-anchor="middle" fill="#111" font-style="italic" stroke="#111" stroke-width="0.35">ICAM 1</text>
<text transform="translate(154.00,419.25) rotate(-90) scale(0.95,1)" font-size="7.0" text-anchor="middle" fill="#111" stroke="#111" stroke-width="0.12"><tspan font-size="8.4">2</tspan><tspan font-size="5.6" dx="0.4" dy="-3.2">-ΔΔCt</tspan><tspan dy="3.2"> normalized to</tspan></text>
<text transform="translate(163.30,418.65) rotate(-90) scale(0.9,1)" font-size="7.1" text-anchor="middle" fill="#111" stroke="#111" stroke-width="0.12">basal expression</text>
<line x1="192.50" y1="400.50" x2="245.00" y2="400.50" stroke="#555555" stroke-width="1.25" />
<text transform="translate(218.00,401.70)" font-size="7.0" text-anchor="middle" fill="#1a1a1a" font-weight="bold" >**</text>
<line x1="209.50" y1="405.50" x2="245.00" y2="405.50" stroke="#555555" stroke-width="1.25" />
<text transform="translate(227.00,407.20)" font-size="7.0" text-anchor="middle" fill="#1a1a1a" font-weight="bold" >*</text>
<line x1="209.50" y1="411.50" x2="227.00" y2="411.50" stroke="#555555" stroke-width="1.25" />
<text transform="translate(217.00,412.70)" font-size="7.0" text-anchor="middle" fill="#1a1a1a" font-weight="bold" >**</text>
<line x1="230.00" y1="411.50" x2="245.00" y2="411.50" stroke="#555555" stroke-width="1.25" />
<text transform="translate(237.00,412.70)" font-size="7.0" text-anchor="middle" fill="#1a1a1a" font-weight="bold" >*</text>
<polygon points="192.50,408.75 194.25,410.50 192.50,412.25 190.75,410.50" fill="#5a2586" />
<polygon points="198.75,408.25 200.50,410.00 198.75,411.75 197.00,410.00" fill="#5a2586" />
<polygon points="195.50,414.50 197.25,416.25 195.50,418.00 193.75,416.25" fill="#5a2586" />
<polygon points="195.50,422.75 197.25,424.50 195.50,426.25 193.75,424.50" fill="#5a2586" />
<polygon points="210.50,433.94 212.00,436.54 209.00,436.54" fill="#5cb82e" />
<polygon points="212.50,437.19 214.00,439.79 211.00,439.79" fill="#5cb82e" />
<polygon points="208.75,442.19 210.25,444.79 207.25,444.79" fill="#5cb82e" />
<polygon points="215.00,443.44 216.50,446.04 213.50,446.04" fill="#5cb82e" />
<polygon points="210.50,447.94 212.00,450.54 209.00,450.54" fill="#5cb82e" />
<polygon points="213.75,447.94 215.25,450.54 212.25,450.54" fill="#5cb82e" />
<polygon points="225.00,414.69 226.50,417.29 223.50,417.29" fill="#c8102e" />
<polygon points="230.50,413.94 232.00,416.54 229.00,416.54" fill="#c8102e" />
<polygon points="227.50,417.94 229.00,420.54 226.00,420.54" fill="#c8102e" />
<polygon points="232.50,419.69 234.00,422.29 231.00,422.29" fill="#c8102e" />
<polygon points="225.00,423.44 226.50,426.04 223.50,426.04" fill="#c8102e" />
<polygon points="228.75,427.19 230.25,429.79 227.25,429.79" fill="#c8102e" />
<polygon points="242.00,426.56 243.50,423.96 240.50,423.96" fill="#1f4d9a" />
<polygon points="247.50,426.56 249.00,423.96 246.00,423.96" fill="#1f4d9a" />
<polygon points="243.75,431.06 245.25,428.46 242.25,428.46" fill="#1f4d9a" />
<polygon points="246.25,436.56 247.75,433.96 244.75,433.96" fill="#1f4d9a" />
<polygon points="244.50,443.56 246.00,440.96 243.00,440.96" fill="#1f4d9a" />
<line x1="190.20" y1="413.50" x2="200.80" y2="413.50" stroke="#000" stroke-width="1.0" />
<line x1="195.50" y1="410.50" x2="195.50" y2="415.50" stroke="#000" stroke-width="1.0" />
<line x1="192.70" y1="410.50" x2="198.30" y2="410.50" stroke="#000" stroke-width="1.0" />
<line x1="192.70" y1="415.50" x2="198.30" y2="415.50" stroke="#000" stroke-width="1.0" />
<line x1="207.20" y1="441.50" x2="217.80" y2="441.50" stroke="#000" stroke-width="1.0" />
<line x1="212.50" y1="439.50" x2="212.50" y2="443.50" stroke="#000" stroke-width="1.0" />
<line x1="209.70" y1="439.50" x2="215.30" y2="439.50" stroke="#000" stroke-width="1.0" />
<line x1="209.70" y1="443.50" x2="215.30" y2="443.50" stroke="#000" stroke-width="1.0" />
<line x1="223.50" y1="420.50" x2="234.10" y2="420.50" stroke="#000" stroke-width="1.0" />
<line x1="228.50" y1="418.50" x2="228.50" y2="422.50" stroke="#000" stroke-width="1.0" />
<line x1="226.00" y1="418.50" x2="231.60" y2="418.50" stroke="#000" stroke-width="1.0" />
<line x1="226.00" y1="422.50" x2="231.60" y2="422.50" stroke="#000" stroke-width="1.0" />
<line x1="240.20" y1="428.50" x2="250.80" y2="428.50" stroke="#000" stroke-width="1.0" />
<line x1="245.50" y1="426.50" x2="245.50" y2="431.50" stroke="#000" stroke-width="1.0" />
<line x1="242.70" y1="426.50" x2="248.30" y2="426.50" stroke="#000" stroke-width="1.0" />
<line x1="242.70" y1="431.50" x2="248.30" y2="431.50" stroke="#000" stroke-width="1.0" />
<line x1="314.00" y1="405.23" x2="315.40" y2="405.23" stroke="#222" stroke-width="0.6" />
<line x1="314.00" y1="401.80" x2="315.40" y2="401.80" stroke="#222" stroke-width="0.6" />
<line x1="314.00" y1="399.36" x2="315.40" y2="399.36" stroke="#222" stroke-width="0.6" />
<line x1="314.00" y1="397.47" x2="315.40" y2="397.47" stroke="#222" stroke-width="0.6" />
<line x1="314.00" y1="395.93" x2="315.40" y2="395.93" stroke="#222" stroke-width="0.6" />
<line x1="314.00" y1="394.62" x2="315.40" y2="394.62" stroke="#222" stroke-width="0.6" />
<line x1="314.00" y1="393.49" x2="315.40" y2="393.49" stroke="#222" stroke-width="0.6" />
<line x1="314.00" y1="392.49" x2="315.40" y2="392.49" stroke="#222" stroke-width="0.6" />
<line x1="314.00" y1="424.73" x2="315.40" y2="424.73" stroke="#222" stroke-width="0.6" />
<line x1="314.00" y1="421.30" x2="315.40" y2="421.30" stroke="#222" stroke-width="0.6" />
<line x1="314.00" y1="418.86" x2="315.40" y2="418.86" stroke="#222" stroke-width="0.6" />
<line x1="314.00" y1="416.97" x2="315.40" y2="416.97" stroke="#222" stroke-width="0.6" />
<line x1="314.00" y1="415.43" x2="315.40" y2="415.43" stroke="#222" stroke-width="0.6" />
<line x1="314.00" y1="414.12" x2="315.40" y2="414.12" stroke="#222" stroke-width="0.6" />
<line x1="314.00" y1="412.99" x2="315.40" y2="412.99" stroke="#222" stroke-width="0.6" />
<line x1="314.00" y1="411.99" x2="315.40" y2="411.99" stroke="#222" stroke-width="0.6" />
<line x1="314.00" y1="444.23" x2="315.40" y2="444.23" stroke="#222" stroke-width="0.6" />
<line x1="314.00" y1="440.80" x2="315.40" y2="440.80" stroke="#222" stroke-width="0.6" />
<line x1="314.00" y1="438.36" x2="315.40" y2="438.36" stroke="#222" stroke-width="0.6" />
<line x1="314.00" y1="436.47" x2="315.40" y2="436.47" stroke="#222" stroke-width="0.6" />
<line x1="314.00" y1="434.93" x2="315.40" y2="434.93" stroke="#222" stroke-width="0.6" />
<line x1="314.00" y1="433.62" x2="315.40" y2="433.62" stroke="#222" stroke-width="0.6" />
<line x1="314.00" y1="432.49" x2="315.40" y2="432.49" stroke="#222" stroke-width="0.6" />
<line x1="314.00" y1="431.49" x2="315.40" y2="431.49" stroke="#222" stroke-width="0.6" />
<line x1="312.80" y1="391.60" x2="315.40" y2="391.60" stroke="#111" stroke-width="1.0" />
<text transform="translate(309.80,395.10)" font-size="7.1" text-anchor="end" fill="#111" stroke="#111" stroke-width="0.18"><tspan>10</tspan><tspan font-size="4.9" dx="1.1" dy="-3.0">2</tspan></text>
<line x1="312.80" y1="411.10" x2="315.40" y2="411.10" stroke="#111" stroke-width="1.0" />
<text transform="translate(309.80,414.60)" font-size="7.1" text-anchor="end" fill="#111" stroke="#111" stroke-width="0.18"><tspan>10</tspan><tspan font-size="4.9" dx="1.1" dy="-3.0">1</tspan></text>
<line x1="312.80" y1="430.60" x2="315.40" y2="430.60" stroke="#111" stroke-width="1.0" />
<text transform="translate(309.80,434.10)" font-size="7.1" text-anchor="end" fill="#111" stroke="#111" stroke-width="0.18"><tspan>10</tspan><tspan font-size="4.9" dx="1.1" dy="-3.0">0</tspan></text>
<line x1="312.80" y1="450.10" x2="315.40" y2="450.10" stroke="#111" stroke-width="1.0" />
<text transform="translate(309.80,453.60)" font-size="7.1" text-anchor="end" fill="#111" stroke="#111" stroke-width="0.18"><tspan>10</tspan><tspan font-size="4.9" dx="1.1" dy="-3.0">-1</tspan></text>
<line x1="315.40" y1="389.10" x2="315.40" y2="450.70" stroke="#111" stroke-width="1.2" />
<line x1="314.80" y1="450.10" x2="377.50" y2="450.10" stroke="#111" stroke-width="1.3" />
<line x1="316.90" y1="430.60" x2="377.50" y2="430.60" stroke="#222" stroke-width="0.9" stroke-dasharray="1.1,1.4"/>
<text transform="translate(270.20,418.65) rotate(-90) scale(0.95,1)" font-size="6.6" text-anchor="middle" fill="#111" font-style="italic" stroke="#111" stroke-width="0.35">CCL2</text>
<text transform="translate(281.80,419.25) rotate(-90) scale(0.95,1)" font-size="7.0" text-anchor="middle" fill="#111" stroke="#111" stroke-width="0.12"><tspan font-size="8.4">2</tspan><tspan font-size="5.6" dx="0.4" dy="-3.2">-ΔΔCt</tspan><tspan dy="3.2"> normalized to</tspan></text>
<text transform="translate(291.10,418.65) rotate(-90) scale(0.9,1)" font-size="7.1" text-anchor="middle" fill="#111" stroke="#111" stroke-width="0.12">basal expression</text>
<polygon points="323.80,398.55 325.55,400.30 323.80,402.05 322.05,400.30" fill="#5a2586" />
<polygon points="323.80,406.05 325.55,407.80 323.80,409.55 322.05,407.80" fill="#5a2586" />
<polygon points="339.50,423.44 341.00,426.04 338.00,426.04" fill="#5cb82e" />
<polygon points="339.50,428.94 341.00,431.54 338.00,431.54" fill="#5cb82e" />
<polygon points="352.00,397.94 353.50,400.54 350.50,400.54" fill="#c8102e" />
<polygon points="358.00,398.44 359.50,401.04 356.50,401.04" fill="#c8102e" />
<polygon points="355.50,401.14 357.00,403.74 354.00,403.74" fill="#c8102e" />
<polygon points="352.00,407.24 353.50,409.84 350.50,409.84" fill="#c8102e" />
<polygon points="357.60,407.24 359.10,409.84 356.10,409.84" fill="#c8102e" />
<polygon points="355.00,412.44 356.50,415.04 353.50,415.04" fill="#c8102e" />
<polygon points="368.00,404.26 369.50,401.66 366.50,401.66" fill="#1f4d9a" />
<polygon points="372.80,406.26 374.30,403.66 371.30,403.66" fill="#1f4d9a" />
<polygon points="369.00,414.26 370.50,411.66 367.50,411.66" fill="#1f4d9a" />
<polygon points="372.80,418.66 374.30,416.06 371.30,416.06" fill="#1f4d9a" />
<polygon points="370.50,423.76 372.00,421.16 369.00,421.16" fill="#1f4d9a" />
<line x1="318.50" y1="403.50" x2="329.10" y2="403.50" stroke="#000" stroke-width="1.0" />
<line x1="323.50" y1="400.50" x2="323.50" y2="407.50" stroke="#000" stroke-width="1.0" />
<line x1="321.00" y1="400.50" x2="326.60" y2="400.50" stroke="#000" stroke-width="1.0" />
<line x1="321.00" y1="407.50" x2="326.60" y2="407.50" stroke="#000" stroke-width="1.0" />
<line x1="334.20" y1="427.50" x2="344.80" y2="427.50" stroke="#000" stroke-width="1.0" />
<line x1="339.50" y1="425.50" x2="339.50" y2="429.50" stroke="#000" stroke-width="1.0" />
<line x1="336.70" y1="425.50" x2="342.30" y2="425.50" stroke="#000" stroke-width="1.0" />
<line x1="336.70" y1="429.50" x2="342.30" y2="429.50" stroke="#000" stroke-width="1.0" />
<line x1="349.70" y1="404.50" x2="360.30" y2="404.50" stroke="#000" stroke-width="1.0" />
<line x1="355.50" y1="402.50" x2="355.50" y2="406.50" stroke="#000" stroke-width="1.0" />
<line x1="352.20" y1="402.50" x2="357.80" y2="402.50" stroke="#000" stroke-width="1.0" />
<line x1="352.20" y1="406.50" x2="357.80" y2="406.50" stroke="#000" stroke-width="1.0" />
<line x1="365.20" y1="410.50" x2="375.80" y2="410.50" stroke="#000" stroke-width="1.0" />
<line x1="370.50" y1="407.50" x2="370.50" y2="412.50" stroke="#000" stroke-width="1.0" />
<line x1="367.70" y1="407.50" x2="373.30" y2="407.50" stroke="#000" stroke-width="1.0" />
<line x1="367.70" y1="412.50" x2="373.30" y2="412.50" stroke="#000" stroke-width="1.0" />
<line x1="444.80" y1="405.23" x2="446.20" y2="405.23" stroke="#222" stroke-width="0.6" />
<line x1="444.80" y1="401.80" x2="446.20" y2="401.80" stroke="#222" stroke-width="0.6" />
<line x1="444.80" y1="399.36" x2="446.20" y2="399.36" stroke="#222" stroke-width="0.6" />
<line x1="444.80" y1="397.47" x2="446.20" y2="397.47" stroke="#222" stroke-width="0.6" />
<line x1="444.80" y1="395.93" x2="446.20" y2="395.93" stroke="#222" stroke-width="0.6" />
<line x1="444.80" y1="394.62" x2="446.20" y2="394.62" stroke="#222" stroke-width="0.6" />
<line x1="444.80" y1="393.49" x2="446.20" y2="393.49" stroke="#222" stroke-width="0.6" />
<line x1="444.80" y1="392.49" x2="446.20" y2="392.49" stroke="#222" stroke-width="0.6" />
<line x1="444.80" y1="424.73" x2="446.20" y2="424.73" stroke="#222" stroke-width="0.6" />
<line x1="444.80" y1="421.30" x2="446.20" y2="421.30" stroke="#222" stroke-width="0.6" />
<line x1="444.80" y1="418.86" x2="446.20" y2="418.86" stroke="#222" stroke-width="0.6" />
<line x1="444.80" y1="416.97" x2="446.20" y2="416.97" stroke="#222" stroke-width="0.6" />
<line x1="444.80" y1="415.43" x2="446.20" y2="415.43" stroke="#222" stroke-width="0.6" />
<line x1="444.80" y1="414.12" x2="446.20" y2="414.12" stroke="#222" stroke-width="0.6" />
<line x1="444.80" y1="412.99" x2="446.20" y2="412.99" stroke="#222" stroke-width="0.6" />
<line x1="444.80" y1="411.99" x2="446.20" y2="411.99" stroke="#222" stroke-width="0.6" />
<line x1="444.80" y1="444.23" x2="446.20" y2="444.23" stroke="#222" stroke-width="0.6" />
<line x1="444.80" y1="440.80" x2="446.20" y2="440.80" stroke="#222" stroke-width="0.6" />
<line x1="444.80" y1="438.36" x2="446.20" y2="438.36" stroke="#222" stroke-width="0.6" />
<line x1="444.80" y1="436.47" x2="446.20" y2="436.47" stroke="#222" stroke-width="0.6" />
<line x1="444.80" y1="434.93" x2="446.20" y2="434.93" stroke="#222" stroke-width="0.6" />
<line x1="444.80" y1="433.62" x2="446.20" y2="433.62" stroke="#222" stroke-width="0.6" />
<line x1="444.80" y1="432.49" x2="446.20" y2="432.49" stroke="#222" stroke-width="0.6" />
<line x1="444.80" y1="431.49" x2="446.20" y2="431.49" stroke="#222" stroke-width="0.6" />
<line x1="443.60" y1="391.60" x2="446.20" y2="391.60" stroke="#111" stroke-width="1.0" />
<text transform="translate(440.60,395.10)" font-size="7.1" text-anchor="end" fill="#111" stroke="#111" stroke-width="0.18"><tspan>10</tspan><tspan font-size="4.9" dx="1.1" dy="-3.0">3</tspan></text>
<line x1="443.60" y1="411.10" x2="446.20" y2="411.10" stroke="#111" stroke-width="1.0" />
<text transform="translate(440.60,414.60)" font-size="7.1" text-anchor="end" fill="#111" stroke="#111" stroke-width="0.18"><tspan>10</tspan><tspan font-size="4.9" dx="1.1" dy="-3.0">2</tspan></text>
<line x1="443.60" y1="430.60" x2="446.20" y2="430.60" stroke="#111" stroke-width="1.0" />
<text transform="translate(440.60,434.10)" font-size="7.1" text-anchor="end" fill="#111" stroke="#111" stroke-width="0.18"><tspan>10</tspan><tspan font-size="4.9" dx="1.1" dy="-3.0">1</tspan></text>
<line x1="443.60" y1="450.10" x2="446.20" y2="450.10" stroke="#111" stroke-width="1.0" />
<text transform="translate(440.60,453.60)" font-size="7.1" text-anchor="end" fill="#111" stroke="#111" stroke-width="0.18"><tspan>10</tspan><tspan font-size="4.9" dx="1.1" dy="-3.0">0</tspan></text>
<line x1="446.20" y1="389.10" x2="446.20" y2="450.70" stroke="#111" stroke-width="1.2" />
<line x1="445.60" y1="450.10" x2="512.50" y2="450.10" stroke="#111" stroke-width="1.3" />
<text transform="translate(401.00,418.65) rotate(-90) scale(0.91,1)" font-size="6.6" text-anchor="middle" fill="#111" font-style="italic" stroke="#111" stroke-width="0.35">CX3CL1</text>
<text transform="translate(412.60,419.25) rotate(-90) scale(0.95,1)" font-size="7.0" text-anchor="middle" fill="#111" stroke="#111" stroke-width="0.12"><tspan font-size="8.4">2</tspan><tspan font-size="5.6" dx="0.4" dy="-3.2">-ΔΔCt</tspan><tspan dy="3.2"> normalized to</tspan></text>
<text transform="translate(421.90,418.65) rotate(-90) scale(0.9,1)" font-size="7.1" text-anchor="middle" fill="#111" stroke="#111" stroke-width="0.12">basal expression</text>
<line x1="452.50" y1="395.50" x2="506.30" y2="395.50" stroke="#555555" stroke-width="1.25" />
<text transform="translate(462.50,396.70)" font-size="7.0" text-anchor="middle" fill="#1a1a1a" font-weight="bold" >*</text>
<line x1="472.50" y1="393.50" x2="485.00" y2="393.50" stroke="#555555" stroke-width="1.25" />
<text transform="translate(478.00,394.70)" font-size="7.0" text-anchor="middle" fill="#1a1a1a" font-weight="bold" >**</text>
<line x1="490.00" y1="393.50" x2="506.30" y2="393.50" stroke="#555555" stroke-width="1.25" />
<text transform="translate(498.00,394.70)" font-size="7.0" text-anchor="middle" fill="#1a1a1a" font-weight="bold" >**</text>
<polygon points="455.50,398.25 457.25,400.00 455.50,401.75 453.75,400.00" fill="#5a2586" />
<polygon points="452.50,407.00 454.25,408.75 452.50,410.50 450.75,408.75" fill="#5a2586" />
<polygon points="457.50,408.25 459.25,410.00 457.50,411.75 455.75,410.00" fill="#5a2586" />
<polygon points="455.50,415.75 457.25,417.50 455.50,419.25 453.75,417.50" fill="#5a2586" />
<polygon points="472.00,414.69 473.50,417.29 470.50,417.29" fill="#5cb82e" />
<polygon points="469.50,422.19 471.00,424.79 468.00,424.79" fill="#5cb82e" />
<polygon points="473.75,424.69 475.25,427.29 472.25,427.29" fill="#5cb82e" />
<polygon points="471.25,432.19 472.75,434.79 469.75,434.79" fill="#5cb82e" />
<polygon points="469.50,426.24 471.00,428.84 468.00,428.84" fill="#5cb82e" />
<polygon points="475.20,426.24 476.70,428.84 473.70,428.84" fill="#5cb82e" />
<polygon points="472.00,419.94 473.50,422.54 470.50,422.54" fill="#5cb82e" />
<polygon points="485.50,399.69 487.00,402.29 484.00,402.29" fill="#c8102e" />
<polygon points="490.50,400.44 492.00,403.04 489.00,403.04" fill="#c8102e" />
<polygon points="487.50,402.94 489.00,405.54 486.00,405.54" fill="#c8102e" />
<polygon points="492.00,403.44 493.50,406.04 490.50,406.04" fill="#c8102e" />
<polygon points="485.50,410.44 487.00,413.04 484.00,413.04" fill="#c8102e" />
<polygon points="490.50,410.44 492.00,413.04 489.00,413.04" fill="#c8102e" />
<polygon points="502.50,417.06 504.00,414.46 501.00,414.46" fill="#1f4d9a" />
<polygon points="506.25,417.06 507.75,414.46 504.75,414.46" fill="#1f4d9a" />
<polygon points="503.75,421.06 505.25,418.46 502.25,418.46" fill="#1f4d9a" />
<polygon points="506.25,422.06 507.75,419.46 504.75,419.46" fill="#1f4d9a" />
<polygon points="502.50,437.81 504.00,435.21 501.00,435.21" fill="#1f4d9a" />
<polygon points="507.00,437.81 508.50,435.21 505.50,435.21" fill="#1f4d9a" />
<line x1="450.20" y1="407.50" x2="460.80" y2="407.50" stroke="#000" stroke-width="1.0" />
<line x1="455.50" y1="404.50" x2="455.50" y2="410.50" stroke="#000" stroke-width="1.0" />
<line x1="452.70" y1="404.50" x2="458.30" y2="404.50" stroke="#000" stroke-width="1.0" />
<line x1="452.70" y1="410.50" x2="458.30" y2="410.50" stroke="#000" stroke-width="1.0" />
<line x1="466.00" y1="424.50" x2="476.60" y2="424.50" stroke="#000" stroke-width="1.0" />
<line x1="471.50" y1="422.50" x2="471.50" y2="427.50" stroke="#000" stroke-width="1.0" />
<line x1="468.50" y1="422.50" x2="474.10" y2="422.50" stroke="#000" stroke-width="1.0" />
<line x1="468.50" y1="427.50" x2="474.10" y2="427.50" stroke="#000" stroke-width="1.0" />
<line x1="482.70" y1="405.50" x2="493.30" y2="405.50" stroke="#000" stroke-width="1.0" />
<line x1="488.50" y1="403.50" x2="488.50" y2="406.50" stroke="#000" stroke-width="1.0" />
<line x1="485.20" y1="403.50" x2="490.80" y2="403.50" stroke="#000" stroke-width="1.0" />
<line x1="485.20" y1="406.50" x2="490.80" y2="406.50" stroke="#000" stroke-width="1.0" />
<line x1="499.20" y1="420.50" x2="509.80" y2="420.50" stroke="#000" stroke-width="1.0" />
<line x1="504.50" y1="418.50" x2="504.50" y2="423.50" stroke="#000" stroke-width="1.0" />
<line x1="501.70" y1="418.50" x2="507.30" y2="418.50" stroke="#000" stroke-width="1.0" />
<line x1="501.70" y1="423.50" x2="507.30" y2="423.50" stroke="#000" stroke-width="1.0" />
<line x1="58.20" y1="485.52" x2="59.60" y2="485.52" stroke="#222" stroke-width="0.6" />
<line x1="58.20" y1="482.06" x2="59.60" y2="482.06" stroke="#222" stroke-width="0.6" />
<line x1="58.20" y1="479.61" x2="59.60" y2="479.61" stroke="#222" stroke-width="0.6" />
<line x1="58.20" y1="477.71" x2="59.60" y2="477.71" stroke="#222" stroke-width="0.6" />
<line x1="58.20" y1="476.15" x2="59.60" y2="476.15" stroke="#222" stroke-width="0.6" />
<line x1="58.20" y1="474.84" x2="59.60" y2="474.84" stroke="#222" stroke-width="0.6" />
<line x1="58.20" y1="473.70" x2="59.60" y2="473.70" stroke="#222" stroke-width="0.6" />
<line x1="58.20" y1="472.70" x2="59.60" y2="472.70" stroke="#222" stroke-width="0.6" />
<line x1="58.20" y1="505.15" x2="59.60" y2="505.15" stroke="#222" stroke-width="0.6" />
<line x1="58.20" y1="501.69" x2="59.60" y2="501.69" stroke="#222" stroke-width="0.6" />
<line x1="58.20" y1="499.24" x2="59.60" y2="499.24" stroke="#222" stroke-width="0.6" />
<line x1="58.20" y1="497.34" x2="59.60" y2="497.34" stroke="#222" stroke-width="0.6" />
<line x1="58.20" y1="495.78" x2="59.60" y2="495.78" stroke="#222" stroke-width="0.6" />
<line x1="58.20" y1="494.47" x2="59.60" y2="494.47" stroke="#222" stroke-width="0.6" />
<line x1="58.20" y1="493.33" x2="59.60" y2="493.33" stroke="#222" stroke-width="0.6" />
<line x1="58.20" y1="492.33" x2="59.60" y2="492.33" stroke="#222" stroke-width="0.6" />
<line x1="58.20" y1="524.78" x2="59.60" y2="524.78" stroke="#222" stroke-width="0.6" />
<line x1="58.20" y1="521.32" x2="59.60" y2="521.32" stroke="#222" stroke-width="0.6" />
<line x1="58.20" y1="518.87" x2="59.60" y2="518.87" stroke="#222" stroke-width="0.6" />
<line x1="58.20" y1="516.97" x2="59.60" y2="516.97" stroke="#222" stroke-width="0.6" />
<line x1="58.20" y1="515.41" x2="59.60" y2="515.41" stroke="#222" stroke-width="0.6" />
<line x1="58.20" y1="514.10" x2="59.60" y2="514.10" stroke="#222" stroke-width="0.6" />
<line x1="58.20" y1="512.96" x2="59.60" y2="512.96" stroke="#222" stroke-width="0.6" />
<line x1="58.20" y1="511.96" x2="59.60" y2="511.96" stroke="#222" stroke-width="0.6" />
<line x1="57.00" y1="471.80" x2="59.60" y2="471.80" stroke="#111" stroke-width="1.0" />
<text transform="translate(54.00,475.30)" font-size="7.1" text-anchor="end" fill="#111" stroke="#111" stroke-width="0.18"><tspan>10</tspan><tspan font-size="4.9" dx="1.1" dy="-3.0">2</tspan></text>
<line x1="57.00" y1="491.43" x2="59.60" y2="491.43" stroke="#111" stroke-width="1.0" />
<text transform="translate(54.00,494.93)" font-size="7.1" text-anchor="end" fill="#111" stroke="#111" stroke-width="0.18"><tspan>10</tspan><tspan font-size="4.9" dx="1.1" dy="-3.0">1</tspan></text>
<line x1="57.00" y1="511.06" x2="59.60" y2="511.06" stroke="#111" stroke-width="1.0" />
<text transform="translate(54.00,514.56)" font-size="7.1" text-anchor="end" fill="#111" stroke="#111" stroke-width="0.18"><tspan>10</tspan><tspan font-size="4.9" dx="1.1" dy="-3.0">0</tspan></text>
<line x1="57.00" y1="530.69" x2="59.60" y2="530.69" stroke="#111" stroke-width="1.0" />
<text transform="translate(54.00,534.19)" font-size="7.1" text-anchor="end" fill="#111" stroke="#111" stroke-width="0.18"><tspan>10</tspan><tspan font-size="4.9" dx="1.1" dy="-3.0">-1</tspan></text>
<line x1="59.60" y1="469.30" x2="59.60" y2="531.29" stroke="#111" stroke-width="1.2" />
<line x1="59.00" y1="530.69" x2="122.50" y2="530.69" stroke="#111" stroke-width="1.3" />
<line x1="61.10" y1="511.06" x2="122.50" y2="511.06" stroke="#222" stroke-width="0.9" stroke-dasharray="1.1,1.4"/>
<text transform="translate(14.40,499.05) rotate(-90) scale(1.2,1)" font-size="6.6" text-anchor="middle" fill="#111" font-style="italic" stroke="#111" stroke-width="0.35">IL-6</text>
<text transform="translate(26.00,499.65) rotate(-90) scale(0.95,1)" font-size="7.0" text-anchor="middle" fill="#111" stroke="#111" stroke-width="0.12"><tspan font-size="8.4">2</tspan><tspan font-size="5.6" dx="0.4" dy="-3.2">-ΔΔCt</tspan><tspan dy="3.2"> normalized to</tspan></text>
<text transform="translate(35.30,499.05) rotate(-90) scale(0.9,1)" font-size="7.1" text-anchor="middle" fill="#111" stroke="#111" stroke-width="0.12">basal expression</text>
<line x1="67.50" y1="486.50" x2="98.80" y2="486.50" stroke="#555555" stroke-width="1.25" />
<text transform="translate(74.50,488.10)" font-size="7.0" text-anchor="middle" fill="#1a1a1a" font-weight="bold" >**</text>
<line x1="81.30" y1="485.50" x2="98.80" y2="485.50" stroke="#555555" stroke-width="1.25" />
<text transform="translate(90.30,487.30)" font-size="7.0" text-anchor="middle" fill="#1a1a1a" font-weight="bold" >**</text>
<polygon points="64.40,505.25 66.15,507.00 64.40,508.75 62.65,507.00" fill="#5a2586" />
<polygon points="70.90,504.85 72.65,506.60 70.90,508.35 69.15,506.60" fill="#5a2586" />
<polygon points="67.80,507.25 69.55,509.00 67.80,510.75 66.05,509.00" fill="#5a2586" />
<polygon points="67.80,514.05 69.55,515.80 67.80,517.55 66.05,515.80" fill="#5a2586" />
<polygon points="66.00,507.75 67.75,509.50 66.00,511.25 64.25,509.50" fill="#5a2586" />
<polygon points="80.50,506.94 82.00,509.54 79.00,509.54" fill="#5cb82e" />
<polygon points="83.50,506.44 85.00,509.04 82.00,509.04" fill="#5cb82e" />
<polygon points="86.00,506.94 87.50,509.54 84.50,509.54" fill="#5cb82e" />
<polygon points="82.00,508.94 83.50,511.54 80.50,511.54" fill="#5cb82e" />
<polygon points="84.50,509.94 86.00,512.54 83.00,512.54" fill="#5cb82e" />
<polygon points="82.50,512.14 84.00,514.74 81.00,514.74" fill="#5cb82e" />
<polygon points="98.70,487.04 100.20,489.64 97.20,489.64" fill="#c8102e" />
<polygon points="101.80,491.34 103.30,493.94 100.30,493.94" fill="#c8102e" />
<polygon points="96.00,495.34 97.50,497.94 94.50,497.94" fill="#c8102e" />
<polygon points="101.40,499.14 102.90,501.74 99.90,501.74" fill="#c8102e" />
<polygon points="96.70,502.04 98.20,504.64 95.20,504.64" fill="#c8102e" />
<polygon points="99.40,493.34 100.90,495.94 97.90,495.94" fill="#c8102e" />
<polygon points="112.20,497.76 113.70,495.16 110.70,495.16" fill="#1f4d9a" />
<polygon points="117.20,498.46 118.70,495.86 115.70,495.86" fill="#1f4d9a" />
<polygon points="114.20,501.16 115.70,498.56 112.70,498.56" fill="#1f4d9a" />
<polygon points="112.20,511.96 113.70,509.36 110.70,509.36" fill="#1f4d9a" />
<polygon points="117.20,510.56 118.70,507.96 115.70,507.96" fill="#1f4d9a" />
<line x1="62.50" y1="509.50" x2="73.10" y2="509.50" stroke="#000" stroke-width="1.0" />
<line x1="67.50" y1="507.50" x2="67.50" y2="510.50" stroke="#000" stroke-width="1.0" />
<line x1="65.00" y1="507.50" x2="70.60" y2="507.50" stroke="#000" stroke-width="1.0" />
<line x1="65.00" y1="510.50" x2="70.60" y2="510.50" stroke="#000" stroke-width="1.0" />
<line x1="77.90" y1="509.50" x2="88.50" y2="509.50" stroke="#000" stroke-width="1.0" />
<line x1="94.00" y1="494.50" x2="104.60" y2="494.50" stroke="#000" stroke-width="1.0" />
<line x1="99.50" y1="492.50" x2="99.50" y2="497.50" stroke="#000" stroke-width="1.0" />
<line x1="96.50" y1="492.50" x2="102.10" y2="492.50" stroke="#000" stroke-width="1.0" />
<line x1="96.50" y1="497.50" x2="102.10" y2="497.50" stroke="#000" stroke-width="1.0" />
<line x1="109.40" y1="501.50" x2="120.00" y2="501.50" stroke="#000" stroke-width="1.0" />
<line x1="114.50" y1="499.50" x2="114.50" y2="503.50" stroke="#000" stroke-width="1.0" />
<line x1="111.90" y1="499.50" x2="117.50" y2="499.50" stroke="#000" stroke-width="1.0" />
<line x1="111.90" y1="503.50" x2="117.50" y2="503.50" stroke="#000" stroke-width="1.0" />
<line x1="185.90" y1="485.42" x2="187.30" y2="485.42" stroke="#222" stroke-width="0.6" />
<line x1="185.90" y1="481.94" x2="187.30" y2="481.94" stroke="#222" stroke-width="0.6" />
<line x1="185.90" y1="479.47" x2="187.30" y2="479.47" stroke="#222" stroke-width="0.6" />
<line x1="185.90" y1="477.55" x2="187.30" y2="477.55" stroke="#222" stroke-width="0.6" />
<line x1="185.90" y1="475.99" x2="187.30" y2="475.99" stroke="#222" stroke-width="0.6" />
<line x1="185.90" y1="474.66" x2="187.30" y2="474.66" stroke="#222" stroke-width="0.6" />
<line x1="185.90" y1="473.52" x2="187.30" y2="473.52" stroke="#222" stroke-width="0.6" />
<line x1="185.90" y1="472.50" x2="187.30" y2="472.50" stroke="#222" stroke-width="0.6" />
<line x1="185.90" y1="505.19" x2="187.30" y2="505.19" stroke="#222" stroke-width="0.6" />
<line x1="185.90" y1="501.71" x2="187.30" y2="501.71" stroke="#222" stroke-width="0.6" />
<line x1="185.90" y1="499.24" x2="187.30" y2="499.24" stroke="#222" stroke-width="0.6" />
<line x1="185.90" y1="497.32" x2="187.30" y2="497.32" stroke="#222" stroke-width="0.6" />
<line x1="185.90" y1="495.76" x2="187.30" y2="495.76" stroke="#222" stroke-width="0.6" />
<line x1="185.90" y1="494.43" x2="187.30" y2="494.43" stroke="#222" stroke-width="0.6" />
<line x1="185.90" y1="493.29" x2="187.30" y2="493.29" stroke="#222" stroke-width="0.6" />
<line x1="185.90" y1="492.27" x2="187.30" y2="492.27" stroke="#222" stroke-width="0.6" />
<line x1="185.90" y1="524.96" x2="187.30" y2="524.96" stroke="#222" stroke-width="0.6" />
<line x1="185.90" y1="521.48" x2="187.30" y2="521.48" stroke="#222" stroke-width="0.6" />
<line x1="185.90" y1="519.01" x2="187.30" y2="519.01" stroke="#222" stroke-width="0.6" />
<line x1="185.90" y1="517.09" x2="187.30" y2="517.09" stroke="#222" stroke-width="0.6" />
<line x1="185.90" y1="515.53" x2="187.30" y2="515.53" stroke="#222" stroke-width="0.6" />
<line x1="185.90" y1="514.20" x2="187.30" y2="514.20" stroke="#222" stroke-width="0.6" />
<line x1="185.90" y1="513.06" x2="187.30" y2="513.06" stroke="#222" stroke-width="0.6" />
<line x1="185.90" y1="512.04" x2="187.30" y2="512.04" stroke="#222" stroke-width="0.6" />
<line x1="184.70" y1="471.60" x2="187.30" y2="471.60" stroke="#111" stroke-width="1.0" />
<text transform="translate(181.70,475.10)" font-size="7.1" text-anchor="end" fill="#111" stroke="#111" stroke-width="0.18"><tspan>10</tspan><tspan font-size="4.9" dx="1.1" dy="-3.0">2</tspan></text>
<line x1="184.70" y1="491.37" x2="187.30" y2="491.37" stroke="#111" stroke-width="1.0" />
<text transform="translate(181.70,494.87)" font-size="7.1" text-anchor="end" fill="#111" stroke="#111" stroke-width="0.18"><tspan>10</tspan><tspan font-size="4.9" dx="1.1" dy="-3.0">1</tspan></text>
<line x1="184.70" y1="511.14" x2="187.30" y2="511.14" stroke="#111" stroke-width="1.0" />
<text transform="translate(181.70,514.64)" font-size="7.1" text-anchor="end" fill="#111" stroke="#111" stroke-width="0.18"><tspan>10</tspan><tspan font-size="4.9" dx="1.1" dy="-3.0">0</tspan></text>
<line x1="184.70" y1="530.91" x2="187.30" y2="530.91" stroke="#111" stroke-width="1.0" />
<text transform="translate(181.70,534.41)" font-size="7.1" text-anchor="end" fill="#111" stroke="#111" stroke-width="0.18"><tspan>10</tspan><tspan font-size="4.9" dx="1.1" dy="-3.0">-1</tspan></text>
<line x1="187.30" y1="469.10" x2="187.30" y2="531.51" stroke="#111" stroke-width="1.2" />
<line x1="186.70" y1="530.91" x2="252.50" y2="530.91" stroke="#111" stroke-width="1.3" />
<line x1="188.80" y1="511.14" x2="252.50" y2="511.14" stroke="#222" stroke-width="0.9" stroke-dasharray="1.1,1.4"/>
<text transform="translate(142.10,499.06) rotate(-90) scale(1.06,1)" font-size="6.6" text-anchor="middle" fill="#111" font-style="italic" stroke="#111" stroke-width="0.35">IL-8</text>
<text transform="translate(153.70,499.66) rotate(-90) scale(0.95,1)" font-size="7.0" text-anchor="middle" fill="#111" stroke="#111" stroke-width="0.12"><tspan font-size="8.4">2</tspan><tspan font-size="5.6" dx="0.4" dy="-3.2">-ΔΔCt</tspan><tspan dy="3.2"> normalized to</tspan></text>
<text transform="translate(163.00,499.06) rotate(-90) scale(0.9,1)" font-size="7.1" text-anchor="middle" fill="#111" stroke="#111" stroke-width="0.12">basal expression</text>
<line x1="208.80" y1="477.50" x2="226.30" y2="477.50" stroke="#555555" stroke-width="1.25" />
<text transform="translate(217.50,479.20)" font-size="7.0" text-anchor="middle" fill="#1a1a1a" font-weight="bold" >**</text>
<line x1="208.80" y1="480.50" x2="245.00" y2="480.50" stroke="#555555" stroke-width="1.25" />
<text transform="translate(235.00,481.70)" font-size="7.0" text-anchor="middle" fill="#1a1a1a" font-weight="bold" >**</text>
<line x1="191.30" y1="482.50" x2="226.30" y2="482.50" stroke="#555555" stroke-width="1.25" />
<text transform="translate(200.00,484.20)" font-size="7.0" text-anchor="middle" fill="#1a1a1a" font-weight="bold" >**</text>
<polygon points="193.00,483.85 194.75,485.60 193.00,487.35 191.25,485.60" fill="#5a2586" />
<polygon points="197.40,487.65 199.15,489.40 197.40,491.15 195.65,489.40" fill="#5a2586" />
<polygon points="198.00,490.75 199.75,492.50 198.00,494.25 196.25,492.50" fill="#5a2586" />
<polygon points="193.00,494.50 194.75,496.25 193.00,498.00 191.25,496.25" fill="#5a2586" />
<polygon points="209.25,511.19 210.75,513.79 207.75,513.79" fill="#5cb82e" />
<polygon points="213.60,514.69 215.10,517.29 212.10,517.29" fill="#5cb82e" />
<polygon points="209.50,518.44 211.00,521.04 208.00,521.04" fill="#5cb82e" />
<polygon points="211.00,513.19 212.50,515.79 209.50,515.79" fill="#5cb82e" />
<polygon points="212.40,512.84 213.90,515.44 210.90,515.44" fill="#5cb82e" />
<polygon points="224.90,487.19 226.40,489.79 223.40,489.79" fill="#c8102e" />
<polygon points="228.60,487.44 230.10,490.04 227.10,490.04" fill="#c8102e" />
<polygon points="231.75,486.94 233.25,489.54 230.25,489.54" fill="#c8102e" />
<polygon points="225.50,489.69 227.00,492.29 224.00,492.29" fill="#c8102e" />
<polygon points="231.10,490.94 232.60,493.54 229.60,493.54" fill="#c8102e" />
<polygon points="228.25,492.84 229.75,495.44 226.75,495.44" fill="#c8102e" />
<polygon points="242.00,491.31 243.50,488.71 240.50,488.71" fill="#1f4d9a" />
<polygon points="246.50,491.31 248.00,488.71 245.00,488.71" fill="#1f4d9a" />
<polygon points="244.90,494.06 246.40,491.46 243.40,491.46" fill="#1f4d9a" />
<polygon points="242.40,505.96 243.90,503.36 240.90,503.36" fill="#1f4d9a" />
<polygon points="246.75,505.96 248.25,503.36 245.25,503.36" fill="#1f4d9a" />
<line x1="190.40" y1="490.50" x2="201.00" y2="490.50" stroke="#000" stroke-width="1.0" />
<line x1="195.50" y1="488.50" x2="195.50" y2="492.50" stroke="#000" stroke-width="1.0" />
<line x1="192.90" y1="488.50" x2="198.50" y2="488.50" stroke="#000" stroke-width="1.0" />
<line x1="192.90" y1="492.50" x2="198.50" y2="492.50" stroke="#000" stroke-width="1.0" />
<line x1="206.60" y1="514.50" x2="217.20" y2="514.50" stroke="#000" stroke-width="1.0" />
<line x1="223.00" y1="490.50" x2="233.60" y2="490.50" stroke="#000" stroke-width="1.0" />
<line x1="239.30" y1="494.50" x2="249.90" y2="494.50" stroke="#000" stroke-width="1.0" />
<line x1="244.50" y1="492.50" x2="244.50" y2="496.50" stroke="#000" stroke-width="1.0" />
<line x1="241.80" y1="492.50" x2="247.40" y2="492.50" stroke="#000" stroke-width="1.0" />
<line x1="241.80" y1="496.50" x2="247.40" y2="496.50" stroke="#000" stroke-width="1.0" />
<line x1="314.00" y1="482.09" x2="315.40" y2="482.09" stroke="#222" stroke-width="0.6" />
<line x1="314.00" y1="479.50" x2="315.40" y2="479.50" stroke="#222" stroke-width="0.6" />
<line x1="314.00" y1="477.66" x2="315.40" y2="477.66" stroke="#222" stroke-width="0.6" />
<line x1="314.00" y1="476.23" x2="315.40" y2="476.23" stroke="#222" stroke-width="0.6" />
<line x1="314.00" y1="475.07" x2="315.40" y2="475.07" stroke="#222" stroke-width="0.6" />
<line x1="314.00" y1="474.08" x2="315.40" y2="474.08" stroke="#222" stroke-width="0.6" />
<line x1="314.00" y1="473.23" x2="315.40" y2="473.23" stroke="#222" stroke-width="0.6" />
<line x1="314.00" y1="472.47" x2="315.40" y2="472.47" stroke="#222" stroke-width="0.6" />
<line x1="314.00" y1="496.81" x2="315.40" y2="496.81" stroke="#222" stroke-width="0.6" />
<line x1="314.00" y1="494.22" x2="315.40" y2="494.22" stroke="#222" stroke-width="0.6" />
<line x1="314.00" y1="492.38" x2="315.40" y2="492.38" stroke="#222" stroke-width="0.6" />
<line x1="314.00" y1="490.95" x2="315.40" y2="490.95" stroke="#222" stroke-width="0.6" />
<line x1="314.00" y1="489.79" x2="315.40" y2="489.79" stroke="#222" stroke-width="0.6" />
<line x1="314.00" y1="488.80" x2="315.40" y2="488.80" stroke="#222" stroke-width="0.6" />
<line x1="314.00" y1="487.95" x2="315.40" y2="487.95" stroke="#222" stroke-width="0.6" />
<line x1="314.00" y1="487.19" x2="315.40" y2="487.19" stroke="#222" stroke-width="0.6" />
<line x1="314.00" y1="511.53" x2="315.40" y2="511.53" stroke="#222" stroke-width="0.6" />
<line x1="314.00" y1="508.94" x2="315.40" y2="508.94" stroke="#222" stroke-width="0.6" />
<line x1="314.00" y1="507.10" x2="315.40" y2="507.10" stroke="#222" stroke-width="0.6" />
<line x1="314.00" y1="505.67" x2="315.40" y2="505.67" stroke="#222" stroke-width="0.6" />
<line x1="314.00" y1="504.51" x2="315.40" y2="504.51" stroke="#222" stroke-width="0.6" />
<line x1="314.00" y1="503.52" x2="315.40" y2="503.52" stroke="#222" stroke-width="0.6" />
<line x1="314.00" y1="502.67" x2="315.40" y2="502.67" stroke="#222" stroke-width="0.6" />
<line x1="314.00" y1="501.91" x2="315.40" y2="501.91" stroke="#222" stroke-width="0.6" />
<line x1="314.00" y1="526.25" x2="315.40" y2="526.25" stroke="#222" stroke-width="0.6" />
<line x1="314.00" y1="523.66" x2="315.40" y2="523.66" stroke="#222" stroke-width="0.6" />
<line x1="314.00" y1="521.82" x2="315.40" y2="521.82" stroke="#222" stroke-width="0.6" />
<line x1="314.00" y1="520.39" x2="315.40" y2="520.39" stroke="#222" stroke-width="0.6" />
<line x1="314.00" y1="519.23" x2="315.40" y2="519.23" stroke="#222" stroke-width="0.6" />
<line x1="314.00" y1="518.24" x2="315.40" y2="518.24" stroke="#222" stroke-width="0.6" />
<line x1="314.00" y1="517.39" x2="315.40" y2="517.39" stroke="#222" stroke-width="0.6" />
<line x1="314.00" y1="516.63" x2="315.40" y2="516.63" stroke="#222" stroke-width="0.6" />
<line x1="312.80" y1="471.80" x2="315.40" y2="471.80" stroke="#111" stroke-width="1.0" />
<text transform="translate(309.80,475.30)" font-size="7.1" text-anchor="end" fill="#111" stroke="#111" stroke-width="0.18"><tspan>10</tspan><tspan font-size="4.9" dx="1.1" dy="-3.0">3</tspan></text>
<line x1="312.80" y1="486.52" x2="315.40" y2="486.52" stroke="#111" stroke-width="1.0" />
<text transform="translate(309.80,490.02)" font-size="7.1" text-anchor="end" fill="#111" stroke="#111" stroke-width="0.18"><tspan>10</tspan><tspan font-size="4.9" dx="1.1" dy="-3.0">2</tspan></text>
<line x1="312.80" y1="501.24" x2="315.40" y2="501.24" stroke="#111" stroke-width="1.0" />
<text transform="translate(309.80,504.74)" font-size="7.1" text-anchor="end" fill="#111" stroke="#111" stroke-width="0.18"><tspan>10</tspan><tspan font-size="4.9" dx="1.1" dy="-3.0">1</tspan></text>
<line x1="312.80" y1="515.96" x2="315.40" y2="515.96" stroke="#111" stroke-width="1.0" />
<text transform="translate(309.80,519.46)" font-size="7.1" text-anchor="end" fill="#111" stroke="#111" stroke-width="0.18"><tspan>10</tspan><tspan font-size="4.9" dx="1.1" dy="-3.0">0</tspan></text>
<line x1="312.80" y1="530.68" x2="315.40" y2="530.68" stroke="#111" stroke-width="1.0" />
<text transform="translate(309.80,534.18)" font-size="7.1" text-anchor="end" fill="#111" stroke="#111" stroke-width="0.18"><tspan>10</tspan><tspan font-size="4.9" dx="1.1" dy="-3.0">-1</tspan></text>
<line x1="315.40" y1="469.30" x2="315.40" y2="531.28" stroke="#111" stroke-width="1.2" />
<line x1="314.80" y1="530.68" x2="379.50" y2="530.68" stroke="#111" stroke-width="1.3" />
<line x1="316.90" y1="515.96" x2="379.50" y2="515.96" stroke="#222" stroke-width="0.9" stroke-dasharray="1.1,1.4"/>
<text transform="translate(270.20,499.04) rotate(-90) scale(0.94,1)" font-size="6.6" text-anchor="middle" fill="#111" font-style="italic" stroke="#111" stroke-width="0.35">IL-1beta</text>
<text transform="translate(281.80,499.64) rotate(-90) scale(0.95,1)" font-size="7.0" text-anchor="middle" fill="#111" stroke="#111" stroke-width="0.12"><tspan font-size="8.4">2</tspan><tspan font-size="5.6" dx="0.4" dy="-3.2">-ΔΔCt</tspan><tspan dy="3.2"> normalized to</tspan></text>
<text transform="translate(291.10,499.04) rotate(-90) scale(0.9,1)" font-size="7.1" text-anchor="middle" fill="#111" stroke="#111" stroke-width="0.12">basal expression</text>
<line x1="339.50" y1="478.50" x2="354.50" y2="478.50" stroke="#555555" stroke-width="1.25" />
<text transform="translate(347.00,480.20)" font-size="7.0" text-anchor="middle" fill="#1a1a1a" font-weight="bold" >**</text>
<line x1="339.50" y1="480.50" x2="371.30" y2="480.50" stroke="#555555" stroke-width="1.25" />
<text transform="translate(362.50,482.20)" font-size="7.0" text-anchor="middle" fill="#1a1a1a" font-weight="bold" >*</text>
<polygon points="321.25,492.75 323.00,494.50 321.25,496.25 319.50,494.50" fill="#5a2586" />
<polygon points="327.00,492.00 328.75,493.75 327.00,495.50 325.25,493.75" fill="#5a2586" />
<polygon points="323.75,495.25 325.50,497.00 323.75,498.75 322.00,497.00" fill="#5a2586" />
<polygon points="324.50,500.25 326.25,502.00 324.50,503.75 322.75,502.00" fill="#5a2586" />
<polygon points="337.50,508.94 339.00,511.54 336.00,511.54" fill="#5cb82e" />
<polygon points="341.25,508.94 342.75,511.54 339.75,511.54" fill="#5cb82e" />
<polygon points="338.75,512.94 340.25,515.54 337.25,515.54" fill="#5cb82e" />
<polygon points="342.50,512.94 344.00,515.54 341.00,515.54" fill="#5cb82e" />
<polygon points="339.50,515.94 341.00,518.54 338.00,518.54" fill="#5cb82e" />
<polygon points="353.00,486.44 354.50,489.04 351.50,489.04" fill="#c8102e" />
<polygon points="358.75,485.44 360.25,488.04 357.25,488.04" fill="#c8102e" />
<polygon points="355.00,490.94 356.50,493.54 353.50,493.54" fill="#c8102e" />
<polygon points="359.50,493.94 361.00,496.54 358.00,496.54" fill="#c8102e" />
<polygon points="352.50,496.44 354.00,499.04 351.00,499.04" fill="#c8102e" />
<polygon points="356.25,503.44 357.75,506.04 354.75,506.04" fill="#c8102e" />
<polygon points="369.50,490.31 371.00,487.71 368.00,487.71" fill="#1f4d9a" />
<polygon points="374.50,490.31 376.00,487.71 373.00,487.71" fill="#1f4d9a" />
<polygon points="372.00,496.56 373.50,493.96 370.50,493.96" fill="#1f4d9a" />
<polygon points="373.00,501.06 374.50,498.46 371.50,498.46" fill="#1f4d9a" />
<polygon points="368.75,513.56 370.25,510.96 367.25,510.96" fill="#1f4d9a" />
<polygon points="373.75,511.06 375.25,508.46 372.25,508.46" fill="#1f4d9a" />
<line x1="318.50" y1="495.50" x2="329.10" y2="495.50" stroke="#000" stroke-width="1.0" />
<line x1="323.50" y1="493.50" x2="323.50" y2="497.50" stroke="#000" stroke-width="1.0" />
<line x1="321.00" y1="493.50" x2="326.60" y2="493.50" stroke="#000" stroke-width="1.0" />
<line x1="321.00" y1="497.50" x2="326.60" y2="497.50" stroke="#000" stroke-width="1.0" />
<line x1="334.20" y1="513.50" x2="344.80" y2="513.50" stroke="#000" stroke-width="1.0" />
<line x1="339.50" y1="512.50" x2="339.50" y2="514.50" stroke="#000" stroke-width="1.0" />
<line x1="336.70" y1="512.50" x2="342.30" y2="512.50" stroke="#000" stroke-width="1.0" />
<line x1="336.70" y1="514.50" x2="342.30" y2="514.50" stroke="#000" stroke-width="1.0" />
<line x1="350.20" y1="492.50" x2="360.80" y2="492.50" stroke="#000" stroke-width="1.0" />
<line x1="355.50" y1="489.50" x2="355.50" y2="495.50" stroke="#000" stroke-width="1.0" />
<line x1="352.70" y1="489.50" x2="358.30" y2="489.50" stroke="#000" stroke-width="1.0" />
<line x1="352.70" y1="495.50" x2="358.30" y2="495.50" stroke="#000" stroke-width="1.0" />
<line x1="366.70" y1="495.50" x2="377.30" y2="495.50" stroke="#000" stroke-width="1.0" />
<line x1="372.50" y1="492.50" x2="372.50" y2="497.50" stroke="#000" stroke-width="1.0" />
<line x1="369.20" y1="492.50" x2="374.80" y2="492.50" stroke="#000" stroke-width="1.0" />
<line x1="369.20" y1="497.50" x2="374.80" y2="497.50" stroke="#000" stroke-width="1.0" />
<line x1="58.10" y1="582.12" x2="59.50" y2="582.12" stroke="#222" stroke-width="0.6" />
<line x1="58.10" y1="576.90" x2="59.50" y2="576.90" stroke="#222" stroke-width="0.6" />
<line x1="58.10" y1="573.20" x2="59.50" y2="573.20" stroke="#222" stroke-width="0.6" />
<line x1="58.10" y1="570.33" x2="59.50" y2="570.33" stroke="#222" stroke-width="0.6" />
<line x1="58.10" y1="567.98" x2="59.50" y2="567.98" stroke="#222" stroke-width="0.6" />
<line x1="58.10" y1="565.99" x2="59.50" y2="565.99" stroke="#222" stroke-width="0.6" />
<line x1="58.10" y1="564.27" x2="59.50" y2="564.27" stroke="#222" stroke-width="0.6" />
<line x1="58.10" y1="562.76" x2="59.50" y2="562.76" stroke="#222" stroke-width="0.6" />
<line x1="58.10" y1="611.77" x2="59.50" y2="611.77" stroke="#222" stroke-width="0.6" />
<line x1="58.10" y1="606.55" x2="59.50" y2="606.55" stroke="#222" stroke-width="0.6" />
<line x1="58.10" y1="602.85" x2="59.50" y2="602.85" stroke="#222" stroke-width="0.6" />
<line x1="58.10" y1="599.98" x2="59.50" y2="599.98" stroke="#222" stroke-width="0.6" />
<line x1="58.10" y1="597.63" x2="59.50" y2="597.63" stroke="#222" stroke-width="0.6" />
<line x1="58.10" y1="595.64" x2="59.50" y2="595.64" stroke="#222" stroke-width="0.6" />
<line x1="58.10" y1="593.92" x2="59.50" y2="593.92" stroke="#222" stroke-width="0.6" />
<line x1="58.10" y1="592.41" x2="59.50" y2="592.41" stroke="#222" stroke-width="0.6" />
<line x1="56.90" y1="561.40" x2="59.50" y2="561.40" stroke="#111" stroke-width="1.0" />
<text transform="translate(53.90,564.90)" font-size="7.1" text-anchor="end" fill="#111" stroke="#111" stroke-width="0.18"><tspan>10</tspan><tspan font-size="4.9" dx="1.1" dy="-3.0">1</tspan></text>
<line x1="56.90" y1="591.05" x2="59.50" y2="591.05" stroke="#111" stroke-width="1.0" />
<text transform="translate(53.90,594.55)" font-size="7.1" text-anchor="end" fill="#111" stroke="#111" stroke-width="0.18"><tspan>10</tspan><tspan font-size="4.9" dx="1.1" dy="-3.0">0</tspan></text>
<line x1="56.90" y1="620.70" x2="59.50" y2="620.70" stroke="#111" stroke-width="1.0" />
<text transform="translate(53.90,624.20)" font-size="7.1" text-anchor="end" fill="#111" stroke="#111" stroke-width="0.18"><tspan>10</tspan><tspan font-size="4.9" dx="1.1" dy="-3.0">-1</tspan></text>
<line x1="59.50" y1="558.90" x2="59.50" y2="621.30" stroke="#111" stroke-width="1.2" />
<line x1="58.90" y1="620.70" x2="121.30" y2="620.70" stroke="#111" stroke-width="1.3" />
<line x1="61.00" y1="591.05" x2="121.30" y2="591.05" stroke="#222" stroke-width="0.9" stroke-dasharray="1.1,1.4"/>
<text transform="translate(14.30,588.85) rotate(-90)" font-size="6.6" text-anchor="middle" fill="#111" font-style="italic" stroke="#111" stroke-width="0.35">HLA-A*02</text>
<text transform="translate(25.90,589.45) rotate(-90) scale(0.95,1)" font-size="7.0" text-anchor="middle" fill="#111" stroke="#111" stroke-width="0.12"><tspan font-size="8.4">2</tspan><tspan font-size="5.6" dx="0.4" dy="-3.2">-ΔΔCt</tspan><tspan dy="3.2"> normalized to</tspan></text>
<text transform="translate(35.20,588.85) rotate(-90) scale(0.9,1)" font-size="7.1" text-anchor="middle" fill="#111" stroke="#111" stroke-width="0.12">basal expression</text>
<line x1="82.50" y1="573.50" x2="96.30" y2="573.50" stroke="#555555" stroke-width="1.25" />
<text transform="translate(88.80,574.70)" font-size="7.0" text-anchor="middle" fill="#1a1a1a" font-weight="bold" >**</text>
<line x1="98.80" y1="573.50" x2="113.00" y2="573.50" stroke="#555555" stroke-width="1.25" />
<text transform="translate(106.30,574.70)" font-size="7.0" text-anchor="middle" fill="#1a1a1a" font-weight="bold" >*</text>
<polygon points="65.10,574.45 66.85,576.20 65.10,577.95 63.35,576.20" fill="#5a2586" />
<polygon points="69.80,577.55 71.55,579.30 69.80,581.05 68.05,579.30" fill="#5a2586" />
<polygon points="65.10,583.65 66.85,585.40 65.10,587.15 63.35,585.40" fill="#5a2586" />
<polygon points="69.80,582.95 71.55,584.70 69.80,586.45 68.05,584.70" fill="#5a2586" />
<polygon points="80.60,584.44 82.10,587.04 79.10,587.04" fill="#5cb82e" />
<polygon points="79.90,589.84 81.40,592.44 78.40,592.44" fill="#5cb82e" />
<polygon points="82.60,590.54 84.10,593.14 81.10,593.14" fill="#5cb82e" />
<polygon points="81.90,586.54 83.40,589.14 80.40,589.14" fill="#5cb82e" />
<polygon points="84.00,585.94 85.50,588.54 82.50,588.54" fill="#5cb82e" />
<polygon points="94.20,579.04 95.70,581.64 92.70,581.64" fill="#c8102e" />
<polygon points="97.00,577.84 98.50,580.44 95.50,580.44" fill="#c8102e" />
<polygon points="100.50,578.04 102.00,580.64 99.00,580.64" fill="#c8102e" />
<polygon points="95.50,580.64 97.00,583.24 94.00,583.24" fill="#c8102e" />
<polygon points="99.50,580.74 101.00,583.34 98.00,583.34" fill="#c8102e" />
<polygon points="101.50,579.64 103.00,582.24 100.00,582.24" fill="#c8102e" />
<polygon points="110.00,582.26 111.50,579.66 108.50,579.66" fill="#1f4d9a" />
<polygon points="112.90,581.86 114.40,579.26 111.40,579.26" fill="#1f4d9a" />
<polygon points="115.80,581.86 117.30,579.26 114.30,579.26" fill="#1f4d9a" />
<polygon points="112.20,589.66 113.70,587.06 110.70,587.06" fill="#1f4d9a" />
<polygon points="115.80,589.66 117.30,587.06 114.30,587.06" fill="#1f4d9a" />
<polygon points="113.50,585.06 115.00,582.46 112.00,582.46" fill="#1f4d9a" />
<line x1="62.20" y1="581.50" x2="72.80" y2="581.50" stroke="#000" stroke-width="1.0" />
<line x1="67.50" y1="578.50" x2="67.50" y2="583.50" stroke="#000" stroke-width="1.0" />
<line x1="64.70" y1="578.50" x2="70.30" y2="578.50" stroke="#000" stroke-width="1.0" />
<line x1="64.70" y1="583.50" x2="70.30" y2="583.50" stroke="#000" stroke-width="1.0" />
<line x1="76.90" y1="588.50" x2="87.50" y2="588.50" stroke="#000" stroke-width="1.0" />
<line x1="92.50" y1="580.50" x2="103.10" y2="580.50" stroke="#000" stroke-width="1.0" />
<line x1="107.90" y1="584.50" x2="118.50" y2="584.50" stroke="#000" stroke-width="1.0" />
<line x1="113.50" y1="582.50" x2="113.50" y2="585.50" stroke="#000" stroke-width="1.0" />
<line x1="110.40" y1="582.50" x2="116.00" y2="582.50" stroke="#000" stroke-width="1.0" />
<line x1="110.40" y1="585.50" x2="116.00" y2="585.50" stroke="#000" stroke-width="1.0" />
<line x1="185.50" y1="571.97" x2="186.90" y2="571.97" stroke="#222" stroke-width="0.6" />
<line x1="185.50" y1="569.39" x2="186.90" y2="569.39" stroke="#222" stroke-width="0.6" />
<line x1="185.50" y1="567.55" x2="186.90" y2="567.55" stroke="#222" stroke-width="0.6" />
<line x1="185.50" y1="566.13" x2="186.90" y2="566.13" stroke="#222" stroke-width="0.6" />
<line x1="185.50" y1="564.96" x2="186.90" y2="564.96" stroke="#222" stroke-width="0.6" />
<line x1="185.50" y1="563.98" x2="186.90" y2="563.98" stroke="#222" stroke-width="0.6" />
<line x1="185.50" y1="563.12" x2="186.90" y2="563.12" stroke="#222" stroke-width="0.6" />
<line x1="185.50" y1="562.37" x2="186.90" y2="562.37" stroke="#222" stroke-width="0.6" />
<line x1="185.50" y1="586.67" x2="186.90" y2="586.67" stroke="#222" stroke-width="0.6" />
<line x1="185.50" y1="584.09" x2="186.90" y2="584.09" stroke="#222" stroke-width="0.6" />
<line x1="185.50" y1="582.25" x2="186.90" y2="582.25" stroke="#222" stroke-width="0.6" />
<line x1="185.50" y1="580.83" x2="186.90" y2="580.83" stroke="#222" stroke-width="0.6" />
<line x1="185.50" y1="579.66" x2="186.90" y2="579.66" stroke="#222" stroke-width="0.6" />
<line x1="185.50" y1="578.68" x2="186.90" y2="578.68" stroke="#222" stroke-width="0.6" />
<line x1="185.50" y1="577.82" x2="186.90" y2="577.82" stroke="#222" stroke-width="0.6" />
<line x1="185.50" y1="577.07" x2="186.90" y2="577.07" stroke="#222" stroke-width="0.6" />
<line x1="185.50" y1="601.37" x2="186.90" y2="601.37" stroke="#222" stroke-width="0.6" />
<line x1="185.50" y1="598.79" x2="186.90" y2="598.79" stroke="#222" stroke-width="0.6" />
<line x1="185.50" y1="596.95" x2="186.90" y2="596.95" stroke="#222" stroke-width="0.6" />
<line x1="185.50" y1="595.53" x2="186.90" y2="595.53" stroke="#222" stroke-width="0.6" />
<line x1="185.50" y1="594.36" x2="186.90" y2="594.36" stroke="#222" stroke-width="0.6" />
<line x1="185.50" y1="593.38" x2="186.90" y2="593.38" stroke="#222" stroke-width="0.6" />
<line x1="185.50" y1="592.52" x2="186.90" y2="592.52" stroke="#222" stroke-width="0.6" />
<line x1="185.50" y1="591.77" x2="186.90" y2="591.77" stroke="#222" stroke-width="0.6" />
<line x1="185.50" y1="616.07" x2="186.90" y2="616.07" stroke="#222" stroke-width="0.6" />
<line x1="185.50" y1="613.49" x2="186.90" y2="613.49" stroke="#222" stroke-width="0.6" />
<line x1="185.50" y1="611.65" x2="186.90" y2="611.65" stroke="#222" stroke-width="0.6" />
<line x1="185.50" y1="610.23" x2="186.90" y2="610.23" stroke="#222" stroke-width="0.6" />
<line x1="185.50" y1="609.06" x2="186.90" y2="609.06" stroke="#222" stroke-width="0.6" />
<line x1="185.50" y1="608.08" x2="186.90" y2="608.08" stroke="#222" stroke-width="0.6" />
<line x1="185.50" y1="607.22" x2="186.90" y2="607.22" stroke="#222" stroke-width="0.6" />
<line x1="185.50" y1="606.47" x2="186.90" y2="606.47" stroke="#222" stroke-width="0.6" />
<line x1="184.30" y1="561.70" x2="186.90" y2="561.70" stroke="#111" stroke-width="1.0" />
<text transform="translate(181.30,565.20)" font-size="7.1" text-anchor="end" fill="#111" stroke="#111" stroke-width="0.18"><tspan>10</tspan><tspan font-size="4.9" dx="1.1" dy="-3.0">4</tspan></text>
<line x1="184.30" y1="576.40" x2="186.90" y2="576.40" stroke="#111" stroke-width="1.0" />
<text transform="translate(181.30,579.90)" font-size="7.1" text-anchor="end" fill="#111" stroke="#111" stroke-width="0.18"><tspan>10</tspan><tspan font-size="4.9" dx="1.1" dy="-3.0">3</tspan></text>
<line x1="184.30" y1="591.10" x2="186.90" y2="591.10" stroke="#111" stroke-width="1.0" />
<text transform="translate(181.30,594.60)" font-size="7.1" text-anchor="end" fill="#111" stroke="#111" stroke-width="0.18"><tspan>10</tspan><tspan font-size="4.9" dx="1.1" dy="-3.0">2</tspan></text>
<line x1="184.30" y1="605.80" x2="186.90" y2="605.80" stroke="#111" stroke-width="1.0" />
<text transform="translate(181.30,609.30)" font-size="7.1" text-anchor="end" fill="#111" stroke="#111" stroke-width="0.18"><tspan>10</tspan><tspan font-size="4.9" dx="1.1" dy="-3.0">1</tspan></text>
<line x1="184.30" y1="620.50" x2="186.90" y2="620.50" stroke="#111" stroke-width="1.0" />
<text transform="translate(181.30,624.00)" font-size="7.1" text-anchor="end" fill="#111" stroke="#111" stroke-width="0.18"><tspan>10</tspan><tspan font-size="4.9" dx="1.1" dy="-3.0">0</tspan></text>
<line x1="186.90" y1="559.20" x2="186.90" y2="621.10" stroke="#111" stroke-width="1.2" />
<line x1="186.30" y1="620.50" x2="250.00" y2="620.50" stroke="#111" stroke-width="1.3" />
<text transform="translate(141.70,588.90) rotate(-90) scale(0.95,1)" font-size="6.6" text-anchor="middle" fill="#111" font-style="italic" stroke="#111" stroke-width="0.35">CIITA</text>
<text transform="translate(153.30,589.50) rotate(-90) scale(0.95,1)" font-size="7.0" text-anchor="middle" fill="#111" stroke="#111" stroke-width="0.12"><tspan font-size="8.4">2</tspan><tspan font-size="5.6" dx="0.4" dy="-3.2">-ΔΔCt</tspan><tspan dy="3.2"> normalized to</tspan></text>
<text transform="translate(162.60,588.90) rotate(-90) scale(0.9,1)" font-size="7.1" text-anchor="middle" fill="#111" stroke="#111" stroke-width="0.12">basal expression</text>
<line x1="210.30" y1="550.50" x2="245.60" y2="550.50" stroke="#555555" stroke-width="1.25" />
<text transform="translate(227.80,552.10)" font-size="7.0" text-anchor="middle" fill="#1a1a1a" font-weight="bold" >*</text>
<line x1="194.70" y1="555.50" x2="224.70" y2="555.50" stroke="#555555" stroke-width="1.25" />
<text transform="translate(202.50,557.20)" font-size="7.0" text-anchor="middle" fill="#1a1a1a" font-weight="bold" >**</text>
<line x1="227.40" y1="555.50" x2="245.60" y2="555.50" stroke="#555555" stroke-width="1.25" />
<text transform="translate(236.10,557.20)" font-size="7.0" text-anchor="middle" fill="#1a1a1a" font-weight="bold" >**</text>
<line x1="194.70" y1="560.50" x2="245.60" y2="560.50" stroke="#555555" stroke-width="1.25" />
<text transform="translate(220.30,562.20)" font-size="7.0" text-anchor="middle" fill="#1a1a1a" font-weight="bold" >**</text>
<polygon points="192.00,593.25 193.75,595.00 192.00,596.75 190.25,595.00" fill="#5a2586" />
<polygon points="197.50,592.05 199.25,593.80 197.50,595.55 195.75,593.80" fill="#5a2586" />
<polygon points="195.50,602.05 197.25,603.80 195.50,605.55 193.75,603.80" fill="#5a2586" />
<polygon points="195.50,611.25 197.25,613.00 195.50,614.75 193.75,613.00" fill="#5a2586" />
<polygon points="210.00,562.24 211.50,564.84 208.50,564.84" fill="#5cb82e" />
<polygon points="208.00,564.74 209.50,567.34 206.50,567.34" fill="#5cb82e" />
<polygon points="212.50,566.44 214.00,569.04 211.00,569.04" fill="#5cb82e" />
<polygon points="210.50,580.44 212.00,583.04 209.00,583.04" fill="#5cb82e" />
<polygon points="213.00,563.44 214.50,566.04 211.50,566.04" fill="#5cb82e" />
<polygon points="224.50,563.44 226.00,566.04 223.00,566.04" fill="#c8102e" />
<polygon points="229.50,563.44 231.00,566.04 228.00,566.04" fill="#c8102e" />
<polygon points="223.75,570.44 225.25,573.04 222.25,573.04" fill="#c8102e" />
<polygon points="228.75,570.44 230.25,573.04 227.25,573.04" fill="#c8102e" />
<polygon points="227.00,564.44 228.50,567.04 225.50,567.04" fill="#c8102e" />
<polygon points="240.00,573.56 241.50,570.96 238.50,570.96" fill="#1f4d9a" />
<polygon points="244.50,573.56 246.00,570.96 243.00,570.96" fill="#1f4d9a" />
<polygon points="242.00,577.81 243.50,575.21 240.50,575.21" fill="#1f4d9a" />
<polygon points="240.00,582.81 241.50,580.21 238.50,580.21" fill="#1f4d9a" />
<polygon points="244.50,582.81 246.00,580.21 243.00,580.21" fill="#1f4d9a" />
<line x1="190.20" y1="598.50" x2="200.80" y2="598.50" stroke="#000" stroke-width="1.0" />
<line x1="195.50" y1="595.50" x2="195.50" y2="602.50" stroke="#000" stroke-width="1.0" />
<line x1="192.70" y1="595.50" x2="198.30" y2="595.50" stroke="#000" stroke-width="1.0" />
<line x1="192.70" y1="602.50" x2="198.30" y2="602.50" stroke="#000" stroke-width="1.0" />
<line x1="205.20" y1="567.50" x2="215.80" y2="567.50" stroke="#000" stroke-width="1.0" />
<line x1="210.50" y1="566.50" x2="210.50" y2="568.50" stroke="#000" stroke-width="1.0" />
<line x1="207.70" y1="566.50" x2="213.30" y2="566.50" stroke="#000" stroke-width="1.0" />
<line x1="207.70" y1="568.50" x2="213.30" y2="568.50" stroke="#000" stroke-width="1.0" />
<line x1="221.00" y1="566.50" x2="231.60" y2="566.50" stroke="#000" stroke-width="1.0" />
<line x1="226.50" y1="565.50" x2="226.50" y2="567.50" stroke="#000" stroke-width="1.0" />
<line x1="223.50" y1="565.50" x2="229.10" y2="565.50" stroke="#000" stroke-width="1.0" />
<line x1="223.50" y1="567.50" x2="229.10" y2="567.50" stroke="#000" stroke-width="1.0" />
<line x1="236.70" y1="574.50" x2="247.30" y2="574.50" stroke="#000" stroke-width="1.0" />
<line x1="242.50" y1="573.50" x2="242.50" y2="576.50" stroke="#000" stroke-width="1.0" />
<line x1="239.20" y1="573.50" x2="244.80" y2="573.50" stroke="#000" stroke-width="1.0" />
<line x1="239.20" y1="576.50" x2="244.80" y2="576.50" stroke="#000" stroke-width="1.0" />
<polygon points="290.60,569.60 292.70,571.70 290.60,573.80 288.50,571.70" fill="#5a2586" />
<text transform="translate(296.30,574.40)" font-size="7.4" text-anchor="start" fill="#111" >TNFα(400U/ml), n=4</text>
<polygon points="290.60,581.43 292.40,584.55 288.80,584.55" fill="#5cb82e" />
<text transform="translate(296.30,586.00)" font-size="7.4" text-anchor="start" fill="#111" >IFNγ(100U/ml), n=6</text>
<polygon points="290.60,593.93 292.40,597.05 288.80,597.05" fill="#c8102e" />
<text transform="translate(296.30,598.50)" font-size="7.4" text-anchor="start" fill="#111" ><tspan>A2-CAR CD8</tspan><tspan font-size="4.8" dy="-2.9">+</tspan><tspan dy="2.9">Tregs / HLA-A*02</tspan><tspan font-size="4.8" dy="-2.9">+</tspan><tspan dy="2.9"> EC, n=6</tspan></text>
<polygon points="290.60,610.17 292.40,607.05 288.80,607.05" fill="#1f4d9a" />
<text transform="translate(296.30,611.00)" font-size="7.4" text-anchor="start" fill="#111" ><tspan>Her2-CAR CD8</tspan><tspan font-size="4.8" dy="-2.9">+</tspan><tspan dy="2.9">Tregs / HLA-A*02</tspan><tspan font-size="4.8" dy="-2.9">+</tspan><tspan dy="2.9"> EC, n=6</tspan></text>
<rect x="0.5" y="0.5" width="519" height="633" fill="none" stroke="#000" stroke-width="1.3"/>
</svg>
</body></html>
